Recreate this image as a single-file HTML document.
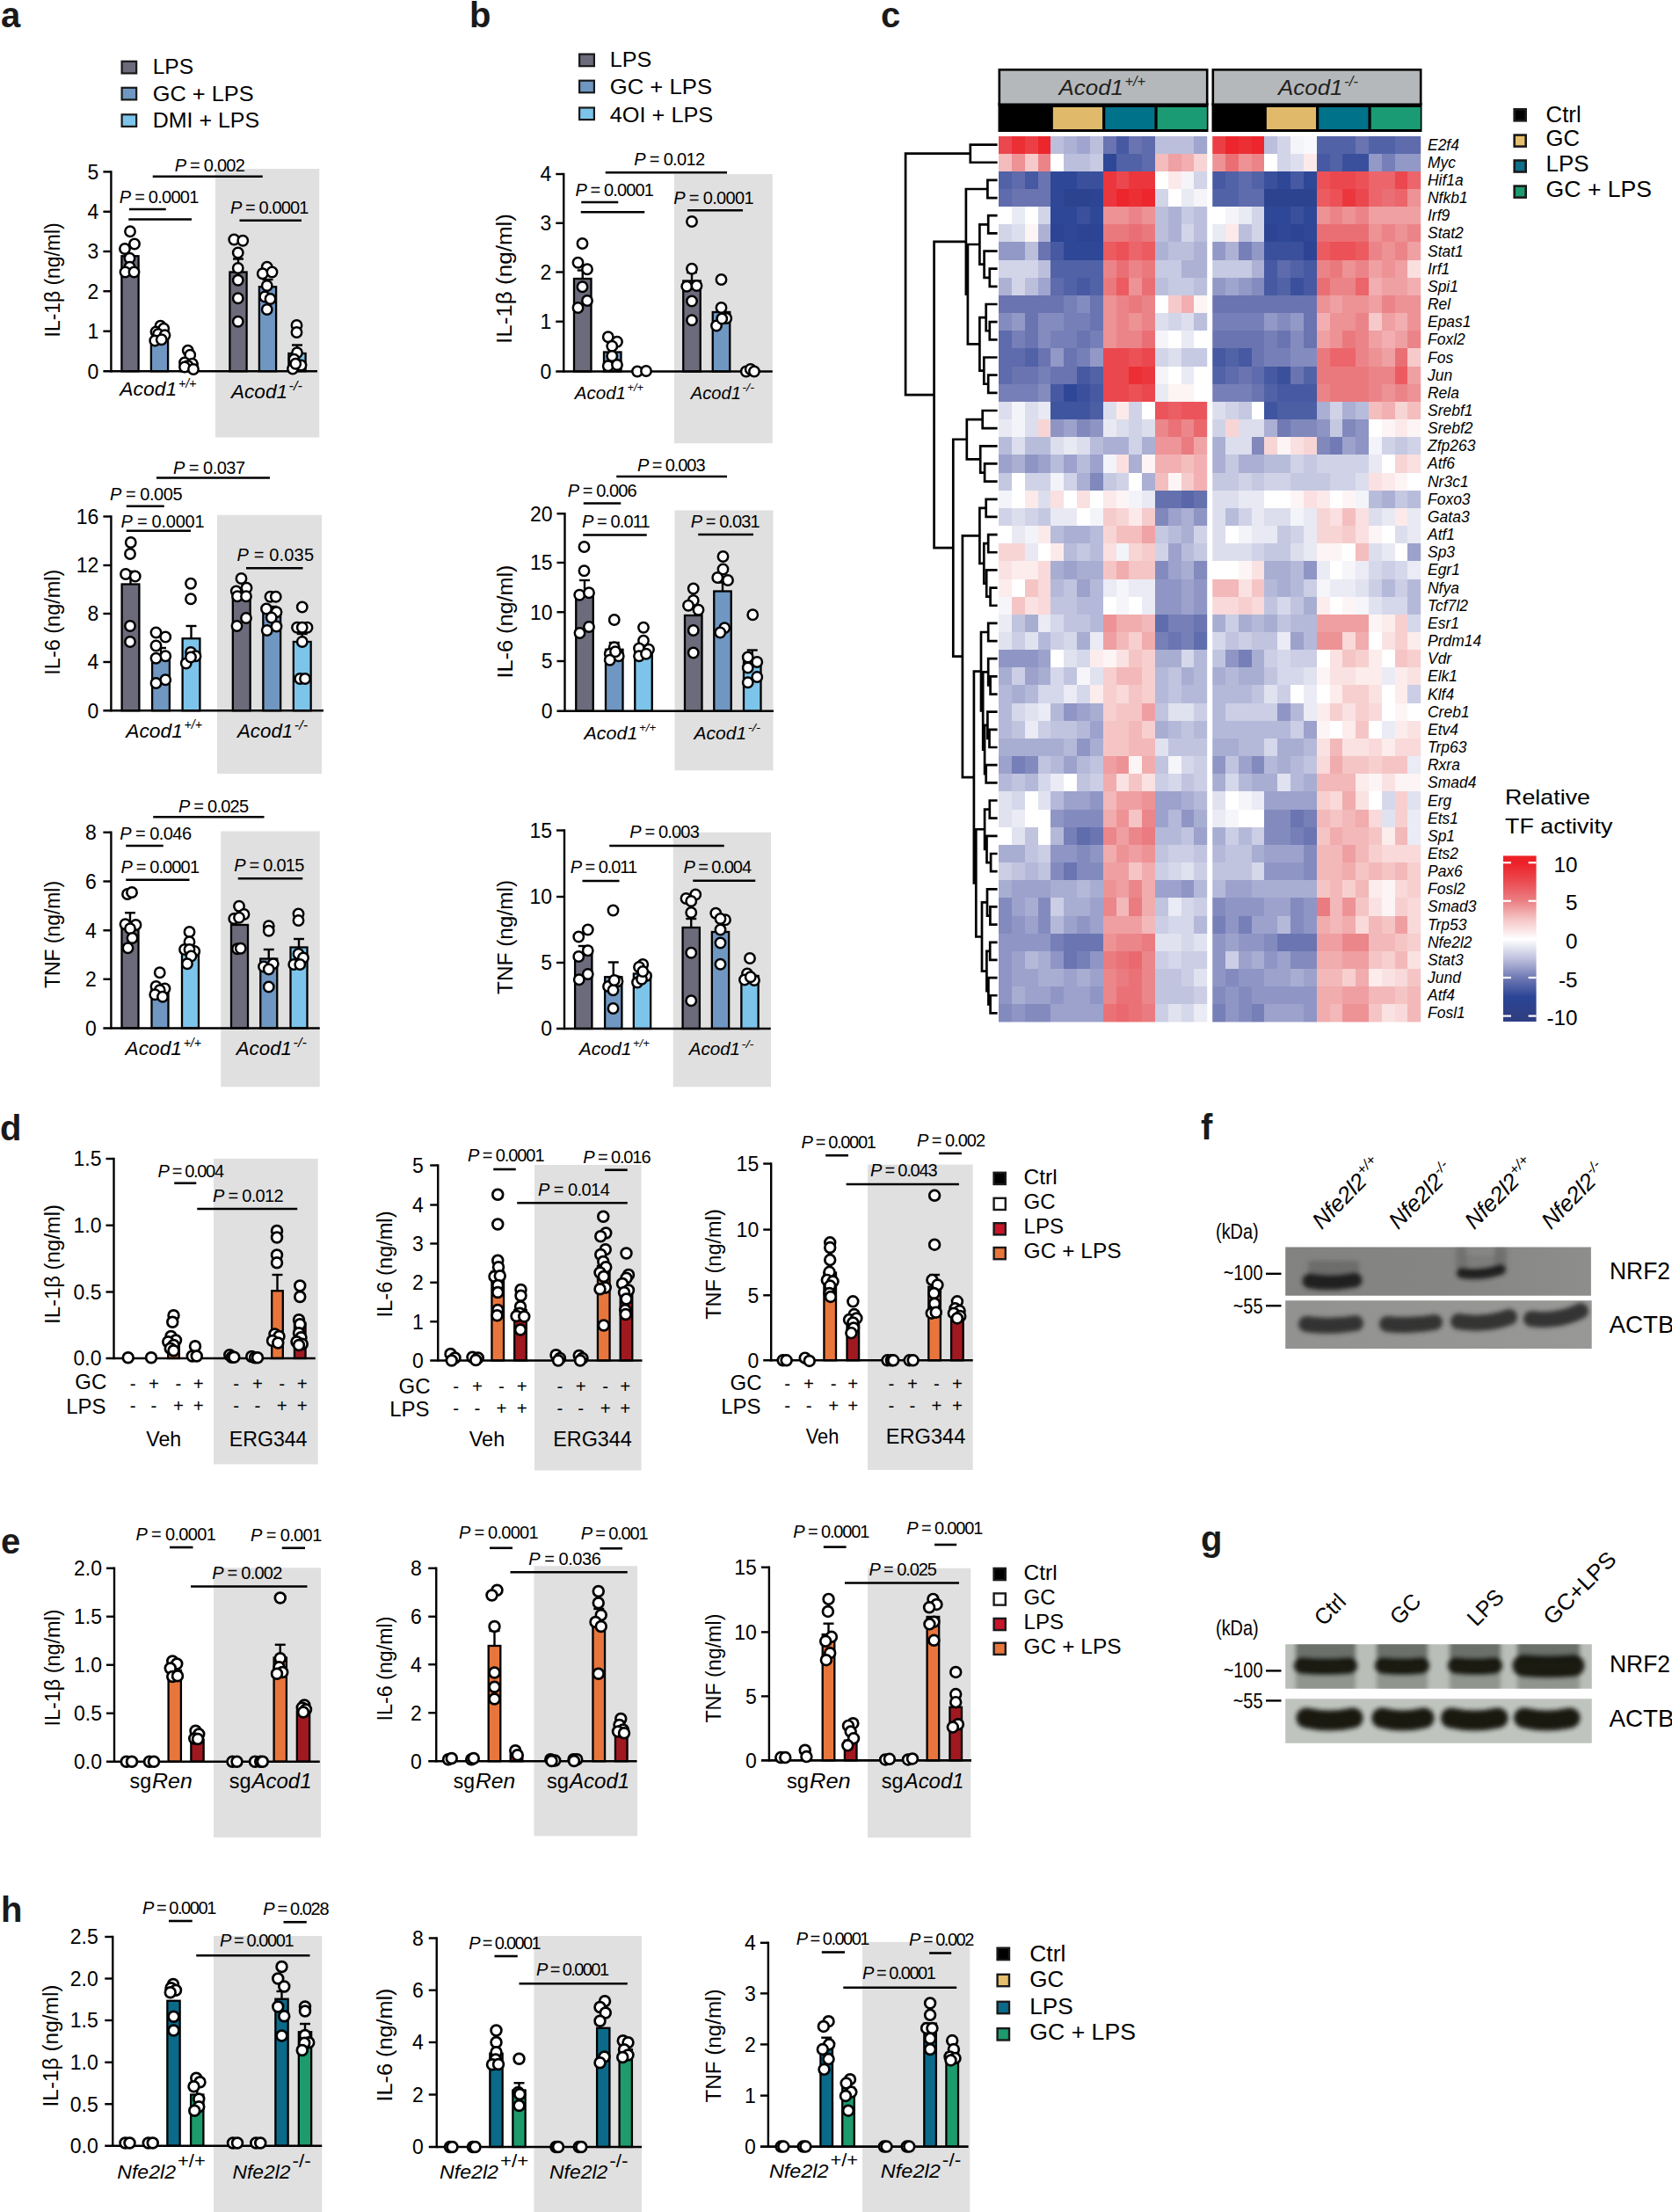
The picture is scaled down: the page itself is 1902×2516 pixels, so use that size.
<!DOCTYPE html>
<html><head><meta charset="utf-8"><title>Figure</title>
<style>html,body{margin:0;padding:0;background:#fff}svg{display:block}svg text{font-family:"Liberation Sans",sans-serif}</style></head>
<body>
<svg width="1902" height="2516" viewBox="0 0 1902 2516" font-family="'Liberation Sans', sans-serif" fill="#000">
<text x="1" y="30.5" font-size="40" font-weight="bold" fill="#1a1a1a">a</text>
<rect x="138.6" y="69.8" width="16.55" height="13.6" fill="#6b6b7b" stroke="#1a1a1a" stroke-width="2.2"/>
<text x="173.7" y="84.2" font-size="24.6" textLength="46.5" lengthAdjust="spacingAndGlyphs">LPS</text>
<rect x="138.6" y="99.8" width="16.55" height="13.6" fill="#6f97c1" stroke="#1a1a1a" stroke-width="2.2"/>
<text x="173.7" y="114.6" font-size="24.6" textLength="115" lengthAdjust="spacingAndGlyphs">GC + LPS</text>
<rect x="138.6" y="130.3" width="16.55" height="13.6" fill="#7dc4ea" stroke="#1a1a1a" stroke-width="2.2"/>
<text x="173.7" y="145" font-size="24.6" textLength="121.5" lengthAdjust="spacingAndGlyphs">DMI + LPS</text>
<rect x="245" y="192" width="118.25" height="305.5" fill="#e0e0e0"/>
<rect x="138.4" y="291.25" width="19.2" height="131" fill="#6b6b7b" stroke="#000" stroke-width="2.3"/>
<rect x="171.9" y="385" width="19.2" height="37.25" fill="#6f97c1" stroke="#000" stroke-width="2.3"/>
<rect x="205.4" y="413.75" width="19.2" height="8.5" fill="#7dc4ea" stroke="#000" stroke-width="2.3"/>
<rect x="261.4" y="309.5" width="19.2" height="112.75" fill="#6b6b7b" stroke="#000" stroke-width="2.3"/>
<rect x="294.9" y="326.25" width="19.2" height="96" fill="#6f97c1" stroke="#000" stroke-width="2.3"/>
<rect x="328.4" y="402" width="19.2" height="20.25" fill="#7dc4ea" stroke="#000" stroke-width="2.3"/>
<line x1="271" y1="294.5" x2="271" y2="310" stroke="#000" stroke-width="2.4"/>
<line x1="265" y1="294.5" x2="277" y2="294.5" stroke="#000" stroke-width="2.4"/>
<line x1="338" y1="392.5" x2="338" y2="403" stroke="#000" stroke-width="2.4"/>
<line x1="332" y1="392.5" x2="344" y2="392.5" stroke="#000" stroke-width="2.4"/>
<line x1="304.5" y1="318" x2="304.5" y2="327" stroke="#000" stroke-width="2.4"/>
<line x1="298.5" y1="318" x2="310.5" y2="318" stroke="#000" stroke-width="2.4"/>
<line x1="126.4" y1="194.2" x2="126.4" y2="423.45" stroke="#000" stroke-width="2.4"/>
<line x1="117.4" y1="422.25" x2="361" y2="422.25" stroke="#000" stroke-width="2.6"/>
<line x1="117.4" y1="195.4" x2="126.4" y2="195.4" stroke="#000" stroke-width="2.4"/>
<text x="112.4" y="203.7" font-size="23" text-anchor="end">5</text>
<line x1="117.4" y1="240.75" x2="126.4" y2="240.75" stroke="#000" stroke-width="2.4"/>
<text x="112.4" y="249.05" font-size="23" text-anchor="end">4</text>
<line x1="117.4" y1="286" x2="126.4" y2="286" stroke="#000" stroke-width="2.4"/>
<text x="112.4" y="294.3" font-size="23" text-anchor="end">3</text>
<line x1="117.4" y1="331.25" x2="126.4" y2="331.25" stroke="#000" stroke-width="2.4"/>
<text x="112.4" y="339.55" font-size="23" text-anchor="end">2</text>
<line x1="117.4" y1="376.75" x2="126.4" y2="376.75" stroke="#000" stroke-width="2.4"/>
<text x="112.4" y="385.05" font-size="23" text-anchor="end">1</text>
<text x="112.4" y="430.55" font-size="23" text-anchor="end">0</text>
<g fill="#fff" stroke="#000" stroke-width="2.5">
<circle cx="148" cy="263.25" r="5.7"/>
<circle cx="153" cy="277.5" r="5.7"/>
<circle cx="142" cy="283" r="5.7"/>
<circle cx="147.5" cy="293.75" r="5.7"/>
<circle cx="147.5" cy="303.75" r="5.7"/>
<circle cx="142.5" cy="309.5" r="5.7"/>
<circle cx="152.5" cy="309.5" r="5.7"/>
<circle cx="182.5" cy="370.75" r="5.7"/>
<circle cx="177.5" cy="377.5" r="5.7"/>
<circle cx="186.25" cy="373.75" r="5.7"/>
<circle cx="180" cy="380" r="5.7"/>
<circle cx="187.5" cy="381.25" r="5.7"/>
<circle cx="176.25" cy="387.5" r="5.7"/>
<circle cx="183.75" cy="386.25" r="5.7"/>
<circle cx="213.75" cy="398.75" r="5.7"/>
<circle cx="216.25" cy="403.75" r="5.7"/>
<circle cx="210" cy="412.5" r="5.7"/>
<circle cx="218.75" cy="413.75" r="5.7"/>
<circle cx="213.75" cy="416.25" r="5.7"/>
<circle cx="210" cy="417.5" r="5.7"/>
<circle cx="220" cy="420" r="5.7"/>
<circle cx="266.25" cy="272.5" r="5.7"/>
<circle cx="276.25" cy="273.75" r="5.7"/>
<circle cx="270.75" cy="287.5" r="5.7"/>
<circle cx="270.75" cy="305" r="5.7"/>
<circle cx="270.75" cy="318.75" r="5.7"/>
<circle cx="270.75" cy="339.25" r="5.7"/>
<circle cx="270.75" cy="365.75" r="5.7"/>
<circle cx="303.75" cy="303.75" r="5.7"/>
<circle cx="298.75" cy="311.25" r="5.7"/>
<circle cx="309.5" cy="309.5" r="5.7"/>
<circle cx="303.75" cy="325" r="5.7"/>
<circle cx="301.25" cy="337.5" r="5.7"/>
<circle cx="307.5" cy="340" r="5.7"/>
<circle cx="303.75" cy="352" r="5.7"/>
<circle cx="337.5" cy="370" r="5.7"/>
<circle cx="337.5" cy="378" r="5.7"/>
<circle cx="338" cy="401.25" r="5.7"/>
<circle cx="334.5" cy="408.75" r="5.7"/>
<circle cx="342.5" cy="415.5" r="5.7"/>
<circle cx="333" cy="419.5" r="5.7"/>
<circle cx="336.25" cy="413.75" r="5.7"/>
</g>
<text x="198.75" y="195" font-size="20" textLength="80" lengthAdjust="spacing"><tspan font-style="italic">P</tspan> = 0.002</text>
<line x1="173.75" y1="200.75" x2="298.75" y2="200.75" stroke="#000" stroke-width="2.6"/>
<text x="135.75" y="230.75" font-size="20" textLength="90.5" lengthAdjust="spacing"><tspan font-style="italic">P</tspan> = 0.0001</text>
<line x1="147" y1="238" x2="188.75" y2="238" stroke="#000" stroke-width="2.6"/>
<line x1="146.25" y1="249.5" x2="218" y2="249.5" stroke="#000" stroke-width="2.6"/>
<text x="262" y="242.5" font-size="20" textLength="89.25" lengthAdjust="spacing"><tspan font-style="italic">P</tspan> = 0.0001</text>
<line x1="272.5" y1="250.75" x2="343" y2="250.75" stroke="#000" stroke-width="2.6"/>
<text x="136.3" y="450.3" font-size="22.38" font-style="italic" textLength="64.89" lengthAdjust="spacingAndGlyphs">Acod1</text>
<text x="202.93" y="440.9" font-size="14.32" font-style="italic" textLength="20.47" lengthAdjust="spacingAndGlyphs">+/+</text>
<text x="263" y="453.4" font-size="22.07" font-style="italic" textLength="63.99" lengthAdjust="spacingAndGlyphs">Acod1</text>
<text x="328.61" y="444.13" font-size="14.12" font-style="italic" textLength="15.39" lengthAdjust="spacingAndGlyphs">-/-</text>
<text font-size="23.5" text-anchor="middle" textLength="130" lengthAdjust="spacingAndGlyphs" transform="translate(68.2,318.4) rotate(-90)">IL-1β (ng/ml)</text>
<rect x="247" y="585.75" width="119" height="294.25" fill="#e0e0e0"/>
<rect x="138.6" y="664.5" width="19.8" height="143.75" fill="#6b6b7b" stroke="#000" stroke-width="2.3"/>
<rect x="173.1" y="746" width="19.8" height="62.25" fill="#6f97c1" stroke="#000" stroke-width="2.3"/>
<rect x="207.6" y="726.25" width="19.8" height="82" fill="#7dc4ea" stroke="#000" stroke-width="2.3"/>
<rect x="264.85" y="680" width="19.8" height="128.25" fill="#6b6b7b" stroke="#000" stroke-width="2.3"/>
<rect x="299.35" y="697.5" width="19.8" height="110.75" fill="#6f97c1" stroke="#000" stroke-width="2.3"/>
<rect x="333.85" y="730" width="19.8" height="78.25" fill="#7dc4ea" stroke="#000" stroke-width="2.3"/>
<line x1="148.5" y1="650" x2="148.5" y2="665" stroke="#000" stroke-width="2.4"/>
<line x1="142.5" y1="650" x2="154.5" y2="650" stroke="#000" stroke-width="2.4"/>
<line x1="183" y1="737" x2="183" y2="747" stroke="#000" stroke-width="2.4"/>
<line x1="177" y1="737" x2="189" y2="737" stroke="#000" stroke-width="2.4"/>
<line x1="217.5" y1="712" x2="217.5" y2="727" stroke="#000" stroke-width="2.4"/>
<line x1="211.5" y1="712" x2="223.5" y2="712" stroke="#000" stroke-width="2.4"/>
<line x1="309.25" y1="690" x2="309.25" y2="698" stroke="#000" stroke-width="2.4"/>
<line x1="303.25" y1="690" x2="315.25" y2="690" stroke="#000" stroke-width="2.4"/>
<line x1="343.75" y1="721" x2="343.75" y2="731" stroke="#000" stroke-width="2.4"/>
<line x1="337.75" y1="721" x2="349.75" y2="721" stroke="#000" stroke-width="2.4"/>
<line x1="126.4" y1="586.3" x2="126.4" y2="809.45" stroke="#000" stroke-width="2.4"/>
<line x1="117.4" y1="808.25" x2="368" y2="808.25" stroke="#000" stroke-width="2.6"/>
<line x1="117.4" y1="587.5" x2="126.4" y2="587.5" stroke="#000" stroke-width="2.4"/>
<text x="112.4" y="595.8" font-size="23" text-anchor="end">16</text>
<line x1="117.4" y1="643" x2="126.4" y2="643" stroke="#000" stroke-width="2.4"/>
<text x="112.4" y="651.3" font-size="23" text-anchor="end">12</text>
<line x1="117.4" y1="698" x2="126.4" y2="698" stroke="#000" stroke-width="2.4"/>
<text x="112.4" y="706.3" font-size="23" text-anchor="end">8</text>
<line x1="117.4" y1="753" x2="126.4" y2="753" stroke="#000" stroke-width="2.4"/>
<text x="112.4" y="761.3" font-size="23" text-anchor="end">4</text>
<text x="112.4" y="816.55" font-size="23" text-anchor="end">0</text>
<g fill="#fff" stroke="#000" stroke-width="2.5">
<circle cx="148.75" cy="617" r="5.7"/>
<circle cx="148" cy="630" r="5.7"/>
<circle cx="143" cy="653" r="5.7"/>
<circle cx="153.75" cy="655.5" r="5.7"/>
<circle cx="148" cy="712" r="5.7"/>
<circle cx="148" cy="730" r="5.7"/>
<circle cx="177.5" cy="719.5" r="5.7"/>
<circle cx="188.25" cy="724.5" r="5.7"/>
<circle cx="177.5" cy="734.5" r="5.7"/>
<circle cx="188.25" cy="746.25" r="5.7"/>
<circle cx="177.5" cy="748.75" r="5.7"/>
<circle cx="188.25" cy="773.25" r="5.7"/>
<circle cx="177.5" cy="777" r="5.7"/>
<circle cx="217" cy="663.75" r="5.7"/>
<circle cx="217" cy="681.25" r="5.7"/>
<circle cx="217" cy="742" r="5.7"/>
<circle cx="222.5" cy="746.25" r="5.7"/>
<circle cx="211.75" cy="754.5" r="5.7"/>
<circle cx="217" cy="747.5" r="5.7"/>
<circle cx="274.5" cy="658" r="5.7"/>
<circle cx="280.5" cy="668.75" r="5.7"/>
<circle cx="268.75" cy="672.5" r="5.7"/>
<circle cx="270" cy="678.25" r="5.7"/>
<circle cx="280" cy="678.25" r="5.7"/>
<circle cx="280" cy="703" r="5.7"/>
<circle cx="269.5" cy="712" r="5.7"/>
<circle cx="307.5" cy="678.75" r="5.7"/>
<circle cx="313.75" cy="678.75" r="5.7"/>
<circle cx="303" cy="692.5" r="5.7"/>
<circle cx="314.5" cy="696.25" r="5.7"/>
<circle cx="308.75" cy="702.5" r="5.7"/>
<circle cx="314.5" cy="712.5" r="5.7"/>
<circle cx="303.75" cy="717" r="5.7"/>
<circle cx="343.75" cy="690.5" r="5.7"/>
<circle cx="338" cy="713.75" r="5.7"/>
<circle cx="349.5" cy="713.75" r="5.7"/>
<circle cx="343.75" cy="713.75" r="5.7"/>
<circle cx="343.75" cy="730" r="5.7"/>
<circle cx="341.25" cy="772" r="5.7"/>
<circle cx="347" cy="772" r="5.7"/>
</g>
<text x="197" y="538.75" font-size="20" textLength="82" lengthAdjust="spacing"><tspan font-style="italic">P</tspan> = 0.037</text>
<line x1="178" y1="543.5" x2="307" y2="543.5" stroke="#000" stroke-width="2.6"/>
<text x="125" y="568.75" font-size="20" textLength="82.5" lengthAdjust="spacing"><tspan font-style="italic">P</tspan> = 0.005</text>
<line x1="143.75" y1="575.75" x2="186.75" y2="575.75" stroke="#000" stroke-width="2.6"/>
<text x="137.5" y="599.5" font-size="20" textLength="95" lengthAdjust="spacing"><tspan font-style="italic">P</tspan> = 0.0001</text>
<line x1="143.75" y1="603.75" x2="217" y2="603.75" stroke="#000" stroke-width="2.6"/>
<text x="269.5" y="638" font-size="20" textLength="87.5" lengthAdjust="spacing"><tspan font-style="italic">P</tspan> = 0.035</text>
<line x1="280" y1="646.25" x2="344.5" y2="646.25" stroke="#000" stroke-width="2.6"/>
<text x="143.25" y="838.75" font-size="22.29" font-style="italic" textLength="64.63" lengthAdjust="spacingAndGlyphs">Acod1</text>
<text x="209.61" y="829.39" font-size="14.26" font-style="italic" textLength="20.39" lengthAdjust="spacingAndGlyphs">+/+</text>
<text x="270" y="838.75" font-size="21.79" font-style="italic" textLength="63.2" lengthAdjust="spacingAndGlyphs">Acod1</text>
<text x="334.8" y="829.6" font-size="13.95" font-style="italic" textLength="15.2" lengthAdjust="spacingAndGlyphs">-/-</text>
<text font-size="23.5" text-anchor="middle" textLength="120" lengthAdjust="spacingAndGlyphs" transform="translate(68.4,707.7) rotate(-90)">IL-6 (ng/ml)</text>
<rect x="251.25" y="945.5" width="112.5" height="290.75" fill="#e0e0e0"/>
<rect x="138.5" y="1052.5" width="19" height="117" fill="#6b6b7b" stroke="#000" stroke-width="2.3"/>
<rect x="172.5" y="1126" width="19" height="43.5" fill="#6f97c1" stroke="#000" stroke-width="2.3"/>
<rect x="207" y="1083.75" width="19" height="85.75" fill="#7dc4ea" stroke="#000" stroke-width="2.3"/>
<rect x="263" y="1052" width="19" height="117.5" fill="#6b6b7b" stroke="#000" stroke-width="2.3"/>
<rect x="296.25" y="1090.5" width="19" height="79" fill="#6f97c1" stroke="#000" stroke-width="2.3"/>
<rect x="330.5" y="1077.5" width="19" height="92" fill="#7dc4ea" stroke="#000" stroke-width="2.3"/>
<line x1="148" y1="1038.25" x2="148" y2="1053" stroke="#000" stroke-width="2.4"/>
<line x1="142" y1="1038.25" x2="154" y2="1038.25" stroke="#000" stroke-width="2.4"/>
<line x1="305.75" y1="1080" x2="305.75" y2="1091" stroke="#000" stroke-width="2.4"/>
<line x1="299.75" y1="1080" x2="311.75" y2="1080" stroke="#000" stroke-width="2.4"/>
<line x1="340" y1="1068" x2="340" y2="1078" stroke="#000" stroke-width="2.4"/>
<line x1="334" y1="1068" x2="346" y2="1068" stroke="#000" stroke-width="2.4"/>
<line x1="126.4" y1="945.55" x2="126.4" y2="1170.7" stroke="#000" stroke-width="2.4"/>
<line x1="117.4" y1="1169.5" x2="363.75" y2="1169.5" stroke="#000" stroke-width="2.6"/>
<line x1="117.4" y1="946.75" x2="126.4" y2="946.75" stroke="#000" stroke-width="2.4"/>
<text x="109.9" y="955.05" font-size="23" text-anchor="end">8</text>
<line x1="117.4" y1="1002.5" x2="126.4" y2="1002.5" stroke="#000" stroke-width="2.4"/>
<text x="109.9" y="1010.8" font-size="23" text-anchor="end">6</text>
<line x1="117.4" y1="1058.25" x2="126.4" y2="1058.25" stroke="#000" stroke-width="2.4"/>
<text x="109.9" y="1066.55" font-size="23" text-anchor="end">4</text>
<line x1="117.4" y1="1113.75" x2="126.4" y2="1113.75" stroke="#000" stroke-width="2.4"/>
<text x="109.9" y="1122.05" font-size="23" text-anchor="end">2</text>
<text x="109.9" y="1177.8" font-size="23" text-anchor="end">0</text>
<g fill="#fff" stroke="#000" stroke-width="2.5">
<circle cx="145" cy="1017" r="5.7"/>
<circle cx="150" cy="1015" r="5.7"/>
<circle cx="142.5" cy="1051.25" r="5.7"/>
<circle cx="154.5" cy="1052" r="5.7"/>
<circle cx="148" cy="1056.25" r="5.7"/>
<circle cx="150.5" cy="1067" r="5.7"/>
<circle cx="145.5" cy="1078.25" r="5.7"/>
<circle cx="181.75" cy="1106.25" r="5.7"/>
<circle cx="177.5" cy="1122" r="5.7"/>
<circle cx="187.5" cy="1124.5" r="5.7"/>
<circle cx="181.75" cy="1126.25" r="5.7"/>
<circle cx="176.25" cy="1131.25" r="5.7"/>
<circle cx="185" cy="1133.75" r="5.7"/>
<circle cx="215.5" cy="1060" r="5.7"/>
<circle cx="215.5" cy="1071.25" r="5.7"/>
<circle cx="210" cy="1080" r="5.7"/>
<circle cx="221.25" cy="1082" r="5.7"/>
<circle cx="215.5" cy="1080" r="5.7"/>
<circle cx="217.5" cy="1087.5" r="5.7"/>
<circle cx="213" cy="1096.25" r="5.7"/>
<circle cx="272" cy="1030.75" r="5.7"/>
<circle cx="277.5" cy="1040" r="5.7"/>
<circle cx="266.25" cy="1045" r="5.7"/>
<circle cx="272" cy="1043.75" r="5.7"/>
<circle cx="270" cy="1079.25" r="5.7"/>
<circle cx="273.75" cy="1078.75" r="5.7"/>
<circle cx="305.75" cy="1053.25" r="5.7"/>
<circle cx="305.75" cy="1058.75" r="5.7"/>
<circle cx="300" cy="1099.5" r="5.7"/>
<circle cx="310.75" cy="1096.25" r="5.7"/>
<circle cx="305.75" cy="1102.5" r="5.7"/>
<circle cx="305.75" cy="1122.5" r="5.7"/>
<circle cx="339.5" cy="1039.5" r="5.7"/>
<circle cx="339.5" cy="1047" r="5.7"/>
<circle cx="339.5" cy="1085" r="5.7"/>
<circle cx="345" cy="1089.5" r="5.7"/>
<circle cx="334.25" cy="1097" r="5.7"/>
<circle cx="341.25" cy="1097" r="5.7"/>
</g>
<text x="203" y="923.75" font-size="20" textLength="80" lengthAdjust="spacing"><tspan font-style="italic">P</tspan> = 0.025</text>
<line x1="174.25" y1="929.25" x2="300.5" y2="929.25" stroke="#000" stroke-width="2.6"/>
<text x="136.25" y="954.5" font-size="20" textLength="81.75" lengthAdjust="spacing"><tspan font-style="italic">P</tspan> = 0.046</text>
<line x1="143.25" y1="962" x2="185.75" y2="962" stroke="#000" stroke-width="2.6"/>
<text x="137.5" y="992.5" font-size="20" textLength="89.5" lengthAdjust="spacing"><tspan font-style="italic">P</tspan> = 0.0001</text>
<line x1="143.25" y1="1000.75" x2="215.5" y2="1000.75" stroke="#000" stroke-width="2.6"/>
<text x="266.25" y="991.25" font-size="20" textLength="80" lengthAdjust="spacing"><tspan font-style="italic">P</tspan> = 0.015</text>
<line x1="270.75" y1="999.25" x2="344.25" y2="999.25" stroke="#000" stroke-width="2.6"/>
<text x="142.5" y="1200" font-size="22.22" font-style="italic" textLength="64.44" lengthAdjust="spacingAndGlyphs">Acod1</text>
<text x="208.67" y="1190.67" font-size="14.22" font-style="italic" textLength="20.33" lengthAdjust="spacingAndGlyphs">+/+</text>
<text x="268.75" y="1200" font-size="21.79" font-style="italic" textLength="63.2" lengthAdjust="spacingAndGlyphs">Acod1</text>
<text x="333.55" y="1190.85" font-size="13.95" font-style="italic" textLength="15.2" lengthAdjust="spacingAndGlyphs">-/-</text>
<text font-size="23.5" text-anchor="middle" textLength="122" lengthAdjust="spacingAndGlyphs" transform="translate(68.4,1063) rotate(-90)">TNF (ng/ml)</text>
<text x="534" y="30.5" font-size="40" font-weight="bold" fill="#1a1a1a">b</text>
<rect x="659.1" y="61.6" width="16.8" height="13.6" fill="#6b6b7b" stroke="#1a1a1a" stroke-width="2.2"/>
<text x="693.75" y="76.4" font-size="24.6" textLength="47.5" lengthAdjust="spacingAndGlyphs">LPS</text>
<rect x="659.1" y="91.7" width="16.8" height="13.6" fill="#6f97c1" stroke="#1a1a1a" stroke-width="2.2"/>
<text x="693.75" y="107" font-size="24.6" textLength="116.25" lengthAdjust="spacingAndGlyphs">GC + LPS</text>
<rect x="659.1" y="122.5" width="16.8" height="13.6" fill="#7dc4ea" stroke="#1a1a1a" stroke-width="2.2"/>
<text x="693.75" y="138.6" font-size="24.6" textLength="117.5" lengthAdjust="spacingAndGlyphs">4OI + LPS</text>
<rect x="767" y="198" width="111.75" height="306.25" fill="#e0e0e0"/>
<rect x="653" y="317" width="19.5" height="105.5" fill="#6b6b7b" stroke="#000" stroke-width="2.3"/>
<rect x="687" y="400.5" width="19.5" height="22" fill="#6f97c1" stroke="#000" stroke-width="2.3"/>
<rect x="777.25" y="319.5" width="19.5" height="103" fill="#6b6b7b" stroke="#000" stroke-width="2.3"/>
<rect x="810.75" y="355" width="19.5" height="67.5" fill="#6f97c1" stroke="#000" stroke-width="2.3"/>
<line x1="662.75" y1="307.5" x2="662.75" y2="318" stroke="#000" stroke-width="2.4"/>
<line x1="656.75" y1="307.5" x2="668.75" y2="307.5" stroke="#000" stroke-width="2.4"/>
<line x1="787" y1="310" x2="787" y2="320" stroke="#000" stroke-width="2.4"/>
<line x1="781" y1="310" x2="793" y2="310" stroke="#000" stroke-width="2.4"/>
<line x1="696.75" y1="396" x2="696.75" y2="401" stroke="#000" stroke-width="2.4"/>
<line x1="690.75" y1="396" x2="702.75" y2="396" stroke="#000" stroke-width="2.4"/>
<line x1="641.25" y1="196.8" x2="641.25" y2="423.7" stroke="#000" stroke-width="2.4"/>
<line x1="632.25" y1="422.5" x2="878.75" y2="422.5" stroke="#000" stroke-width="2.6"/>
<line x1="632.25" y1="198" x2="641.25" y2="198" stroke="#000" stroke-width="2.4"/>
<text x="627.25" y="206.3" font-size="23" text-anchor="end">4</text>
<line x1="632.25" y1="253.75" x2="641.25" y2="253.75" stroke="#000" stroke-width="2.4"/>
<text x="627.25" y="262.05" font-size="23" text-anchor="end">3</text>
<line x1="632.25" y1="309.5" x2="641.25" y2="309.5" stroke="#000" stroke-width="2.4"/>
<text x="627.25" y="317.8" font-size="23" text-anchor="end">2</text>
<line x1="632.25" y1="365.75" x2="641.25" y2="365.75" stroke="#000" stroke-width="2.4"/>
<text x="627.25" y="374.05" font-size="23" text-anchor="end">1</text>
<text x="627.25" y="430.8" font-size="23" text-anchor="end">0</text>
<g fill="#fff" stroke="#000" stroke-width="2.5">
<circle cx="662.5" cy="277" r="5.7"/>
<circle cx="657.5" cy="298.75" r="5.7"/>
<circle cx="668" cy="306.25" r="5.7"/>
<circle cx="662.5" cy="326.25" r="5.7"/>
<circle cx="668" cy="342" r="5.7"/>
<circle cx="657.5" cy="350" r="5.7"/>
<circle cx="691.75" cy="383.25" r="5.7"/>
<circle cx="702" cy="388.75" r="5.7"/>
<circle cx="696.25" cy="393.75" r="5.7"/>
<circle cx="696.25" cy="405" r="5.7"/>
<circle cx="691.75" cy="416.25" r="5.7"/>
<circle cx="702" cy="415" r="5.7"/>
<circle cx="725" cy="422.5" r="5.7"/>
<circle cx="735" cy="422" r="5.7"/>
<circle cx="787" cy="252" r="5.7"/>
<circle cx="787" cy="305.75" r="5.7"/>
<circle cx="781.25" cy="325.75" r="5.7"/>
<circle cx="792.5" cy="325" r="5.7"/>
<circle cx="787" cy="342.5" r="5.7"/>
<circle cx="787" cy="364.25" r="5.7"/>
<circle cx="820.5" cy="318" r="5.7"/>
<circle cx="820.5" cy="350" r="5.7"/>
<circle cx="826.25" cy="362" r="5.7"/>
<circle cx="815" cy="370.5" r="5.7"/>
<circle cx="821.25" cy="362.5" r="5.7"/>
<circle cx="848.75" cy="422.5" r="5.7"/>
<circle cx="853.75" cy="420" r="5.7"/>
<circle cx="858" cy="422.5" r="5.7"/>
</g>
<text x="721.25" y="187.5" font-size="20" textLength="80.75" lengthAdjust="spacing"><tspan font-style="italic">P</tspan> = 0.012</text>
<line x1="688.75" y1="196.25" x2="827" y2="196.25" stroke="#000" stroke-width="2.6"/>
<text x="654.5" y="222.5" font-size="20" textLength="89.25" lengthAdjust="spacing"><tspan font-style="italic">P</tspan> = 0.0001</text>
<line x1="661.25" y1="230" x2="703.25" y2="230" stroke="#000" stroke-width="2.6"/>
<line x1="660.75" y1="241.25" x2="733.25" y2="241.25" stroke="#000" stroke-width="2.6"/>
<text x="766.25" y="231.75" font-size="20" textLength="91.25" lengthAdjust="spacing"><tspan font-style="italic">P</tspan> = 0.0001</text>
<line x1="782" y1="239.25" x2="845" y2="239.25" stroke="#000" stroke-width="2.6"/>
<text x="653.75" y="453.75" font-size="20.1" font-style="italic" textLength="58.3" lengthAdjust="spacingAndGlyphs">Acod1</text>
<text x="713.61" y="445.31" font-size="12.87" font-style="italic" textLength="18.39" lengthAdjust="spacingAndGlyphs">+/+</text>
<text x="785.75" y="453.75" font-size="19.68" font-style="italic" textLength="57.08" lengthAdjust="spacingAndGlyphs">Acod1</text>
<text x="844.27" y="445.48" font-size="12.6" font-style="italic" textLength="13.73" lengthAdjust="spacingAndGlyphs">-/-</text>
<text font-size="23.5" text-anchor="middle" textLength="148" lengthAdjust="spacingAndGlyphs" transform="translate(582,317) rotate(-90)">IL-1β (ng/ml)</text>
<rect x="767.5" y="580.5" width="112" height="295.75" fill="#e0e0e0"/>
<rect x="655.25" y="676.25" width="19.5" height="132.5" fill="#6b6b7b" stroke="#000" stroke-width="2.3"/>
<rect x="689" y="738.75" width="19.5" height="70" fill="#6f97c1" stroke="#000" stroke-width="2.3"/>
<rect x="722.25" y="740" width="19.5" height="68.75" fill="#7dc4ea" stroke="#000" stroke-width="2.3"/>
<rect x="779" y="700" width="19.5" height="108.75" fill="#6b6b7b" stroke="#000" stroke-width="2.3"/>
<rect x="812.25" y="672.5" width="19.5" height="136.25" fill="#6f97c1" stroke="#000" stroke-width="2.3"/>
<rect x="846" y="750" width="19.5" height="58.75" fill="#7dc4ea" stroke="#000" stroke-width="2.3"/>
<line x1="665" y1="660" x2="665" y2="677" stroke="#000" stroke-width="2.4"/>
<line x1="659" y1="660" x2="671" y2="660" stroke="#000" stroke-width="2.4"/>
<line x1="698.75" y1="731" x2="698.75" y2="739.5" stroke="#000" stroke-width="2.4"/>
<line x1="692.75" y1="731" x2="704.75" y2="731" stroke="#000" stroke-width="2.4"/>
<line x1="822" y1="662.5" x2="822" y2="673" stroke="#000" stroke-width="2.4"/>
<line x1="816" y1="662.5" x2="828" y2="662.5" stroke="#000" stroke-width="2.4"/>
<line x1="855.75" y1="739.5" x2="855.75" y2="751" stroke="#000" stroke-width="2.4"/>
<line x1="849.75" y1="739.5" x2="861.75" y2="739.5" stroke="#000" stroke-width="2.4"/>
<line x1="642.5" y1="583.05" x2="642.5" y2="809.95" stroke="#000" stroke-width="2.4"/>
<line x1="633.5" y1="808.75" x2="880" y2="808.75" stroke="#000" stroke-width="2.6"/>
<line x1="633.5" y1="584.25" x2="642.5" y2="584.25" stroke="#000" stroke-width="2.4"/>
<text x="628.5" y="592.55" font-size="23" text-anchor="end">20</text>
<line x1="633.5" y1="640" x2="642.5" y2="640" stroke="#000" stroke-width="2.4"/>
<text x="628.5" y="648.3" font-size="23" text-anchor="end">15</text>
<line x1="633.5" y1="696.25" x2="642.5" y2="696.25" stroke="#000" stroke-width="2.4"/>
<text x="628.5" y="704.55" font-size="23" text-anchor="end">10</text>
<line x1="633.5" y1="752" x2="642.5" y2="752" stroke="#000" stroke-width="2.4"/>
<text x="628.5" y="760.3" font-size="23" text-anchor="end">5</text>
<text x="628.5" y="817.05" font-size="23" text-anchor="end">0</text>
<g fill="#fff" stroke="#000" stroke-width="2.5">
<circle cx="664.5" cy="622" r="5.7"/>
<circle cx="664.5" cy="649.25" r="5.7"/>
<circle cx="659.25" cy="676.75" r="5.7"/>
<circle cx="670" cy="674.25" r="5.7"/>
<circle cx="670" cy="713" r="5.7"/>
<circle cx="659.5" cy="720" r="5.7"/>
<circle cx="698.75" cy="705" r="5.7"/>
<circle cx="698.75" cy="736.25" r="5.7"/>
<circle cx="693.75" cy="743.75" r="5.7"/>
<circle cx="703.75" cy="746.25" r="5.7"/>
<circle cx="693.75" cy="750.75" r="5.7"/>
<circle cx="700" cy="741.25" r="5.7"/>
<circle cx="732" cy="713.75" r="5.7"/>
<circle cx="732" cy="728.75" r="5.7"/>
<circle cx="727" cy="737.5" r="5.7"/>
<circle cx="738" cy="738.75" r="5.7"/>
<circle cx="727" cy="746.25" r="5.7"/>
<circle cx="735" cy="743.75" r="5.7"/>
<circle cx="788.75" cy="669.5" r="5.7"/>
<circle cx="788.75" cy="683" r="5.7"/>
<circle cx="783" cy="688.75" r="5.7"/>
<circle cx="794.5" cy="693.75" r="5.7"/>
<circle cx="788.75" cy="717" r="5.7"/>
<circle cx="788.75" cy="742.5" r="5.7"/>
<circle cx="822.5" cy="633" r="5.7"/>
<circle cx="822.5" cy="647.5" r="5.7"/>
<circle cx="816.25" cy="657" r="5.7"/>
<circle cx="828" cy="660" r="5.7"/>
<circle cx="824.25" cy="714.25" r="5.7"/>
<circle cx="819.25" cy="719.5" r="5.7"/>
<circle cx="856.25" cy="699.25" r="5.7"/>
<circle cx="850.75" cy="747.5" r="5.7"/>
<circle cx="861.25" cy="753" r="5.7"/>
<circle cx="850.75" cy="759.5" r="5.7"/>
<circle cx="861.25" cy="770" r="5.7"/>
<circle cx="850.75" cy="776.25" r="5.7"/>
</g>
<text x="725" y="535.75" font-size="20" textLength="77.5" lengthAdjust="spacing"><tspan font-style="italic">P</tspan> = 0.003</text>
<line x1="701.25" y1="542" x2="827" y2="542" stroke="#000" stroke-width="2.6"/>
<text x="645.75" y="564.5" font-size="20" textLength="78.75" lengthAdjust="spacing"><tspan font-style="italic">P</tspan> = 0.006</text>
<line x1="663.75" y1="572.5" x2="706.25" y2="572.5" stroke="#000" stroke-width="2.6"/>
<text x="662" y="599.5" font-size="20" textLength="77.5" lengthAdjust="spacing"><tspan font-style="italic">P</tspan> = 0.011</text>
<line x1="663.25" y1="608.5" x2="735.75" y2="608.5" stroke="#000" stroke-width="2.6"/>
<text x="785.75" y="599.5" font-size="20" textLength="78.75" lengthAdjust="spacing"><tspan font-style="italic">P</tspan> = 0.031</text>
<line x1="794.25" y1="608" x2="857" y2="608" stroke="#000" stroke-width="2.6"/>
<text x="664.5" y="840.5" font-size="21" font-style="italic" textLength="60.9" lengthAdjust="spacingAndGlyphs">Acod1</text>
<text x="727.04" y="831.68" font-size="13.44" font-style="italic" textLength="19.21" lengthAdjust="spacingAndGlyphs">+/+</text>
<text x="789.5" y="840.5" font-size="20.57" font-style="italic" textLength="59.65" lengthAdjust="spacingAndGlyphs">Acod1</text>
<text x="850.65" y="831.86" font-size="13.16" font-style="italic" textLength="14.35" lengthAdjust="spacingAndGlyphs">-/-</text>
<text font-size="23.5" text-anchor="middle" textLength="129" lengthAdjust="spacingAndGlyphs" transform="translate(582.5,707) rotate(-90)">IL-6 (ng/ml)</text>
<rect x="765.75" y="946.75" width="111.25" height="289.5" fill="#e0e0e0"/>
<rect x="654.1" y="1085.75" width="19.3" height="84.25" fill="#6b6b7b" stroke="#000" stroke-width="2.3"/>
<rect x="688.1" y="1111.25" width="19.3" height="58.75" fill="#6f97c1" stroke="#000" stroke-width="2.3"/>
<rect x="720.85" y="1107.5" width="19.3" height="62.5" fill="#7dc4ea" stroke="#000" stroke-width="2.3"/>
<rect x="776.6" y="1055" width="19.3" height="115" fill="#6b6b7b" stroke="#000" stroke-width="2.3"/>
<rect x="809.85" y="1060" width="19.3" height="110" fill="#6f97c1" stroke="#000" stroke-width="2.3"/>
<rect x="843.35" y="1110" width="19.3" height="60" fill="#7dc4ea" stroke="#000" stroke-width="2.3"/>
<line x1="663.75" y1="1076" x2="663.75" y2="1086" stroke="#000" stroke-width="2.4"/>
<line x1="657.75" y1="1076" x2="669.75" y2="1076" stroke="#000" stroke-width="2.4"/>
<line x1="697.75" y1="1094.5" x2="697.75" y2="1112" stroke="#000" stroke-width="2.4"/>
<line x1="691.75" y1="1094.5" x2="703.75" y2="1094.5" stroke="#000" stroke-width="2.4"/>
<line x1="786.25" y1="1045" x2="786.25" y2="1056" stroke="#000" stroke-width="2.4"/>
<line x1="780.25" y1="1045" x2="792.25" y2="1045" stroke="#000" stroke-width="2.4"/>
<line x1="642" y1="943.3" x2="642" y2="1171.2" stroke="#000" stroke-width="2.4"/>
<line x1="633" y1="1170" x2="876.75" y2="1170" stroke="#000" stroke-width="2.6"/>
<line x1="633" y1="944.5" x2="642" y2="944.5" stroke="#000" stroke-width="2.4"/>
<text x="628" y="952.8" font-size="23" text-anchor="end">15</text>
<line x1="633" y1="1020" x2="642" y2="1020" stroke="#000" stroke-width="2.4"/>
<text x="628" y="1028.3" font-size="23" text-anchor="end">10</text>
<line x1="633" y1="1095" x2="642" y2="1095" stroke="#000" stroke-width="2.4"/>
<text x="628" y="1103.3" font-size="23" text-anchor="end">5</text>
<text x="628" y="1178.3" font-size="23" text-anchor="end">0</text>
<g fill="#fff" stroke="#000" stroke-width="2.5">
<circle cx="668.75" cy="1057.5" r="5.7"/>
<circle cx="658.25" cy="1065.5" r="5.7"/>
<circle cx="668.75" cy="1081.25" r="5.7"/>
<circle cx="658.25" cy="1088" r="5.7"/>
<circle cx="668.75" cy="1108" r="5.7"/>
<circle cx="658.75" cy="1114.25" r="5.7"/>
<circle cx="697.5" cy="1035.5" r="5.7"/>
<circle cx="702.5" cy="1116.25" r="5.7"/>
<circle cx="692" cy="1122" r="5.7"/>
<circle cx="697.5" cy="1126.25" r="5.7"/>
<circle cx="697.5" cy="1147" r="5.7"/>
<circle cx="698.75" cy="1115" r="5.7"/>
<circle cx="731.25" cy="1097" r="5.7"/>
<circle cx="727" cy="1100" r="5.7"/>
<circle cx="735" cy="1110" r="5.7"/>
<circle cx="725" cy="1117.5" r="5.7"/>
<circle cx="730" cy="1113.75" r="5.7"/>
<circle cx="731.25" cy="1105" r="5.7"/>
<circle cx="791.25" cy="1017.5" r="5.7"/>
<circle cx="780.5" cy="1022" r="5.7"/>
<circle cx="786.25" cy="1025" r="5.7"/>
<circle cx="786.25" cy="1038" r="5.7"/>
<circle cx="786.25" cy="1083.75" r="5.7"/>
<circle cx="786.25" cy="1138.25" r="5.7"/>
<circle cx="814.25" cy="1038.75" r="5.7"/>
<circle cx="825" cy="1046.25" r="5.7"/>
<circle cx="819.5" cy="1045" r="5.7"/>
<circle cx="819.5" cy="1057.5" r="5.7"/>
<circle cx="819.5" cy="1072.5" r="5.7"/>
<circle cx="819.5" cy="1096.75" r="5.7"/>
<circle cx="853" cy="1090" r="5.7"/>
<circle cx="850" cy="1107.5" r="5.7"/>
<circle cx="847" cy="1114.5" r="5.7"/>
<circle cx="858" cy="1115" r="5.7"/>
<circle cx="853.75" cy="1111.25" r="5.7"/>
</g>
<text x="716.25" y="953.25" font-size="20" textLength="79.5" lengthAdjust="spacing"><tspan font-style="italic">P</tspan> = 0.003</text>
<line x1="693.25" y1="962" x2="823.75" y2="962" stroke="#000" stroke-width="2.6"/>
<text x="648.75" y="992.5" font-size="20" textLength="76.25" lengthAdjust="spacing"><tspan font-style="italic">P</tspan> = 0.011</text>
<line x1="662.5" y1="1002" x2="704.5" y2="1002" stroke="#000" stroke-width="2.6"/>
<text x="777.5" y="993.25" font-size="20" textLength="77.5" lengthAdjust="spacing"><tspan font-style="italic">P</tspan> = 0.004</text>
<line x1="788.25" y1="1001.75" x2="859.25" y2="1001.75" stroke="#000" stroke-width="2.6"/>
<text x="658.75" y="1200" font-size="20.55" font-style="italic" textLength="59.6" lengthAdjust="spacingAndGlyphs">Acod1</text>
<text x="719.95" y="1191.37" font-size="13.15" font-style="italic" textLength="18.8" lengthAdjust="spacingAndGlyphs">+/+</text>
<text x="783.75" y="1200" font-size="20.09" font-style="italic" textLength="58.26" lengthAdjust="spacingAndGlyphs">Acod1</text>
<text x="843.49" y="1191.56" font-size="12.86" font-style="italic" textLength="14.01" lengthAdjust="spacingAndGlyphs">-/-</text>
<text font-size="23.5" text-anchor="middle" textLength="130" lengthAdjust="spacingAndGlyphs" transform="translate(582.5,1066) rotate(-90)">TNF (ng/ml)</text>
<text x="1002" y="30.5" font-size="40" font-weight="bold" fill="#1a1a1a">c</text>
<rect x="1135.5" y="117" width="239" height="33" fill="#000"/>
<rect x="1136.8" y="79.3" width="236.4" height="39.5" fill="#b5b8ba" stroke="#000" stroke-width="2.6"/>
<rect x="1197.85" y="122" width="56.2" height="25" fill="#e0b96a"/>
<rect x="1257.25" y="122" width="56.2" height="25" fill="#00728a"/>
<rect x="1316.65" y="122" width="56.2" height="25" fill="#1a9b74"/>
<rect x="1378.5" y="117" width="239" height="33" fill="#000"/>
<rect x="1379.8" y="79.3" width="236.4" height="39.5" fill="#b5b8ba" stroke="#000" stroke-width="2.6"/>
<rect x="1440.85" y="122" width="56.2" height="25" fill="#e0b96a"/>
<rect x="1500.25" y="122" width="56.2" height="25" fill="#00728a"/>
<rect x="1559.65" y="122" width="56.2" height="25" fill="#1a9b74"/>
<text x="1204.5" y="108.3" font-size="24" font-style="italic" fill="#222" textLength="73.5" lengthAdjust="spacingAndGlyphs">Acod1</text>
<text x="1279.5" y="97.5" font-size="16" font-style="italic" fill="#222" textLength="23.5" lengthAdjust="spacingAndGlyphs">+/+</text>
<text x="1454" y="108.3" font-size="24" font-style="italic" fill="#222" textLength="73.5" lengthAdjust="spacingAndGlyphs">Acod1</text>
<text x="1529" y="97.5" font-size="16" font-style="italic" fill="#222" textLength="16" lengthAdjust="spacingAndGlyphs">-/-</text>
<g shape-rendering="crispEdges">
<rect x="1136.25" y="154.5" width="15.11" height="20.46" fill="#eb474e"/>
<rect x="1151.06" y="154.5" width="15.11" height="20.46" fill="#ec2e35"/>
<rect x="1165.87" y="154.5" width="15.11" height="20.46" fill="#ec3f45"/>
<rect x="1180.68" y="154.5" width="15.11" height="20.46" fill="#ed252c"/>
<rect x="1195.49" y="154.5" width="15.11" height="20.46" fill="#bbbfdc"/>
<rect x="1210.3" y="154.5" width="15.11" height="20.46" fill="#adb2d5"/>
<rect x="1225.11" y="154.5" width="15.11" height="20.46" fill="#9fa5ce"/>
<rect x="1239.92" y="154.5" width="15.11" height="20.46" fill="#bbbfdc"/>
<rect x="1254.73" y="154.5" width="15.11" height="20.46" fill="#6a74b1"/>
<rect x="1269.54" y="154.5" width="15.11" height="20.46" fill="#4659a2"/>
<rect x="1284.35" y="154.5" width="15.11" height="20.46" fill="#6a74b1"/>
<rect x="1299.16" y="154.5" width="15.11" height="20.46" fill="#5e6bac"/>
<rect x="1313.97" y="154.5" width="15.11" height="20.46" fill="#bbbfdc"/>
<rect x="1328.78" y="154.5" width="15.11" height="20.46" fill="#bbbfdc"/>
<rect x="1343.59" y="154.5" width="15.11" height="20.46" fill="#bbbfdc"/>
<rect x="1358.4" y="154.5" width="15.11" height="20.46" fill="#9fa5ce"/>
<rect x="1379.25" y="154.5" width="15.11" height="20.46" fill="#ec3f45"/>
<rect x="1394.06" y="154.5" width="15.11" height="20.46" fill="#ed252c"/>
<rect x="1408.87" y="154.5" width="15.11" height="20.46" fill="#ec2e35"/>
<rect x="1423.68" y="154.5" width="15.11" height="20.46" fill="#ed252c"/>
<rect x="1438.49" y="154.5" width="15.11" height="20.46" fill="#bbbfdc"/>
<rect x="1453.3" y="154.5" width="15.11" height="20.46" fill="#d2d5e8"/>
<rect x="1468.11" y="154.5" width="15.11" height="20.46" fill="#f4f4f9"/>
<rect x="1482.92" y="154.5" width="15.11" height="20.46" fill="#f8f9fc"/>
<rect x="1497.73" y="154.5" width="15.11" height="20.46" fill="#5262a7"/>
<rect x="1512.54" y="154.5" width="15.11" height="20.46" fill="#5262a7"/>
<rect x="1527.35" y="154.5" width="15.11" height="20.46" fill="#5262a7"/>
<rect x="1542.16" y="154.5" width="15.11" height="20.46" fill="#6a74b1"/>
<rect x="1556.97" y="154.5" width="15.11" height="20.46" fill="#5262a7"/>
<rect x="1571.78" y="154.5" width="15.11" height="20.46" fill="#5262a7"/>
<rect x="1586.59" y="154.5" width="15.11" height="20.46" fill="#5e6bac"/>
<rect x="1601.4" y="154.5" width="15.11" height="20.46" fill="#5e6bac"/>
<rect x="1136.25" y="174.66" width="15.11" height="20.46" fill="#f4bcbd"/>
<rect x="1151.06" y="174.66" width="15.11" height="20.46" fill="#ed9295"/>
<rect x="1165.87" y="174.66" width="15.11" height="20.46" fill="#f6caca"/>
<rect x="1180.68" y="174.66" width="15.11" height="20.46" fill="#eb8488"/>
<rect x="1195.49" y="174.66" width="15.11" height="20.46" fill="#ffffff"/>
<rect x="1210.3" y="174.66" width="15.11" height="20.46" fill="#bbbfdc"/>
<rect x="1225.11" y="174.66" width="15.11" height="20.46" fill="#bbbfdc"/>
<rect x="1239.92" y="174.66" width="15.11" height="20.46" fill="#c6cae2"/>
<rect x="1254.73" y="174.66" width="15.11" height="20.46" fill="#2e4797"/>
<rect x="1269.54" y="174.66" width="15.11" height="20.46" fill="#5262a7"/>
<rect x="1284.35" y="174.66" width="15.11" height="20.46" fill="#5262a7"/>
<rect x="1299.16" y="174.66" width="15.11" height="20.46" fill="#5e6bac"/>
<rect x="1313.97" y="174.66" width="15.11" height="20.46" fill="#f4bcbd"/>
<rect x="1328.78" y="174.66" width="15.11" height="20.46" fill="#efa0a2"/>
<rect x="1343.59" y="174.66" width="15.11" height="20.46" fill="#f2aeb0"/>
<rect x="1358.4" y="174.66" width="15.11" height="20.46" fill="#f8d4d4"/>
<rect x="1379.25" y="174.66" width="15.11" height="20.46" fill="#ed9295"/>
<rect x="1394.06" y="174.66" width="15.11" height="20.46" fill="#ea6f74"/>
<rect x="1408.87" y="174.66" width="15.11" height="20.46" fill="#ed9295"/>
<rect x="1423.68" y="174.66" width="15.11" height="20.46" fill="#eb8488"/>
<rect x="1438.49" y="174.66" width="15.11" height="20.46" fill="#ffffff"/>
<rect x="1453.3" y="174.66" width="15.11" height="20.46" fill="#d2d5e8"/>
<rect x="1468.11" y="174.66" width="15.11" height="20.46" fill="#dddfee"/>
<rect x="1482.92" y="174.66" width="15.11" height="20.46" fill="#fceaea"/>
<rect x="1497.73" y="174.66" width="15.11" height="20.46" fill="#4659a2"/>
<rect x="1512.54" y="174.66" width="15.11" height="20.46" fill="#5262a7"/>
<rect x="1527.35" y="174.66" width="15.11" height="20.46" fill="#3a509c"/>
<rect x="1542.16" y="174.66" width="15.11" height="20.46" fill="#3a509c"/>
<rect x="1556.97" y="174.66" width="15.11" height="20.46" fill="#9299c6"/>
<rect x="1571.78" y="174.66" width="15.11" height="20.46" fill="#777fb8"/>
<rect x="1586.59" y="174.66" width="15.11" height="20.46" fill="#9299c6"/>
<rect x="1601.4" y="174.66" width="15.11" height="20.46" fill="#9299c6"/>
<rect x="1136.25" y="194.82" width="15.11" height="20.46" fill="#5262a7"/>
<rect x="1151.06" y="194.82" width="15.11" height="20.46" fill="#5e6bac"/>
<rect x="1165.87" y="194.82" width="15.11" height="20.46" fill="#4659a2"/>
<rect x="1180.68" y="194.82" width="15.11" height="20.46" fill="#6a74b1"/>
<rect x="1195.49" y="194.82" width="15.11" height="20.46" fill="#2e4797"/>
<rect x="1210.3" y="194.82" width="15.11" height="20.46" fill="#2e4797"/>
<rect x="1225.11" y="194.82" width="15.11" height="20.46" fill="#3a509c"/>
<rect x="1239.92" y="194.82" width="15.11" height="20.46" fill="#3a509c"/>
<rect x="1254.73" y="194.82" width="15.11" height="20.46" fill="#ec363d"/>
<rect x="1269.54" y="194.82" width="15.11" height="20.46" fill="#eb474e"/>
<rect x="1284.35" y="194.82" width="15.11" height="20.46" fill="#ec363d"/>
<rect x="1299.16" y="194.82" width="15.11" height="20.46" fill="#ec363d"/>
<rect x="1313.97" y="194.82" width="15.11" height="20.46" fill="#ffffff"/>
<rect x="1328.78" y="194.82" width="15.11" height="20.46" fill="#fceaea"/>
<rect x="1343.59" y="194.82" width="15.11" height="20.46" fill="#f4f4f9"/>
<rect x="1358.4" y="194.82" width="15.11" height="20.46" fill="#d2d5e8"/>
<rect x="1379.25" y="194.82" width="15.11" height="20.46" fill="#4659a2"/>
<rect x="1394.06" y="194.82" width="15.11" height="20.46" fill="#5262a7"/>
<rect x="1408.87" y="194.82" width="15.11" height="20.46" fill="#5e6bac"/>
<rect x="1423.68" y="194.82" width="15.11" height="20.46" fill="#5262a7"/>
<rect x="1438.49" y="194.82" width="15.11" height="20.46" fill="#3a509c"/>
<rect x="1453.3" y="194.82" width="15.11" height="20.46" fill="#2e4797"/>
<rect x="1468.11" y="194.82" width="15.11" height="20.46" fill="#4659a2"/>
<rect x="1482.92" y="194.82" width="15.11" height="20.46" fill="#2e4797"/>
<rect x="1497.73" y="194.82" width="15.11" height="20.46" fill="#eb5156"/>
<rect x="1512.54" y="194.82" width="15.11" height="20.46" fill="#eb474e"/>
<rect x="1527.35" y="194.82" width="15.11" height="20.46" fill="#eb474e"/>
<rect x="1542.16" y="194.82" width="15.11" height="20.46" fill="#eb5156"/>
<rect x="1556.97" y="194.82" width="15.11" height="20.46" fill="#eb656a"/>
<rect x="1571.78" y="194.82" width="15.11" height="20.46" fill="#eb656a"/>
<rect x="1586.59" y="194.82" width="15.11" height="20.46" fill="#eb474e"/>
<rect x="1601.4" y="194.82" width="15.11" height="20.46" fill="#eb656a"/>
<rect x="1136.25" y="214.98" width="15.11" height="20.46" fill="#5e6bac"/>
<rect x="1151.06" y="214.98" width="15.11" height="20.46" fill="#6a74b1"/>
<rect x="1165.87" y="214.98" width="15.11" height="20.46" fill="#6a74b1"/>
<rect x="1180.68" y="214.98" width="15.11" height="20.46" fill="#6a74b1"/>
<rect x="1195.49" y="214.98" width="15.11" height="20.46" fill="#2e4797"/>
<rect x="1210.3" y="214.98" width="15.11" height="20.46" fill="#2c4390"/>
<rect x="1225.11" y="214.98" width="15.11" height="20.46" fill="#2c4390"/>
<rect x="1239.92" y="214.98" width="15.11" height="20.46" fill="#2c4493"/>
<rect x="1254.73" y="214.98" width="15.11" height="20.46" fill="#ec363d"/>
<rect x="1269.54" y="214.98" width="15.11" height="20.46" fill="#ed252c"/>
<rect x="1284.35" y="214.98" width="15.11" height="20.46" fill="#ec2e35"/>
<rect x="1299.16" y="214.98" width="15.11" height="20.46" fill="#ed252c"/>
<rect x="1313.97" y="214.98" width="15.11" height="20.46" fill="#d2d5e8"/>
<rect x="1328.78" y="214.98" width="15.11" height="20.46" fill="#ffffff"/>
<rect x="1343.59" y="214.98" width="15.11" height="20.46" fill="#e8eaf4"/>
<rect x="1358.4" y="214.98" width="15.11" height="20.46" fill="#f4f4f9"/>
<rect x="1379.25" y="214.98" width="15.11" height="20.46" fill="#5262a7"/>
<rect x="1394.06" y="214.98" width="15.11" height="20.46" fill="#5262a7"/>
<rect x="1408.87" y="214.98" width="15.11" height="20.46" fill="#5e6bac"/>
<rect x="1423.68" y="214.98" width="15.11" height="20.46" fill="#5e6bac"/>
<rect x="1438.49" y="214.98" width="15.11" height="20.46" fill="#2c4390"/>
<rect x="1453.3" y="214.98" width="15.11" height="20.46" fill="#2c4390"/>
<rect x="1468.11" y="214.98" width="15.11" height="20.46" fill="#2c4390"/>
<rect x="1482.92" y="214.98" width="15.11" height="20.46" fill="#2c4390"/>
<rect x="1497.73" y="214.98" width="15.11" height="20.46" fill="#eb5b60"/>
<rect x="1512.54" y="214.98" width="15.11" height="20.46" fill="#eb5156"/>
<rect x="1527.35" y="214.98" width="15.11" height="20.46" fill="#ec363d"/>
<rect x="1542.16" y="214.98" width="15.11" height="20.46" fill="#eb474e"/>
<rect x="1556.97" y="214.98" width="15.11" height="20.46" fill="#eb656a"/>
<rect x="1571.78" y="214.98" width="15.11" height="20.46" fill="#ea6f74"/>
<rect x="1586.59" y="214.98" width="15.11" height="20.46" fill="#eb656a"/>
<rect x="1601.4" y="214.98" width="15.11" height="20.46" fill="#ed9295"/>
<rect x="1136.25" y="235.14" width="15.11" height="20.46" fill="#ffffff"/>
<rect x="1151.06" y="235.14" width="15.11" height="20.46" fill="#e8eaf4"/>
<rect x="1165.87" y="235.14" width="15.11" height="20.46" fill="#ffffff"/>
<rect x="1180.68" y="235.14" width="15.11" height="20.46" fill="#d2d5e8"/>
<rect x="1195.49" y="235.14" width="15.11" height="20.46" fill="#2e4797"/>
<rect x="1210.3" y="235.14" width="15.11" height="20.46" fill="#2e4797"/>
<rect x="1225.11" y="235.14" width="15.11" height="20.46" fill="#3a509c"/>
<rect x="1239.92" y="235.14" width="15.11" height="20.46" fill="#2e4797"/>
<rect x="1254.73" y="235.14" width="15.11" height="20.46" fill="#ed9295"/>
<rect x="1269.54" y="235.14" width="15.11" height="20.46" fill="#ed9295"/>
<rect x="1284.35" y="235.14" width="15.11" height="20.46" fill="#eb8488"/>
<rect x="1299.16" y="235.14" width="15.11" height="20.46" fill="#ed9295"/>
<rect x="1313.97" y="235.14" width="15.11" height="20.46" fill="#bbbfdc"/>
<rect x="1328.78" y="235.14" width="15.11" height="20.46" fill="#adb2d5"/>
<rect x="1343.59" y="235.14" width="15.11" height="20.46" fill="#c6cae2"/>
<rect x="1358.4" y="235.14" width="15.11" height="20.46" fill="#bbbfdc"/>
<rect x="1379.25" y="235.14" width="15.11" height="20.46" fill="#ffffff"/>
<rect x="1394.06" y="235.14" width="15.11" height="20.46" fill="#f4f4f9"/>
<rect x="1408.87" y="235.14" width="15.11" height="20.46" fill="#e8eaf4"/>
<rect x="1423.68" y="235.14" width="15.11" height="20.46" fill="#d2d5e8"/>
<rect x="1438.49" y="235.14" width="15.11" height="20.46" fill="#2e4797"/>
<rect x="1453.3" y="235.14" width="15.11" height="20.46" fill="#2e4797"/>
<rect x="1468.11" y="235.14" width="15.11" height="20.46" fill="#3a509c"/>
<rect x="1482.92" y="235.14" width="15.11" height="20.46" fill="#2e4797"/>
<rect x="1497.73" y="235.14" width="15.11" height="20.46" fill="#ed9295"/>
<rect x="1512.54" y="235.14" width="15.11" height="20.46" fill="#eb8488"/>
<rect x="1527.35" y="235.14" width="15.11" height="20.46" fill="#ed9295"/>
<rect x="1542.16" y="235.14" width="15.11" height="20.46" fill="#eb8488"/>
<rect x="1556.97" y="235.14" width="15.11" height="20.46" fill="#efa0a2"/>
<rect x="1571.78" y="235.14" width="15.11" height="20.46" fill="#efa0a2"/>
<rect x="1586.59" y="235.14" width="15.11" height="20.46" fill="#efa0a2"/>
<rect x="1601.4" y="235.14" width="15.11" height="20.46" fill="#efa0a2"/>
<rect x="1136.25" y="255.3" width="15.11" height="20.46" fill="#d2d5e8"/>
<rect x="1151.06" y="255.3" width="15.11" height="20.46" fill="#dddfee"/>
<rect x="1165.87" y="255.3" width="15.11" height="20.46" fill="#fdf4f4"/>
<rect x="1180.68" y="255.3" width="15.11" height="20.46" fill="#adb2d5"/>
<rect x="1195.49" y="255.3" width="15.11" height="20.46" fill="#2c4493"/>
<rect x="1210.3" y="255.3" width="15.11" height="20.46" fill="#2e4797"/>
<rect x="1225.11" y="255.3" width="15.11" height="20.46" fill="#2c4493"/>
<rect x="1239.92" y="255.3" width="15.11" height="20.46" fill="#2c4493"/>
<rect x="1254.73" y="255.3" width="15.11" height="20.46" fill="#ea797d"/>
<rect x="1269.54" y="255.3" width="15.11" height="20.46" fill="#ea797d"/>
<rect x="1284.35" y="255.3" width="15.11" height="20.46" fill="#ea6f74"/>
<rect x="1299.16" y="255.3" width="15.11" height="20.46" fill="#ea797d"/>
<rect x="1313.97" y="255.3" width="15.11" height="20.46" fill="#bbbfdc"/>
<rect x="1328.78" y="255.3" width="15.11" height="20.46" fill="#adb2d5"/>
<rect x="1343.59" y="255.3" width="15.11" height="20.46" fill="#d2d5e8"/>
<rect x="1358.4" y="255.3" width="15.11" height="20.46" fill="#bbbfdc"/>
<rect x="1379.25" y="255.3" width="15.11" height="20.46" fill="#e8eaf4"/>
<rect x="1394.06" y="255.3" width="15.11" height="20.46" fill="#fceaea"/>
<rect x="1408.87" y="255.3" width="15.11" height="20.46" fill="#bbbfdc"/>
<rect x="1423.68" y="255.3" width="15.11" height="20.46" fill="#d2d5e8"/>
<rect x="1438.49" y="255.3" width="15.11" height="20.46" fill="#2c4493"/>
<rect x="1453.3" y="255.3" width="15.11" height="20.46" fill="#2e4797"/>
<rect x="1468.11" y="255.3" width="15.11" height="20.46" fill="#2c4493"/>
<rect x="1482.92" y="255.3" width="15.11" height="20.46" fill="#2e4797"/>
<rect x="1497.73" y="255.3" width="15.11" height="20.46" fill="#ea6f74"/>
<rect x="1512.54" y="255.3" width="15.11" height="20.46" fill="#ea6f74"/>
<rect x="1527.35" y="255.3" width="15.11" height="20.46" fill="#ea6f74"/>
<rect x="1542.16" y="255.3" width="15.11" height="20.46" fill="#ea6f74"/>
<rect x="1556.97" y="255.3" width="15.11" height="20.46" fill="#ed9295"/>
<rect x="1571.78" y="255.3" width="15.11" height="20.46" fill="#eb8488"/>
<rect x="1586.59" y="255.3" width="15.11" height="20.46" fill="#ed9295"/>
<rect x="1601.4" y="255.3" width="15.11" height="20.46" fill="#eb8488"/>
<rect x="1136.25" y="275.46" width="15.11" height="20.46" fill="#9299c6"/>
<rect x="1151.06" y="275.46" width="15.11" height="20.46" fill="#9299c6"/>
<rect x="1165.87" y="275.46" width="15.11" height="20.46" fill="#bbbfdc"/>
<rect x="1180.68" y="275.46" width="15.11" height="20.46" fill="#6a74b1"/>
<rect x="1195.49" y="275.46" width="15.11" height="20.46" fill="#4659a2"/>
<rect x="1210.3" y="275.46" width="15.11" height="20.46" fill="#2e4797"/>
<rect x="1225.11" y="275.46" width="15.11" height="20.46" fill="#2e4797"/>
<rect x="1239.92" y="275.46" width="15.11" height="20.46" fill="#2e4797"/>
<rect x="1254.73" y="275.46" width="15.11" height="20.46" fill="#eb5b60"/>
<rect x="1269.54" y="275.46" width="15.11" height="20.46" fill="#eb5156"/>
<rect x="1284.35" y="275.46" width="15.11" height="20.46" fill="#eb656a"/>
<rect x="1299.16" y="275.46" width="15.11" height="20.46" fill="#eb5b60"/>
<rect x="1313.97" y="275.46" width="15.11" height="20.46" fill="#adb2d5"/>
<rect x="1328.78" y="275.46" width="15.11" height="20.46" fill="#bbbfdc"/>
<rect x="1343.59" y="275.46" width="15.11" height="20.46" fill="#bbbfdc"/>
<rect x="1358.4" y="275.46" width="15.11" height="20.46" fill="#adb2d5"/>
<rect x="1379.25" y="275.46" width="15.11" height="20.46" fill="#9299c6"/>
<rect x="1394.06" y="275.46" width="15.11" height="20.46" fill="#adb2d5"/>
<rect x="1408.87" y="275.46" width="15.11" height="20.46" fill="#777fb8"/>
<rect x="1423.68" y="275.46" width="15.11" height="20.46" fill="#9299c6"/>
<rect x="1438.49" y="275.46" width="15.11" height="20.46" fill="#3a509c"/>
<rect x="1453.3" y="275.46" width="15.11" height="20.46" fill="#3a509c"/>
<rect x="1468.11" y="275.46" width="15.11" height="20.46" fill="#3a509c"/>
<rect x="1482.92" y="275.46" width="15.11" height="20.46" fill="#2c4493"/>
<rect x="1497.73" y="275.46" width="15.11" height="20.46" fill="#eb5b60"/>
<rect x="1512.54" y="275.46" width="15.11" height="20.46" fill="#eb5156"/>
<rect x="1527.35" y="275.46" width="15.11" height="20.46" fill="#eb5156"/>
<rect x="1542.16" y="275.46" width="15.11" height="20.46" fill="#eb5b60"/>
<rect x="1556.97" y="275.46" width="15.11" height="20.46" fill="#eb8488"/>
<rect x="1571.78" y="275.46" width="15.11" height="20.46" fill="#ed9295"/>
<rect x="1586.59" y="275.46" width="15.11" height="20.46" fill="#eb8488"/>
<rect x="1601.4" y="275.46" width="15.11" height="20.46" fill="#efa0a2"/>
<rect x="1136.25" y="295.62" width="15.11" height="20.46" fill="#d2d5e8"/>
<rect x="1151.06" y="295.62" width="15.11" height="20.46" fill="#d2d5e8"/>
<rect x="1165.87" y="295.62" width="15.11" height="20.46" fill="#d2d5e8"/>
<rect x="1180.68" y="295.62" width="15.11" height="20.46" fill="#bbbfdc"/>
<rect x="1195.49" y="295.62" width="15.11" height="20.46" fill="#5262a7"/>
<rect x="1210.3" y="295.62" width="15.11" height="20.46" fill="#5262a7"/>
<rect x="1225.11" y="295.62" width="15.11" height="20.46" fill="#5262a7"/>
<rect x="1239.92" y="295.62" width="15.11" height="20.46" fill="#5262a7"/>
<rect x="1254.73" y="295.62" width="15.11" height="20.46" fill="#eb8488"/>
<rect x="1269.54" y="295.62" width="15.11" height="20.46" fill="#ea6f74"/>
<rect x="1284.35" y="295.62" width="15.11" height="20.46" fill="#eb8488"/>
<rect x="1299.16" y="295.62" width="15.11" height="20.46" fill="#ea797d"/>
<rect x="1313.97" y="295.62" width="15.11" height="20.46" fill="#c6cae2"/>
<rect x="1328.78" y="295.62" width="15.11" height="20.46" fill="#c6cae2"/>
<rect x="1343.59" y="295.62" width="15.11" height="20.46" fill="#adb2d5"/>
<rect x="1358.4" y="295.62" width="15.11" height="20.46" fill="#adb2d5"/>
<rect x="1379.25" y="295.62" width="15.11" height="20.46" fill="#c6cae2"/>
<rect x="1394.06" y="295.62" width="15.11" height="20.46" fill="#c6cae2"/>
<rect x="1408.87" y="295.62" width="15.11" height="20.46" fill="#c6cae2"/>
<rect x="1423.68" y="295.62" width="15.11" height="20.46" fill="#adb2d5"/>
<rect x="1438.49" y="295.62" width="15.11" height="20.46" fill="#4659a2"/>
<rect x="1453.3" y="295.62" width="15.11" height="20.46" fill="#5e6bac"/>
<rect x="1468.11" y="295.62" width="15.11" height="20.46" fill="#5262a7"/>
<rect x="1482.92" y="295.62" width="15.11" height="20.46" fill="#4659a2"/>
<rect x="1497.73" y="295.62" width="15.11" height="20.46" fill="#eb8488"/>
<rect x="1512.54" y="295.62" width="15.11" height="20.46" fill="#ea797d"/>
<rect x="1527.35" y="295.62" width="15.11" height="20.46" fill="#ed9295"/>
<rect x="1542.16" y="295.62" width="15.11" height="20.46" fill="#eb8488"/>
<rect x="1556.97" y="295.62" width="15.11" height="20.46" fill="#efa0a2"/>
<rect x="1571.78" y="295.62" width="15.11" height="20.46" fill="#ed9295"/>
<rect x="1586.59" y="295.62" width="15.11" height="20.46" fill="#efa0a2"/>
<rect x="1601.4" y="295.62" width="15.11" height="20.46" fill="#fadfdf"/>
<rect x="1136.25" y="315.78" width="15.11" height="20.46" fill="#adb2d5"/>
<rect x="1151.06" y="315.78" width="15.11" height="20.46" fill="#d2d5e8"/>
<rect x="1165.87" y="315.78" width="15.11" height="20.46" fill="#bbbfdc"/>
<rect x="1180.68" y="315.78" width="15.11" height="20.46" fill="#9fa5ce"/>
<rect x="1195.49" y="315.78" width="15.11" height="20.46" fill="#5e6bac"/>
<rect x="1210.3" y="315.78" width="15.11" height="20.46" fill="#5262a7"/>
<rect x="1225.11" y="315.78" width="15.11" height="20.46" fill="#4659a2"/>
<rect x="1239.92" y="315.78" width="15.11" height="20.46" fill="#5262a7"/>
<rect x="1254.73" y="315.78" width="15.11" height="20.46" fill="#ea797d"/>
<rect x="1269.54" y="315.78" width="15.11" height="20.46" fill="#eb5b60"/>
<rect x="1284.35" y="315.78" width="15.11" height="20.46" fill="#ed9295"/>
<rect x="1299.16" y="315.78" width="15.11" height="20.46" fill="#ea6f74"/>
<rect x="1313.97" y="315.78" width="15.11" height="20.46" fill="#bbbfdc"/>
<rect x="1328.78" y="315.78" width="15.11" height="20.46" fill="#c6cae2"/>
<rect x="1343.59" y="315.78" width="15.11" height="20.46" fill="#c6cae2"/>
<rect x="1358.4" y="315.78" width="15.11" height="20.46" fill="#bbbfdc"/>
<rect x="1379.25" y="315.78" width="15.11" height="20.46" fill="#9299c6"/>
<rect x="1394.06" y="315.78" width="15.11" height="20.46" fill="#9fa5ce"/>
<rect x="1408.87" y="315.78" width="15.11" height="20.46" fill="#9299c6"/>
<rect x="1423.68" y="315.78" width="15.11" height="20.46" fill="#848cbf"/>
<rect x="1438.49" y="315.78" width="15.11" height="20.46" fill="#4659a2"/>
<rect x="1453.3" y="315.78" width="15.11" height="20.46" fill="#5262a7"/>
<rect x="1468.11" y="315.78" width="15.11" height="20.46" fill="#3a509c"/>
<rect x="1482.92" y="315.78" width="15.11" height="20.46" fill="#4659a2"/>
<rect x="1497.73" y="315.78" width="15.11" height="20.46" fill="#ea6f74"/>
<rect x="1512.54" y="315.78" width="15.11" height="20.46" fill="#eb8488"/>
<rect x="1527.35" y="315.78" width="15.11" height="20.46" fill="#eb8488"/>
<rect x="1542.16" y="315.78" width="15.11" height="20.46" fill="#eb656a"/>
<rect x="1556.97" y="315.78" width="15.11" height="20.46" fill="#f2aeb0"/>
<rect x="1571.78" y="315.78" width="15.11" height="20.46" fill="#efa0a2"/>
<rect x="1586.59" y="315.78" width="15.11" height="20.46" fill="#efa0a2"/>
<rect x="1601.4" y="315.78" width="15.11" height="20.46" fill="#f2aeb0"/>
<rect x="1136.25" y="335.94" width="15.11" height="20.46" fill="#6a74b1"/>
<rect x="1151.06" y="335.94" width="15.11" height="20.46" fill="#6a74b1"/>
<rect x="1165.87" y="335.94" width="15.11" height="20.46" fill="#6a74b1"/>
<rect x="1180.68" y="335.94" width="15.11" height="20.46" fill="#6a74b1"/>
<rect x="1195.49" y="335.94" width="15.11" height="20.46" fill="#6a74b1"/>
<rect x="1210.3" y="335.94" width="15.11" height="20.46" fill="#777fb8"/>
<rect x="1225.11" y="335.94" width="15.11" height="20.46" fill="#848cbf"/>
<rect x="1239.92" y="335.94" width="15.11" height="20.46" fill="#6a74b1"/>
<rect x="1254.73" y="335.94" width="15.11" height="20.46" fill="#ed9295"/>
<rect x="1269.54" y="335.94" width="15.11" height="20.46" fill="#eb8488"/>
<rect x="1284.35" y="335.94" width="15.11" height="20.46" fill="#ea797d"/>
<rect x="1299.16" y="335.94" width="15.11" height="20.46" fill="#eb8488"/>
<rect x="1313.97" y="335.94" width="15.11" height="20.46" fill="#ffffff"/>
<rect x="1328.78" y="335.94" width="15.11" height="20.46" fill="#f6caca"/>
<rect x="1343.59" y="335.94" width="15.11" height="20.46" fill="#f2aeb0"/>
<rect x="1358.4" y="335.94" width="15.11" height="20.46" fill="#fdf4f4"/>
<rect x="1379.25" y="335.94" width="15.11" height="20.46" fill="#6a74b1"/>
<rect x="1394.06" y="335.94" width="15.11" height="20.46" fill="#6a74b1"/>
<rect x="1408.87" y="335.94" width="15.11" height="20.46" fill="#6a74b1"/>
<rect x="1423.68" y="335.94" width="15.11" height="20.46" fill="#6a74b1"/>
<rect x="1438.49" y="335.94" width="15.11" height="20.46" fill="#6a74b1"/>
<rect x="1453.3" y="335.94" width="15.11" height="20.46" fill="#6a74b1"/>
<rect x="1468.11" y="335.94" width="15.11" height="20.46" fill="#6a74b1"/>
<rect x="1482.92" y="335.94" width="15.11" height="20.46" fill="#6a74b1"/>
<rect x="1497.73" y="335.94" width="15.11" height="20.46" fill="#ed9295"/>
<rect x="1512.54" y="335.94" width="15.11" height="20.46" fill="#efa0a2"/>
<rect x="1527.35" y="335.94" width="15.11" height="20.46" fill="#ed9295"/>
<rect x="1542.16" y="335.94" width="15.11" height="20.46" fill="#ed9295"/>
<rect x="1556.97" y="335.94" width="15.11" height="20.46" fill="#efa0a2"/>
<rect x="1571.78" y="335.94" width="15.11" height="20.46" fill="#eb8488"/>
<rect x="1586.59" y="335.94" width="15.11" height="20.46" fill="#ed9295"/>
<rect x="1601.4" y="335.94" width="15.11" height="20.46" fill="#ed9295"/>
<rect x="1136.25" y="356.1" width="15.11" height="20.46" fill="#848cbf"/>
<rect x="1151.06" y="356.1" width="15.11" height="20.46" fill="#9299c6"/>
<rect x="1165.87" y="356.1" width="15.11" height="20.46" fill="#6a74b1"/>
<rect x="1180.68" y="356.1" width="15.11" height="20.46" fill="#848cbf"/>
<rect x="1195.49" y="356.1" width="15.11" height="20.46" fill="#848cbf"/>
<rect x="1210.3" y="356.1" width="15.11" height="20.46" fill="#777fb8"/>
<rect x="1225.11" y="356.1" width="15.11" height="20.46" fill="#777fb8"/>
<rect x="1239.92" y="356.1" width="15.11" height="20.46" fill="#6a74b1"/>
<rect x="1254.73" y="356.1" width="15.11" height="20.46" fill="#ed9295"/>
<rect x="1269.54" y="356.1" width="15.11" height="20.46" fill="#eb8488"/>
<rect x="1284.35" y="356.1" width="15.11" height="20.46" fill="#ed9295"/>
<rect x="1299.16" y="356.1" width="15.11" height="20.46" fill="#eb8488"/>
<rect x="1313.97" y="356.1" width="15.11" height="20.46" fill="#dddfee"/>
<rect x="1328.78" y="356.1" width="15.11" height="20.46" fill="#d2d5e8"/>
<rect x="1343.59" y="356.1" width="15.11" height="20.46" fill="#dddfee"/>
<rect x="1358.4" y="356.1" width="15.11" height="20.46" fill="#bbbfdc"/>
<rect x="1379.25" y="356.1" width="15.11" height="20.46" fill="#777fb8"/>
<rect x="1394.06" y="356.1" width="15.11" height="20.46" fill="#777fb8"/>
<rect x="1408.87" y="356.1" width="15.11" height="20.46" fill="#777fb8"/>
<rect x="1423.68" y="356.1" width="15.11" height="20.46" fill="#777fb8"/>
<rect x="1438.49" y="356.1" width="15.11" height="20.46" fill="#9299c6"/>
<rect x="1453.3" y="356.1" width="15.11" height="20.46" fill="#848cbf"/>
<rect x="1468.11" y="356.1" width="15.11" height="20.46" fill="#9299c6"/>
<rect x="1482.92" y="356.1" width="15.11" height="20.46" fill="#6a74b1"/>
<rect x="1497.73" y="356.1" width="15.11" height="20.46" fill="#f2aeb0"/>
<rect x="1512.54" y="356.1" width="15.11" height="20.46" fill="#ed9295"/>
<rect x="1527.35" y="356.1" width="15.11" height="20.46" fill="#ed9295"/>
<rect x="1542.16" y="356.1" width="15.11" height="20.46" fill="#eb8488"/>
<rect x="1556.97" y="356.1" width="15.11" height="20.46" fill="#f6caca"/>
<rect x="1571.78" y="356.1" width="15.11" height="20.46" fill="#efa0a2"/>
<rect x="1586.59" y="356.1" width="15.11" height="20.46" fill="#f2aeb0"/>
<rect x="1601.4" y="356.1" width="15.11" height="20.46" fill="#ed9295"/>
<rect x="1136.25" y="376.26" width="15.11" height="20.46" fill="#5e6bac"/>
<rect x="1151.06" y="376.26" width="15.11" height="20.46" fill="#777fb8"/>
<rect x="1165.87" y="376.26" width="15.11" height="20.46" fill="#6a74b1"/>
<rect x="1180.68" y="376.26" width="15.11" height="20.46" fill="#848cbf"/>
<rect x="1195.49" y="376.26" width="15.11" height="20.46" fill="#777fb8"/>
<rect x="1210.3" y="376.26" width="15.11" height="20.46" fill="#777fb8"/>
<rect x="1225.11" y="376.26" width="15.11" height="20.46" fill="#6a74b1"/>
<rect x="1239.92" y="376.26" width="15.11" height="20.46" fill="#777fb8"/>
<rect x="1254.73" y="376.26" width="15.11" height="20.46" fill="#ed9295"/>
<rect x="1269.54" y="376.26" width="15.11" height="20.46" fill="#eb8488"/>
<rect x="1284.35" y="376.26" width="15.11" height="20.46" fill="#eb8488"/>
<rect x="1299.16" y="376.26" width="15.11" height="20.46" fill="#ea6f74"/>
<rect x="1313.97" y="376.26" width="15.11" height="20.46" fill="#f4f4f9"/>
<rect x="1328.78" y="376.26" width="15.11" height="20.46" fill="#ffffff"/>
<rect x="1343.59" y="376.26" width="15.11" height="20.46" fill="#e8eaf4"/>
<rect x="1358.4" y="376.26" width="15.11" height="20.46" fill="#ffffff"/>
<rect x="1379.25" y="376.26" width="15.11" height="20.46" fill="#6a74b1"/>
<rect x="1394.06" y="376.26" width="15.11" height="20.46" fill="#6a74b1"/>
<rect x="1408.87" y="376.26" width="15.11" height="20.46" fill="#6a74b1"/>
<rect x="1423.68" y="376.26" width="15.11" height="20.46" fill="#6a74b1"/>
<rect x="1438.49" y="376.26" width="15.11" height="20.46" fill="#777fb8"/>
<rect x="1453.3" y="376.26" width="15.11" height="20.46" fill="#6a74b1"/>
<rect x="1468.11" y="376.26" width="15.11" height="20.46" fill="#848cbf"/>
<rect x="1482.92" y="376.26" width="15.11" height="20.46" fill="#6a74b1"/>
<rect x="1497.73" y="376.26" width="15.11" height="20.46" fill="#efa0a2"/>
<rect x="1512.54" y="376.26" width="15.11" height="20.46" fill="#ed9295"/>
<rect x="1527.35" y="376.26" width="15.11" height="20.46" fill="#ea797d"/>
<rect x="1542.16" y="376.26" width="15.11" height="20.46" fill="#eb8488"/>
<rect x="1556.97" y="376.26" width="15.11" height="20.46" fill="#efa0a2"/>
<rect x="1571.78" y="376.26" width="15.11" height="20.46" fill="#f2aeb0"/>
<rect x="1586.59" y="376.26" width="15.11" height="20.46" fill="#efa0a2"/>
<rect x="1601.4" y="376.26" width="15.11" height="20.46" fill="#eb8488"/>
<rect x="1136.25" y="396.42" width="15.11" height="20.46" fill="#5e6bac"/>
<rect x="1151.06" y="396.42" width="15.11" height="20.46" fill="#5e6bac"/>
<rect x="1165.87" y="396.42" width="15.11" height="20.46" fill="#5262a7"/>
<rect x="1180.68" y="396.42" width="15.11" height="20.46" fill="#6a74b1"/>
<rect x="1195.49" y="396.42" width="15.11" height="20.46" fill="#9299c6"/>
<rect x="1210.3" y="396.42" width="15.11" height="20.46" fill="#6a74b1"/>
<rect x="1225.11" y="396.42" width="15.11" height="20.46" fill="#777fb8"/>
<rect x="1239.92" y="396.42" width="15.11" height="20.46" fill="#9299c6"/>
<rect x="1254.73" y="396.42" width="15.11" height="20.46" fill="#eb474e"/>
<rect x="1269.54" y="396.42" width="15.11" height="20.46" fill="#eb474e"/>
<rect x="1284.35" y="396.42" width="15.11" height="20.46" fill="#eb5156"/>
<rect x="1299.16" y="396.42" width="15.11" height="20.46" fill="#eb474e"/>
<rect x="1313.97" y="396.42" width="15.11" height="20.46" fill="#d2d5e8"/>
<rect x="1328.78" y="396.42" width="15.11" height="20.46" fill="#dddfee"/>
<rect x="1343.59" y="396.42" width="15.11" height="20.46" fill="#c6cae2"/>
<rect x="1358.4" y="396.42" width="15.11" height="20.46" fill="#c6cae2"/>
<rect x="1379.25" y="396.42" width="15.11" height="20.46" fill="#4659a2"/>
<rect x="1394.06" y="396.42" width="15.11" height="20.46" fill="#5262a7"/>
<rect x="1408.87" y="396.42" width="15.11" height="20.46" fill="#4659a2"/>
<rect x="1423.68" y="396.42" width="15.11" height="20.46" fill="#6a74b1"/>
<rect x="1438.49" y="396.42" width="15.11" height="20.46" fill="#777fb8"/>
<rect x="1453.3" y="396.42" width="15.11" height="20.46" fill="#777fb8"/>
<rect x="1468.11" y="396.42" width="15.11" height="20.46" fill="#848cbf"/>
<rect x="1482.92" y="396.42" width="15.11" height="20.46" fill="#848cbf"/>
<rect x="1497.73" y="396.42" width="15.11" height="20.46" fill="#ea797d"/>
<rect x="1512.54" y="396.42" width="15.11" height="20.46" fill="#eb656a"/>
<rect x="1527.35" y="396.42" width="15.11" height="20.46" fill="#eb656a"/>
<rect x="1542.16" y="396.42" width="15.11" height="20.46" fill="#eb8488"/>
<rect x="1556.97" y="396.42" width="15.11" height="20.46" fill="#ed9295"/>
<rect x="1571.78" y="396.42" width="15.11" height="20.46" fill="#efa0a2"/>
<rect x="1586.59" y="396.42" width="15.11" height="20.46" fill="#ea6f74"/>
<rect x="1601.4" y="396.42" width="15.11" height="20.46" fill="#f6caca"/>
<rect x="1136.25" y="416.58" width="15.11" height="20.46" fill="#5e6bac"/>
<rect x="1151.06" y="416.58" width="15.11" height="20.46" fill="#6a74b1"/>
<rect x="1165.87" y="416.58" width="15.11" height="20.46" fill="#6a74b1"/>
<rect x="1180.68" y="416.58" width="15.11" height="20.46" fill="#777fb8"/>
<rect x="1195.49" y="416.58" width="15.11" height="20.46" fill="#6a74b1"/>
<rect x="1210.3" y="416.58" width="15.11" height="20.46" fill="#6a74b1"/>
<rect x="1225.11" y="416.58" width="15.11" height="20.46" fill="#4659a2"/>
<rect x="1239.92" y="416.58" width="15.11" height="20.46" fill="#5262a7"/>
<rect x="1254.73" y="416.58" width="15.11" height="20.46" fill="#eb474e"/>
<rect x="1269.54" y="416.58" width="15.11" height="20.46" fill="#eb474e"/>
<rect x="1284.35" y="416.58" width="15.11" height="20.46" fill="#ec2e35"/>
<rect x="1299.16" y="416.58" width="15.11" height="20.46" fill="#ec363d"/>
<rect x="1313.97" y="416.58" width="15.11" height="20.46" fill="#f4f4f9"/>
<rect x="1328.78" y="416.58" width="15.11" height="20.46" fill="#ffffff"/>
<rect x="1343.59" y="416.58" width="15.11" height="20.46" fill="#e8eaf4"/>
<rect x="1358.4" y="416.58" width="15.11" height="20.46" fill="#ffffff"/>
<rect x="1379.25" y="416.58" width="15.11" height="20.46" fill="#5262a7"/>
<rect x="1394.06" y="416.58" width="15.11" height="20.46" fill="#5e6bac"/>
<rect x="1408.87" y="416.58" width="15.11" height="20.46" fill="#6a74b1"/>
<rect x="1423.68" y="416.58" width="15.11" height="20.46" fill="#5e6bac"/>
<rect x="1438.49" y="416.58" width="15.11" height="20.46" fill="#4659a2"/>
<rect x="1453.3" y="416.58" width="15.11" height="20.46" fill="#3a509c"/>
<rect x="1468.11" y="416.58" width="15.11" height="20.46" fill="#6a74b1"/>
<rect x="1482.92" y="416.58" width="15.11" height="20.46" fill="#5262a7"/>
<rect x="1497.73" y="416.58" width="15.11" height="20.46" fill="#ea797d"/>
<rect x="1512.54" y="416.58" width="15.11" height="20.46" fill="#ea797d"/>
<rect x="1527.35" y="416.58" width="15.11" height="20.46" fill="#ea797d"/>
<rect x="1542.16" y="416.58" width="15.11" height="20.46" fill="#ea797d"/>
<rect x="1556.97" y="416.58" width="15.11" height="20.46" fill="#eb8488"/>
<rect x="1571.78" y="416.58" width="15.11" height="20.46" fill="#eb8488"/>
<rect x="1586.59" y="416.58" width="15.11" height="20.46" fill="#eb5b60"/>
<rect x="1601.4" y="416.58" width="15.11" height="20.46" fill="#efa0a2"/>
<rect x="1136.25" y="436.74" width="15.11" height="20.46" fill="#777fb8"/>
<rect x="1151.06" y="436.74" width="15.11" height="20.46" fill="#777fb8"/>
<rect x="1165.87" y="436.74" width="15.11" height="20.46" fill="#777fb8"/>
<rect x="1180.68" y="436.74" width="15.11" height="20.46" fill="#848cbf"/>
<rect x="1195.49" y="436.74" width="15.11" height="20.46" fill="#4659a2"/>
<rect x="1210.3" y="436.74" width="15.11" height="20.46" fill="#2e4797"/>
<rect x="1225.11" y="436.74" width="15.11" height="20.46" fill="#3a509c"/>
<rect x="1239.92" y="436.74" width="15.11" height="20.46" fill="#4659a2"/>
<rect x="1254.73" y="436.74" width="15.11" height="20.46" fill="#eb474e"/>
<rect x="1269.54" y="436.74" width="15.11" height="20.46" fill="#eb474e"/>
<rect x="1284.35" y="436.74" width="15.11" height="20.46" fill="#eb5156"/>
<rect x="1299.16" y="436.74" width="15.11" height="20.46" fill="#eb474e"/>
<rect x="1313.97" y="436.74" width="15.11" height="20.46" fill="#e8eaf4"/>
<rect x="1328.78" y="436.74" width="15.11" height="20.46" fill="#fdf4f4"/>
<rect x="1343.59" y="436.74" width="15.11" height="20.46" fill="#fdf4f4"/>
<rect x="1358.4" y="436.74" width="15.11" height="20.46" fill="#ffffff"/>
<rect x="1379.25" y="436.74" width="15.11" height="20.46" fill="#777fb8"/>
<rect x="1394.06" y="436.74" width="15.11" height="20.46" fill="#777fb8"/>
<rect x="1408.87" y="436.74" width="15.11" height="20.46" fill="#777fb8"/>
<rect x="1423.68" y="436.74" width="15.11" height="20.46" fill="#6a74b1"/>
<rect x="1438.49" y="436.74" width="15.11" height="20.46" fill="#5262a7"/>
<rect x="1453.3" y="436.74" width="15.11" height="20.46" fill="#4659a2"/>
<rect x="1468.11" y="436.74" width="15.11" height="20.46" fill="#4659a2"/>
<rect x="1482.92" y="436.74" width="15.11" height="20.46" fill="#4659a2"/>
<rect x="1497.73" y="436.74" width="15.11" height="20.46" fill="#eb8488"/>
<rect x="1512.54" y="436.74" width="15.11" height="20.46" fill="#ea797d"/>
<rect x="1527.35" y="436.74" width="15.11" height="20.46" fill="#ea797d"/>
<rect x="1542.16" y="436.74" width="15.11" height="20.46" fill="#ea797d"/>
<rect x="1556.97" y="436.74" width="15.11" height="20.46" fill="#eb8488"/>
<rect x="1571.78" y="436.74" width="15.11" height="20.46" fill="#ed9295"/>
<rect x="1586.59" y="436.74" width="15.11" height="20.46" fill="#eb8488"/>
<rect x="1601.4" y="436.74" width="15.11" height="20.46" fill="#ed9295"/>
<rect x="1136.25" y="456.9" width="15.11" height="20.46" fill="#dcdeed"/>
<rect x="1151.06" y="456.9" width="15.11" height="20.46" fill="#f3f4f9"/>
<rect x="1165.87" y="456.9" width="15.11" height="20.46" fill="#dcdeed"/>
<rect x="1180.68" y="456.9" width="15.11" height="20.46" fill="#e8e9f3"/>
<rect x="1195.49" y="456.9" width="15.11" height="20.46" fill="#40559f"/>
<rect x="1210.3" y="456.9" width="15.11" height="20.46" fill="#40559f"/>
<rect x="1225.11" y="456.9" width="15.11" height="20.46" fill="#40559f"/>
<rect x="1239.92" y="456.9" width="15.11" height="20.46" fill="#4c5ea4"/>
<rect x="1254.73" y="456.9" width="15.11" height="20.46" fill="#dcdeed"/>
<rect x="1269.54" y="456.9" width="15.11" height="20.46" fill="#fceaea"/>
<rect x="1284.35" y="456.9" width="15.11" height="20.46" fill="#d0d3e7"/>
<rect x="1299.16" y="456.9" width="15.11" height="20.46" fill="#ffffff"/>
<rect x="1313.97" y="456.9" width="15.11" height="20.46" fill="#eb545a"/>
<rect x="1328.78" y="456.9" width="15.11" height="20.46" fill="#eb5e63"/>
<rect x="1343.59" y="456.9" width="15.11" height="20.46" fill="#eb545a"/>
<rect x="1358.4" y="456.9" width="15.11" height="20.46" fill="#eb545a"/>
<rect x="1379.25" y="456.9" width="15.11" height="20.46" fill="#dcdeed"/>
<rect x="1394.06" y="456.9" width="15.11" height="20.46" fill="#d0d3e7"/>
<rect x="1408.87" y="456.9" width="15.11" height="20.46" fill="#c4c8e1"/>
<rect x="1423.68" y="456.9" width="15.11" height="20.46" fill="#ffffff"/>
<rect x="1438.49" y="456.9" width="15.11" height="20.46" fill="#40559f"/>
<rect x="1453.3" y="456.9" width="15.11" height="20.46" fill="#4c5ea4"/>
<rect x="1468.11" y="456.9" width="15.11" height="20.46" fill="#4c5ea4"/>
<rect x="1482.92" y="456.9" width="15.11" height="20.46" fill="#4c5ea4"/>
<rect x="1497.73" y="456.9" width="15.11" height="20.46" fill="#aaafd3"/>
<rect x="1512.54" y="456.9" width="15.11" height="20.46" fill="#d0d3e7"/>
<rect x="1527.35" y="456.9" width="15.11" height="20.46" fill="#aaafd3"/>
<rect x="1542.16" y="456.9" width="15.11" height="20.46" fill="#b8bcdb"/>
<rect x="1556.97" y="456.9" width="15.11" height="20.46" fill="#f4bebe"/>
<rect x="1571.78" y="456.9" width="15.11" height="20.46" fill="#f2b0b2"/>
<rect x="1586.59" y="456.9" width="15.11" height="20.46" fill="#f8d5d5"/>
<rect x="1601.4" y="456.9" width="15.11" height="20.46" fill="#f4bebe"/>
<rect x="1136.25" y="477.06" width="15.11" height="20.46" fill="#e8e9f3"/>
<rect x="1151.06" y="477.06" width="15.11" height="20.46" fill="#f3f4f9"/>
<rect x="1165.87" y="477.06" width="15.11" height="20.46" fill="#dcdeed"/>
<rect x="1180.68" y="477.06" width="15.11" height="20.46" fill="#f8d5d5"/>
<rect x="1195.49" y="477.06" width="15.11" height="20.46" fill="#8e95c4"/>
<rect x="1210.3" y="477.06" width="15.11" height="20.46" fill="#9ca2cc"/>
<rect x="1225.11" y="477.06" width="15.11" height="20.46" fill="#8088bc"/>
<rect x="1239.92" y="477.06" width="15.11" height="20.46" fill="#8e95c4"/>
<rect x="1254.73" y="477.06" width="15.11" height="20.46" fill="#e8e9f3"/>
<rect x="1269.54" y="477.06" width="15.11" height="20.46" fill="#dcdeed"/>
<rect x="1284.35" y="477.06" width="15.11" height="20.46" fill="#d0d3e7"/>
<rect x="1299.16" y="477.06" width="15.11" height="20.46" fill="#dcdeed"/>
<rect x="1313.97" y="477.06" width="15.11" height="20.46" fill="#eb878b"/>
<rect x="1328.78" y="477.06" width="15.11" height="20.46" fill="#ea7176"/>
<rect x="1343.59" y="477.06" width="15.11" height="20.46" fill="#eb878b"/>
<rect x="1358.4" y="477.06" width="15.11" height="20.46" fill="#ea686c"/>
<rect x="1379.25" y="477.06" width="15.11" height="20.46" fill="#d0d3e7"/>
<rect x="1394.06" y="477.06" width="15.11" height="20.46" fill="#f8d5d5"/>
<rect x="1408.87" y="477.06" width="15.11" height="20.46" fill="#dcdeed"/>
<rect x="1423.68" y="477.06" width="15.11" height="20.46" fill="#dcdeed"/>
<rect x="1438.49" y="477.06" width="15.11" height="20.46" fill="#aaafd3"/>
<rect x="1453.3" y="477.06" width="15.11" height="20.46" fill="#727ab5"/>
<rect x="1468.11" y="477.06" width="15.11" height="20.46" fill="#8088bc"/>
<rect x="1482.92" y="477.06" width="15.11" height="20.46" fill="#8088bc"/>
<rect x="1497.73" y="477.06" width="15.11" height="20.46" fill="#8e95c4"/>
<rect x="1512.54" y="477.06" width="15.11" height="20.46" fill="#c4c8e1"/>
<rect x="1527.35" y="477.06" width="15.11" height="20.46" fill="#8088bc"/>
<rect x="1542.16" y="477.06" width="15.11" height="20.46" fill="#8e95c4"/>
<rect x="1556.97" y="477.06" width="15.11" height="20.46" fill="#ffffff"/>
<rect x="1571.78" y="477.06" width="15.11" height="20.46" fill="#fdf5f5"/>
<rect x="1586.59" y="477.06" width="15.11" height="20.46" fill="#fceaea"/>
<rect x="1601.4" y="477.06" width="15.11" height="20.46" fill="#fdf5f5"/>
<rect x="1136.25" y="497.22" width="15.11" height="20.46" fill="#b8bcdb"/>
<rect x="1151.06" y="497.22" width="15.11" height="20.46" fill="#dcdeed"/>
<rect x="1165.87" y="497.22" width="15.11" height="20.46" fill="#b8bcdb"/>
<rect x="1180.68" y="497.22" width="15.11" height="20.46" fill="#b8bcdb"/>
<rect x="1195.49" y="497.22" width="15.11" height="20.46" fill="#dcdeed"/>
<rect x="1210.3" y="497.22" width="15.11" height="20.46" fill="#e8e9f3"/>
<rect x="1225.11" y="497.22" width="15.11" height="20.46" fill="#dcdeed"/>
<rect x="1239.92" y="497.22" width="15.11" height="20.46" fill="#b8bcdb"/>
<rect x="1254.73" y="497.22" width="15.11" height="20.46" fill="#aaafd3"/>
<rect x="1269.54" y="497.22" width="15.11" height="20.46" fill="#aaafd3"/>
<rect x="1284.35" y="497.22" width="15.11" height="20.46" fill="#d0d3e7"/>
<rect x="1299.16" y="497.22" width="15.11" height="20.46" fill="#aaafd3"/>
<rect x="1313.97" y="497.22" width="15.11" height="20.46" fill="#ed9598"/>
<rect x="1328.78" y="497.22" width="15.11" height="20.46" fill="#ed9598"/>
<rect x="1343.59" y="497.22" width="15.11" height="20.46" fill="#ea7b80"/>
<rect x="1358.4" y="497.22" width="15.11" height="20.46" fill="#f0a3a5"/>
<rect x="1379.25" y="497.22" width="15.11" height="20.46" fill="#aaafd3"/>
<rect x="1394.06" y="497.22" width="15.11" height="20.46" fill="#dcdeed"/>
<rect x="1408.87" y="497.22" width="15.11" height="20.46" fill="#dcdeed"/>
<rect x="1423.68" y="497.22" width="15.11" height="20.46" fill="#8088bc"/>
<rect x="1438.49" y="497.22" width="15.11" height="20.46" fill="#f8d5d5"/>
<rect x="1453.3" y="497.22" width="15.11" height="20.46" fill="#fdf5f5"/>
<rect x="1468.11" y="497.22" width="15.11" height="20.46" fill="#fae0e0"/>
<rect x="1482.92" y="497.22" width="15.11" height="20.46" fill="#f8d5d5"/>
<rect x="1497.73" y="497.22" width="15.11" height="20.46" fill="#8088bc"/>
<rect x="1512.54" y="497.22" width="15.11" height="20.46" fill="#727ab5"/>
<rect x="1527.35" y="497.22" width="15.11" height="20.46" fill="#9ca2cc"/>
<rect x="1542.16" y="497.22" width="15.11" height="20.46" fill="#8e95c4"/>
<rect x="1556.97" y="497.22" width="15.11" height="20.46" fill="#f3f4f9"/>
<rect x="1571.78" y="497.22" width="15.11" height="20.46" fill="#d0d3e7"/>
<rect x="1586.59" y="497.22" width="15.11" height="20.46" fill="#c4c8e1"/>
<rect x="1601.4" y="497.22" width="15.11" height="20.46" fill="#d0d3e7"/>
<rect x="1136.25" y="517.38" width="15.11" height="20.46" fill="#9ca2cc"/>
<rect x="1151.06" y="517.38" width="15.11" height="20.46" fill="#aaafd3"/>
<rect x="1165.87" y="517.38" width="15.11" height="20.46" fill="#8e95c4"/>
<rect x="1180.68" y="517.38" width="15.11" height="20.46" fill="#9ca2cc"/>
<rect x="1195.49" y="517.38" width="15.11" height="20.46" fill="#b8bcdb"/>
<rect x="1210.3" y="517.38" width="15.11" height="20.46" fill="#9ca2cc"/>
<rect x="1225.11" y="517.38" width="15.11" height="20.46" fill="#b8bcdb"/>
<rect x="1239.92" y="517.38" width="15.11" height="20.46" fill="#9ca2cc"/>
<rect x="1254.73" y="517.38" width="15.11" height="20.46" fill="#f3f4f9"/>
<rect x="1269.54" y="517.38" width="15.11" height="20.46" fill="#fae0e0"/>
<rect x="1284.35" y="517.38" width="15.11" height="20.46" fill="#aaafd3"/>
<rect x="1299.16" y="517.38" width="15.11" height="20.46" fill="#fdf5f5"/>
<rect x="1313.97" y="517.38" width="15.11" height="20.46" fill="#f2b0b2"/>
<rect x="1328.78" y="517.38" width="15.11" height="20.46" fill="#f2b0b2"/>
<rect x="1343.59" y="517.38" width="15.11" height="20.46" fill="#f4bebe"/>
<rect x="1358.4" y="517.38" width="15.11" height="20.46" fill="#f2b0b2"/>
<rect x="1379.25" y="517.38" width="15.11" height="20.46" fill="#aaafd3"/>
<rect x="1394.06" y="517.38" width="15.11" height="20.46" fill="#c4c8e1"/>
<rect x="1408.87" y="517.38" width="15.11" height="20.46" fill="#aaafd3"/>
<rect x="1423.68" y="517.38" width="15.11" height="20.46" fill="#aaafd3"/>
<rect x="1438.49" y="517.38" width="15.11" height="20.46" fill="#b8bcdb"/>
<rect x="1453.3" y="517.38" width="15.11" height="20.46" fill="#b8bcdb"/>
<rect x="1468.11" y="517.38" width="15.11" height="20.46" fill="#d0d3e7"/>
<rect x="1482.92" y="517.38" width="15.11" height="20.46" fill="#c4c8e1"/>
<rect x="1497.73" y="517.38" width="15.11" height="20.46" fill="#d0d3e7"/>
<rect x="1512.54" y="517.38" width="15.11" height="20.46" fill="#d0d3e7"/>
<rect x="1527.35" y="517.38" width="15.11" height="20.46" fill="#d0d3e7"/>
<rect x="1542.16" y="517.38" width="15.11" height="20.46" fill="#d0d3e7"/>
<rect x="1556.97" y="517.38" width="15.11" height="20.46" fill="#e8e9f3"/>
<rect x="1571.78" y="517.38" width="15.11" height="20.46" fill="#ffffff"/>
<rect x="1586.59" y="517.38" width="15.11" height="20.46" fill="#f8d5d5"/>
<rect x="1601.4" y="517.38" width="15.11" height="20.46" fill="#fae0e0"/>
<rect x="1136.25" y="537.54" width="15.11" height="20.46" fill="#c4c8e1"/>
<rect x="1151.06" y="537.54" width="15.11" height="20.46" fill="#ffffff"/>
<rect x="1165.87" y="537.54" width="15.11" height="20.46" fill="#d0d3e7"/>
<rect x="1180.68" y="537.54" width="15.11" height="20.46" fill="#d0d3e7"/>
<rect x="1195.49" y="537.54" width="15.11" height="20.46" fill="#f3f4f9"/>
<rect x="1210.3" y="537.54" width="15.11" height="20.46" fill="#d0d3e7"/>
<rect x="1225.11" y="537.54" width="15.11" height="20.46" fill="#aaafd3"/>
<rect x="1239.92" y="537.54" width="15.11" height="20.46" fill="#8088bc"/>
<rect x="1254.73" y="537.54" width="15.11" height="20.46" fill="#c4c8e1"/>
<rect x="1269.54" y="537.54" width="15.11" height="20.46" fill="#d0d3e7"/>
<rect x="1284.35" y="537.54" width="15.11" height="20.46" fill="#ffffff"/>
<rect x="1299.16" y="537.54" width="15.11" height="20.46" fill="#aaafd3"/>
<rect x="1313.97" y="537.54" width="15.11" height="20.46" fill="#f4bebe"/>
<rect x="1328.78" y="537.54" width="15.11" height="20.46" fill="#fdf5f5"/>
<rect x="1343.59" y="537.54" width="15.11" height="20.46" fill="#f6cbcb"/>
<rect x="1358.4" y="537.54" width="15.11" height="20.46" fill="#f2b0b2"/>
<rect x="1379.25" y="537.54" width="15.11" height="20.46" fill="#c4c8e1"/>
<rect x="1394.06" y="537.54" width="15.11" height="20.46" fill="#c4c8e1"/>
<rect x="1408.87" y="537.54" width="15.11" height="20.46" fill="#d0d3e7"/>
<rect x="1423.68" y="537.54" width="15.11" height="20.46" fill="#c4c8e1"/>
<rect x="1438.49" y="537.54" width="15.11" height="20.46" fill="#d0d3e7"/>
<rect x="1453.3" y="537.54" width="15.11" height="20.46" fill="#d0d3e7"/>
<rect x="1468.11" y="537.54" width="15.11" height="20.46" fill="#c4c8e1"/>
<rect x="1482.92" y="537.54" width="15.11" height="20.46" fill="#c4c8e1"/>
<rect x="1497.73" y="537.54" width="15.11" height="20.46" fill="#c4c8e1"/>
<rect x="1512.54" y="537.54" width="15.11" height="20.46" fill="#d0d3e7"/>
<rect x="1527.35" y="537.54" width="15.11" height="20.46" fill="#d0d3e7"/>
<rect x="1542.16" y="537.54" width="15.11" height="20.46" fill="#dcdeed"/>
<rect x="1556.97" y="537.54" width="15.11" height="20.46" fill="#fae0e0"/>
<rect x="1571.78" y="537.54" width="15.11" height="20.46" fill="#fceaea"/>
<rect x="1586.59" y="537.54" width="15.11" height="20.46" fill="#fdf5f5"/>
<rect x="1601.4" y="537.54" width="15.11" height="20.46" fill="#ffffff"/>
<rect x="1136.25" y="557.7" width="15.11" height="20.46" fill="#f3f4f9"/>
<rect x="1151.06" y="557.7" width="15.11" height="20.46" fill="#ffffff"/>
<rect x="1165.87" y="557.7" width="15.11" height="20.46" fill="#fceaea"/>
<rect x="1180.68" y="557.7" width="15.11" height="20.46" fill="#dcdeed"/>
<rect x="1195.49" y="557.7" width="15.11" height="20.46" fill="#fae0e0"/>
<rect x="1210.3" y="557.7" width="15.11" height="20.46" fill="#ffffff"/>
<rect x="1225.11" y="557.7" width="15.11" height="20.46" fill="#fae0e0"/>
<rect x="1239.92" y="557.7" width="15.11" height="20.46" fill="#ffffff"/>
<rect x="1254.73" y="557.7" width="15.11" height="20.46" fill="#fceaea"/>
<rect x="1269.54" y="557.7" width="15.11" height="20.46" fill="#fdf5f5"/>
<rect x="1284.35" y="557.7" width="15.11" height="20.46" fill="#f3f4f9"/>
<rect x="1299.16" y="557.7" width="15.11" height="20.46" fill="#e8e9f3"/>
<rect x="1313.97" y="557.7" width="15.11" height="20.46" fill="#6571af"/>
<rect x="1328.78" y="557.7" width="15.11" height="20.46" fill="#6571af"/>
<rect x="1343.59" y="557.7" width="15.11" height="20.46" fill="#5967aa"/>
<rect x="1358.4" y="557.7" width="15.11" height="20.46" fill="#6571af"/>
<rect x="1379.25" y="557.7" width="15.11" height="20.46" fill="#dcdeed"/>
<rect x="1394.06" y="557.7" width="15.11" height="20.46" fill="#dcdeed"/>
<rect x="1408.87" y="557.7" width="15.11" height="20.46" fill="#e8e9f3"/>
<rect x="1423.68" y="557.7" width="15.11" height="20.46" fill="#e8e9f3"/>
<rect x="1438.49" y="557.7" width="15.11" height="20.46" fill="#ffffff"/>
<rect x="1453.3" y="557.7" width="15.11" height="20.46" fill="#ffffff"/>
<rect x="1468.11" y="557.7" width="15.11" height="20.46" fill="#fdf5f5"/>
<rect x="1482.92" y="557.7" width="15.11" height="20.46" fill="#fae0e0"/>
<rect x="1497.73" y="557.7" width="15.11" height="20.46" fill="#fceaea"/>
<rect x="1512.54" y="557.7" width="15.11" height="20.46" fill="#ffffff"/>
<rect x="1527.35" y="557.7" width="15.11" height="20.46" fill="#fdf5f5"/>
<rect x="1542.16" y="557.7" width="15.11" height="20.46" fill="#f3f4f9"/>
<rect x="1556.97" y="557.7" width="15.11" height="20.46" fill="#b8bcdb"/>
<rect x="1571.78" y="557.7" width="15.11" height="20.46" fill="#aaafd3"/>
<rect x="1586.59" y="557.7" width="15.11" height="20.46" fill="#c4c8e1"/>
<rect x="1601.4" y="557.7" width="15.11" height="20.46" fill="#b8bcdb"/>
<rect x="1136.25" y="577.86" width="15.11" height="20.46" fill="#d0d3e7"/>
<rect x="1151.06" y="577.86" width="15.11" height="20.46" fill="#dcdeed"/>
<rect x="1165.87" y="577.86" width="15.11" height="20.46" fill="#d0d3e7"/>
<rect x="1180.68" y="577.86" width="15.11" height="20.46" fill="#c4c8e1"/>
<rect x="1195.49" y="577.86" width="15.11" height="20.46" fill="#e8e9f3"/>
<rect x="1210.3" y="577.86" width="15.11" height="20.46" fill="#e8e9f3"/>
<rect x="1225.11" y="577.86" width="15.11" height="20.46" fill="#ffffff"/>
<rect x="1239.92" y="577.86" width="15.11" height="20.46" fill="#f3f4f9"/>
<rect x="1254.73" y="577.86" width="15.11" height="20.46" fill="#f6cbcb"/>
<rect x="1269.54" y="577.86" width="15.11" height="20.46" fill="#f8d5d5"/>
<rect x="1284.35" y="577.86" width="15.11" height="20.46" fill="#fceaea"/>
<rect x="1299.16" y="577.86" width="15.11" height="20.46" fill="#f6cbcb"/>
<rect x="1313.97" y="577.86" width="15.11" height="20.46" fill="#8088bc"/>
<rect x="1328.78" y="577.86" width="15.11" height="20.46" fill="#9ca2cc"/>
<rect x="1343.59" y="577.86" width="15.11" height="20.46" fill="#aaafd3"/>
<rect x="1358.4" y="577.86" width="15.11" height="20.46" fill="#8e95c4"/>
<rect x="1379.25" y="577.86" width="15.11" height="20.46" fill="#dcdeed"/>
<rect x="1394.06" y="577.86" width="15.11" height="20.46" fill="#b8bcdb"/>
<rect x="1408.87" y="577.86" width="15.11" height="20.46" fill="#d0d3e7"/>
<rect x="1423.68" y="577.86" width="15.11" height="20.46" fill="#e8e9f3"/>
<rect x="1438.49" y="577.86" width="15.11" height="20.46" fill="#dcdeed"/>
<rect x="1453.3" y="577.86" width="15.11" height="20.46" fill="#dcdeed"/>
<rect x="1468.11" y="577.86" width="15.11" height="20.46" fill="#f3f4f9"/>
<rect x="1482.92" y="577.86" width="15.11" height="20.46" fill="#e8e9f3"/>
<rect x="1497.73" y="577.86" width="15.11" height="20.46" fill="#f8d5d5"/>
<rect x="1512.54" y="577.86" width="15.11" height="20.46" fill="#fae0e0"/>
<rect x="1527.35" y="577.86" width="15.11" height="20.46" fill="#f4bebe"/>
<rect x="1542.16" y="577.86" width="15.11" height="20.46" fill="#fae0e0"/>
<rect x="1556.97" y="577.86" width="15.11" height="20.46" fill="#dcdeed"/>
<rect x="1571.78" y="577.86" width="15.11" height="20.46" fill="#e8e9f3"/>
<rect x="1586.59" y="577.86" width="15.11" height="20.46" fill="#fceaea"/>
<rect x="1601.4" y="577.86" width="15.11" height="20.46" fill="#e8e9f3"/>
<rect x="1136.25" y="598.02" width="15.11" height="20.46" fill="#ffffff"/>
<rect x="1151.06" y="598.02" width="15.11" height="20.46" fill="#e8e9f3"/>
<rect x="1165.87" y="598.02" width="15.11" height="20.46" fill="#f3f4f9"/>
<rect x="1180.68" y="598.02" width="15.11" height="20.46" fill="#fceaea"/>
<rect x="1195.49" y="598.02" width="15.11" height="20.46" fill="#b8bcdb"/>
<rect x="1210.3" y="598.02" width="15.11" height="20.46" fill="#aaafd3"/>
<rect x="1225.11" y="598.02" width="15.11" height="20.46" fill="#aaafd3"/>
<rect x="1239.92" y="598.02" width="15.11" height="20.46" fill="#b8bcdb"/>
<rect x="1254.73" y="598.02" width="15.11" height="20.46" fill="#f8d5d5"/>
<rect x="1269.54" y="598.02" width="15.11" height="20.46" fill="#f4bebe"/>
<rect x="1284.35" y="598.02" width="15.11" height="20.46" fill="#f4bebe"/>
<rect x="1299.16" y="598.02" width="15.11" height="20.46" fill="#f0a3a5"/>
<rect x="1313.97" y="598.02" width="15.11" height="20.46" fill="#c4c8e1"/>
<rect x="1328.78" y="598.02" width="15.11" height="20.46" fill="#b8bcdb"/>
<rect x="1343.59" y="598.02" width="15.11" height="20.46" fill="#aaafd3"/>
<rect x="1358.4" y="598.02" width="15.11" height="20.46" fill="#d0d3e7"/>
<rect x="1379.25" y="598.02" width="15.11" height="20.46" fill="#dcdeed"/>
<rect x="1394.06" y="598.02" width="15.11" height="20.46" fill="#ffffff"/>
<rect x="1408.87" y="598.02" width="15.11" height="20.46" fill="#f3f4f9"/>
<rect x="1423.68" y="598.02" width="15.11" height="20.46" fill="#e8e9f3"/>
<rect x="1438.49" y="598.02" width="15.11" height="20.46" fill="#e8e9f3"/>
<rect x="1453.3" y="598.02" width="15.11" height="20.46" fill="#c4c8e1"/>
<rect x="1468.11" y="598.02" width="15.11" height="20.46" fill="#d0d3e7"/>
<rect x="1482.92" y="598.02" width="15.11" height="20.46" fill="#e8e9f3"/>
<rect x="1497.73" y="598.02" width="15.11" height="20.46" fill="#f8d5d5"/>
<rect x="1512.54" y="598.02" width="15.11" height="20.46" fill="#f8d5d5"/>
<rect x="1527.35" y="598.02" width="15.11" height="20.46" fill="#f6cbcb"/>
<rect x="1542.16" y="598.02" width="15.11" height="20.46" fill="#fae0e0"/>
<rect x="1556.97" y="598.02" width="15.11" height="20.46" fill="#fdf5f5"/>
<rect x="1571.78" y="598.02" width="15.11" height="20.46" fill="#ffffff"/>
<rect x="1586.59" y="598.02" width="15.11" height="20.46" fill="#dcdeed"/>
<rect x="1601.4" y="598.02" width="15.11" height="20.46" fill="#e8e9f3"/>
<rect x="1136.25" y="618.18" width="15.11" height="20.46" fill="#f8d5d5"/>
<rect x="1151.06" y="618.18" width="15.11" height="20.46" fill="#f8d5d5"/>
<rect x="1165.87" y="618.18" width="15.11" height="20.46" fill="#e8e9f3"/>
<rect x="1180.68" y="618.18" width="15.11" height="20.46" fill="#ffffff"/>
<rect x="1195.49" y="618.18" width="15.11" height="20.46" fill="#fceaea"/>
<rect x="1210.3" y="618.18" width="15.11" height="20.46" fill="#b8bcdb"/>
<rect x="1225.11" y="618.18" width="15.11" height="20.46" fill="#c4c8e1"/>
<rect x="1239.92" y="618.18" width="15.11" height="20.46" fill="#b8bcdb"/>
<rect x="1254.73" y="618.18" width="15.11" height="20.46" fill="#fae0e0"/>
<rect x="1269.54" y="618.18" width="15.11" height="20.46" fill="#f3f4f9"/>
<rect x="1284.35" y="618.18" width="15.11" height="20.46" fill="#f8d5d5"/>
<rect x="1299.16" y="618.18" width="15.11" height="20.46" fill="#f6cbcb"/>
<rect x="1313.97" y="618.18" width="15.11" height="20.46" fill="#d0d3e7"/>
<rect x="1328.78" y="618.18" width="15.11" height="20.46" fill="#9ca2cc"/>
<rect x="1343.59" y="618.18" width="15.11" height="20.46" fill="#b8bcdb"/>
<rect x="1358.4" y="618.18" width="15.11" height="20.46" fill="#c4c8e1"/>
<rect x="1379.25" y="618.18" width="15.11" height="20.46" fill="#dcdeed"/>
<rect x="1394.06" y="618.18" width="15.11" height="20.46" fill="#dcdeed"/>
<rect x="1408.87" y="618.18" width="15.11" height="20.46" fill="#dcdeed"/>
<rect x="1423.68" y="618.18" width="15.11" height="20.46" fill="#d0d3e7"/>
<rect x="1438.49" y="618.18" width="15.11" height="20.46" fill="#c4c8e1"/>
<rect x="1453.3" y="618.18" width="15.11" height="20.46" fill="#c4c8e1"/>
<rect x="1468.11" y="618.18" width="15.11" height="20.46" fill="#dcdeed"/>
<rect x="1482.92" y="618.18" width="15.11" height="20.46" fill="#e8e9f3"/>
<rect x="1497.73" y="618.18" width="15.11" height="20.46" fill="#fdf5f5"/>
<rect x="1512.54" y="618.18" width="15.11" height="20.46" fill="#fdf5f5"/>
<rect x="1527.35" y="618.18" width="15.11" height="20.46" fill="#ffffff"/>
<rect x="1542.16" y="618.18" width="15.11" height="20.46" fill="#f4bebe"/>
<rect x="1556.97" y="618.18" width="15.11" height="20.46" fill="#dcdeed"/>
<rect x="1571.78" y="618.18" width="15.11" height="20.46" fill="#e8e9f3"/>
<rect x="1586.59" y="618.18" width="15.11" height="20.46" fill="#ffffff"/>
<rect x="1601.4" y="618.18" width="15.11" height="20.46" fill="#9ca2cc"/>
<rect x="1136.25" y="638.34" width="15.11" height="20.46" fill="#fae2e2"/>
<rect x="1151.06" y="638.34" width="15.11" height="20.46" fill="#fcecec"/>
<rect x="1165.87" y="638.34" width="15.11" height="20.46" fill="#fcecec"/>
<rect x="1180.68" y="638.34" width="15.11" height="20.46" fill="#f9d9d9"/>
<rect x="1195.49" y="638.34" width="15.11" height="20.46" fill="#a8aed2"/>
<rect x="1210.3" y="638.34" width="15.11" height="20.46" fill="#9ca2cc"/>
<rect x="1225.11" y="638.34" width="15.11" height="20.46" fill="#a8aed2"/>
<rect x="1239.92" y="638.34" width="15.11" height="20.46" fill="#a8aed2"/>
<rect x="1254.73" y="638.34" width="15.11" height="20.46" fill="#f5c5c5"/>
<rect x="1269.54" y="638.34" width="15.11" height="20.46" fill="#f1acad"/>
<rect x="1284.35" y="638.34" width="15.11" height="20.46" fill="#f5c5c5"/>
<rect x="1299.16" y="638.34" width="15.11" height="20.46" fill="#f5c5c5"/>
<rect x="1313.97" y="638.34" width="15.11" height="20.46" fill="#838bbe"/>
<rect x="1328.78" y="638.34" width="15.11" height="20.46" fill="#9ca2cc"/>
<rect x="1343.59" y="638.34" width="15.11" height="20.46" fill="#a8aed2"/>
<rect x="1358.4" y="638.34" width="15.11" height="20.46" fill="#838bbe"/>
<rect x="1379.25" y="638.34" width="15.11" height="20.46" fill="#ffffff"/>
<rect x="1394.06" y="638.34" width="15.11" height="20.46" fill="#ffffff"/>
<rect x="1408.87" y="638.34" width="15.11" height="20.46" fill="#fdf5f5"/>
<rect x="1423.68" y="638.34" width="15.11" height="20.46" fill="#fae2e2"/>
<rect x="1438.49" y="638.34" width="15.11" height="20.46" fill="#a8aed2"/>
<rect x="1453.3" y="638.34" width="15.11" height="20.46" fill="#a8aed2"/>
<rect x="1468.11" y="638.34" width="15.11" height="20.46" fill="#b5b9d9"/>
<rect x="1482.92" y="638.34" width="15.11" height="20.46" fill="#8f96c5"/>
<rect x="1497.73" y="638.34" width="15.11" height="20.46" fill="#eaebf4"/>
<rect x="1512.54" y="638.34" width="15.11" height="20.46" fill="#ffffff"/>
<rect x="1527.35" y="638.34" width="15.11" height="20.46" fill="#f5f5fa"/>
<rect x="1542.16" y="638.34" width="15.11" height="20.46" fill="#eaebf4"/>
<rect x="1556.97" y="638.34" width="15.11" height="20.46" fill="#d5d8ea"/>
<rect x="1571.78" y="638.34" width="15.11" height="20.46" fill="#cbcee5"/>
<rect x="1586.59" y="638.34" width="15.11" height="20.46" fill="#d5d8ea"/>
<rect x="1601.4" y="638.34" width="15.11" height="20.46" fill="#eaebf4"/>
<rect x="1136.25" y="658.5" width="15.11" height="20.46" fill="#fcecec"/>
<rect x="1151.06" y="658.5" width="15.11" height="20.46" fill="#ffffff"/>
<rect x="1165.87" y="658.5" width="15.11" height="20.46" fill="#f5c5c5"/>
<rect x="1180.68" y="658.5" width="15.11" height="20.46" fill="#f9d9d9"/>
<rect x="1195.49" y="658.5" width="15.11" height="20.46" fill="#b5b9d9"/>
<rect x="1210.3" y="658.5" width="15.11" height="20.46" fill="#c1c4df"/>
<rect x="1225.11" y="658.5" width="15.11" height="20.46" fill="#9ca2cc"/>
<rect x="1239.92" y="658.5" width="15.11" height="20.46" fill="#b5b9d9"/>
<rect x="1254.73" y="658.5" width="15.11" height="20.46" fill="#eaebf4"/>
<rect x="1269.54" y="658.5" width="15.11" height="20.46" fill="#f5f5fa"/>
<rect x="1284.35" y="658.5" width="15.11" height="20.46" fill="#eaebf4"/>
<rect x="1299.16" y="658.5" width="15.11" height="20.46" fill="#eaebf4"/>
<rect x="1313.97" y="658.5" width="15.11" height="20.46" fill="#8f96c5"/>
<rect x="1328.78" y="658.5" width="15.11" height="20.46" fill="#8f96c5"/>
<rect x="1343.59" y="658.5" width="15.11" height="20.46" fill="#9ca2cc"/>
<rect x="1358.4" y="658.5" width="15.11" height="20.46" fill="#8f96c5"/>
<rect x="1379.25" y="658.5" width="15.11" height="20.46" fill="#f3b8b9"/>
<rect x="1394.06" y="658.5" width="15.11" height="20.46" fill="#f3b8b9"/>
<rect x="1408.87" y="658.5" width="15.11" height="20.46" fill="#fae2e2"/>
<rect x="1423.68" y="658.5" width="15.11" height="20.46" fill="#f5c5c5"/>
<rect x="1438.49" y="658.5" width="15.11" height="20.46" fill="#b5b9d9"/>
<rect x="1453.3" y="658.5" width="15.11" height="20.46" fill="#a8aed2"/>
<rect x="1468.11" y="658.5" width="15.11" height="20.46" fill="#b5b9d9"/>
<rect x="1482.92" y="658.5" width="15.11" height="20.46" fill="#cbcee5"/>
<rect x="1497.73" y="658.5" width="15.11" height="20.46" fill="#f5f5fa"/>
<rect x="1512.54" y="658.5" width="15.11" height="20.46" fill="#eaebf4"/>
<rect x="1527.35" y="658.5" width="15.11" height="20.46" fill="#eaebf4"/>
<rect x="1542.16" y="658.5" width="15.11" height="20.46" fill="#e0e2ef"/>
<rect x="1556.97" y="658.5" width="15.11" height="20.46" fill="#cbcee5"/>
<rect x="1571.78" y="658.5" width="15.11" height="20.46" fill="#b5b9d9"/>
<rect x="1586.59" y="658.5" width="15.11" height="20.46" fill="#cbcee5"/>
<rect x="1601.4" y="658.5" width="15.11" height="20.46" fill="#b5b9d9"/>
<rect x="1136.25" y="678.66" width="15.11" height="20.46" fill="#f5f5fa"/>
<rect x="1151.06" y="678.66" width="15.11" height="20.46" fill="#f5c5c5"/>
<rect x="1165.87" y="678.66" width="15.11" height="20.46" fill="#fae2e2"/>
<rect x="1180.68" y="678.66" width="15.11" height="20.46" fill="#f9d9d9"/>
<rect x="1195.49" y="678.66" width="15.11" height="20.46" fill="#c1c4df"/>
<rect x="1210.3" y="678.66" width="15.11" height="20.46" fill="#c1c4df"/>
<rect x="1225.11" y="678.66" width="15.11" height="20.46" fill="#b5b9d9"/>
<rect x="1239.92" y="678.66" width="15.11" height="20.46" fill="#b5b9d9"/>
<rect x="1254.73" y="678.66" width="15.11" height="20.46" fill="#ffffff"/>
<rect x="1269.54" y="678.66" width="15.11" height="20.46" fill="#f5f5fa"/>
<rect x="1284.35" y="678.66" width="15.11" height="20.46" fill="#ffffff"/>
<rect x="1299.16" y="678.66" width="15.11" height="20.46" fill="#eaebf4"/>
<rect x="1313.97" y="678.66" width="15.11" height="20.46" fill="#8f96c5"/>
<rect x="1328.78" y="678.66" width="15.11" height="20.46" fill="#8f96c5"/>
<rect x="1343.59" y="678.66" width="15.11" height="20.46" fill="#9ca2cc"/>
<rect x="1358.4" y="678.66" width="15.11" height="20.46" fill="#8f96c5"/>
<rect x="1379.25" y="678.66" width="15.11" height="20.46" fill="#f9d9d9"/>
<rect x="1394.06" y="678.66" width="15.11" height="20.46" fill="#f9d9d9"/>
<rect x="1408.87" y="678.66" width="15.11" height="20.46" fill="#f7cfcf"/>
<rect x="1423.68" y="678.66" width="15.11" height="20.46" fill="#f9d9d9"/>
<rect x="1438.49" y="678.66" width="15.11" height="20.46" fill="#c1c4df"/>
<rect x="1453.3" y="678.66" width="15.11" height="20.46" fill="#d5d8ea"/>
<rect x="1468.11" y="678.66" width="15.11" height="20.46" fill="#c1c4df"/>
<rect x="1482.92" y="678.66" width="15.11" height="20.46" fill="#a8aed2"/>
<rect x="1497.73" y="678.66" width="15.11" height="20.46" fill="#fcecec"/>
<rect x="1512.54" y="678.66" width="15.11" height="20.46" fill="#ffffff"/>
<rect x="1527.35" y="678.66" width="15.11" height="20.46" fill="#fdf5f5"/>
<rect x="1542.16" y="678.66" width="15.11" height="20.46" fill="#f5f5fa"/>
<rect x="1556.97" y="678.66" width="15.11" height="20.46" fill="#e0e2ef"/>
<rect x="1571.78" y="678.66" width="15.11" height="20.46" fill="#d5d8ea"/>
<rect x="1586.59" y="678.66" width="15.11" height="20.46" fill="#d5d8ea"/>
<rect x="1601.4" y="678.66" width="15.11" height="20.46" fill="#b5b9d9"/>
<rect x="1136.25" y="698.82" width="15.11" height="20.46" fill="#eaebf4"/>
<rect x="1151.06" y="698.82" width="15.11" height="20.46" fill="#c1c4df"/>
<rect x="1165.87" y="698.82" width="15.11" height="20.46" fill="#a8aed2"/>
<rect x="1180.68" y="698.82" width="15.11" height="20.46" fill="#eaebf4"/>
<rect x="1195.49" y="698.82" width="15.11" height="20.46" fill="#d5d8ea"/>
<rect x="1210.3" y="698.82" width="15.11" height="20.46" fill="#c1c4df"/>
<rect x="1225.11" y="698.82" width="15.11" height="20.46" fill="#c1c4df"/>
<rect x="1239.92" y="698.82" width="15.11" height="20.46" fill="#b5b9d9"/>
<rect x="1254.73" y="698.82" width="15.11" height="20.46" fill="#ed9396"/>
<rect x="1269.54" y="698.82" width="15.11" height="20.46" fill="#f1acad"/>
<rect x="1284.35" y="698.82" width="15.11" height="20.46" fill="#f1acad"/>
<rect x="1299.16" y="698.82" width="15.11" height="20.46" fill="#f3b8b9"/>
<rect x="1313.97" y="698.82" width="15.11" height="20.46" fill="#5f6dad"/>
<rect x="1328.78" y="698.82" width="15.11" height="20.46" fill="#767fb7"/>
<rect x="1343.59" y="698.82" width="15.11" height="20.46" fill="#767fb7"/>
<rect x="1358.4" y="698.82" width="15.11" height="20.46" fill="#6a75b2"/>
<rect x="1379.25" y="698.82" width="15.11" height="20.46" fill="#a8aed2"/>
<rect x="1394.06" y="698.82" width="15.11" height="20.46" fill="#cbcee5"/>
<rect x="1408.87" y="698.82" width="15.11" height="20.46" fill="#a8aed2"/>
<rect x="1423.68" y="698.82" width="15.11" height="20.46" fill="#b5b9d9"/>
<rect x="1438.49" y="698.82" width="15.11" height="20.46" fill="#a8aed2"/>
<rect x="1453.3" y="698.82" width="15.11" height="20.46" fill="#c1c4df"/>
<rect x="1468.11" y="698.82" width="15.11" height="20.46" fill="#b5b9d9"/>
<rect x="1482.92" y="698.82" width="15.11" height="20.46" fill="#b5b9d9"/>
<rect x="1497.73" y="698.82" width="15.11" height="20.46" fill="#ef9fa2"/>
<rect x="1512.54" y="698.82" width="15.11" height="20.46" fill="#ef9fa2"/>
<rect x="1527.35" y="698.82" width="15.11" height="20.46" fill="#ef9fa2"/>
<rect x="1542.16" y="698.82" width="15.11" height="20.46" fill="#ef9fa2"/>
<rect x="1556.97" y="698.82" width="15.11" height="20.46" fill="#fdf5f5"/>
<rect x="1571.78" y="698.82" width="15.11" height="20.46" fill="#fcecec"/>
<rect x="1586.59" y="698.82" width="15.11" height="20.46" fill="#f7cfcf"/>
<rect x="1601.4" y="698.82" width="15.11" height="20.46" fill="#d5d8ea"/>
<rect x="1136.25" y="718.98" width="15.11" height="20.46" fill="#e0e2ef"/>
<rect x="1151.06" y="718.98" width="15.11" height="20.46" fill="#cbcee5"/>
<rect x="1165.87" y="718.98" width="15.11" height="20.46" fill="#e0e2ef"/>
<rect x="1180.68" y="718.98" width="15.11" height="20.46" fill="#b5b9d9"/>
<rect x="1195.49" y="718.98" width="15.11" height="20.46" fill="#cbcee5"/>
<rect x="1210.3" y="718.98" width="15.11" height="20.46" fill="#d5d8ea"/>
<rect x="1225.11" y="718.98" width="15.11" height="20.46" fill="#a8aed2"/>
<rect x="1239.92" y="718.98" width="15.11" height="20.46" fill="#eaebf4"/>
<rect x="1254.73" y="718.98" width="15.11" height="20.46" fill="#ef9fa2"/>
<rect x="1269.54" y="718.98" width="15.11" height="20.46" fill="#f3b8b9"/>
<rect x="1284.35" y="718.98" width="15.11" height="20.46" fill="#f7cfcf"/>
<rect x="1299.16" y="718.98" width="15.11" height="20.46" fill="#f1acad"/>
<rect x="1313.97" y="718.98" width="15.11" height="20.46" fill="#767fb7"/>
<rect x="1328.78" y="718.98" width="15.11" height="20.46" fill="#6a75b2"/>
<rect x="1343.59" y="718.98" width="15.11" height="20.46" fill="#767fb7"/>
<rect x="1358.4" y="718.98" width="15.11" height="20.46" fill="#5f6dad"/>
<rect x="1379.25" y="718.98" width="15.11" height="20.46" fill="#d5d8ea"/>
<rect x="1394.06" y="718.98" width="15.11" height="20.46" fill="#c1c4df"/>
<rect x="1408.87" y="718.98" width="15.11" height="20.46" fill="#cbcee5"/>
<rect x="1423.68" y="718.98" width="15.11" height="20.46" fill="#c1c4df"/>
<rect x="1438.49" y="718.98" width="15.11" height="20.46" fill="#c1c4df"/>
<rect x="1453.3" y="718.98" width="15.11" height="20.46" fill="#eaebf4"/>
<rect x="1468.11" y="718.98" width="15.11" height="20.46" fill="#9ca2cc"/>
<rect x="1482.92" y="718.98" width="15.11" height="20.46" fill="#b5b9d9"/>
<rect x="1497.73" y="718.98" width="15.11" height="20.46" fill="#ed9396"/>
<rect x="1512.54" y="718.98" width="15.11" height="20.46" fill="#ed9396"/>
<rect x="1527.35" y="718.98" width="15.11" height="20.46" fill="#f9d9d9"/>
<rect x="1542.16" y="718.98" width="15.11" height="20.46" fill="#f1acad"/>
<rect x="1556.97" y="718.98" width="15.11" height="20.46" fill="#ffffff"/>
<rect x="1571.78" y="718.98" width="15.11" height="20.46" fill="#fae2e2"/>
<rect x="1586.59" y="718.98" width="15.11" height="20.46" fill="#f7cfcf"/>
<rect x="1601.4" y="718.98" width="15.11" height="20.46" fill="#fcecec"/>
<rect x="1136.25" y="739.14" width="15.11" height="20.46" fill="#8f96c5"/>
<rect x="1151.06" y="739.14" width="15.11" height="20.46" fill="#8f96c5"/>
<rect x="1165.87" y="739.14" width="15.11" height="20.46" fill="#8f96c5"/>
<rect x="1180.68" y="739.14" width="15.11" height="20.46" fill="#9ca2cc"/>
<rect x="1195.49" y="739.14" width="15.11" height="20.46" fill="#ffffff"/>
<rect x="1210.3" y="739.14" width="15.11" height="20.46" fill="#e0e2ef"/>
<rect x="1225.11" y="739.14" width="15.11" height="20.46" fill="#d5d8ea"/>
<rect x="1239.92" y="739.14" width="15.11" height="20.46" fill="#fcecec"/>
<rect x="1254.73" y="739.14" width="15.11" height="20.46" fill="#fdf5f5"/>
<rect x="1269.54" y="739.14" width="15.11" height="20.46" fill="#fae2e2"/>
<rect x="1284.35" y="739.14" width="15.11" height="20.46" fill="#f5c5c5"/>
<rect x="1299.16" y="739.14" width="15.11" height="20.46" fill="#f7cfcf"/>
<rect x="1313.97" y="739.14" width="15.11" height="20.46" fill="#a8aed2"/>
<rect x="1328.78" y="739.14" width="15.11" height="20.46" fill="#a8aed2"/>
<rect x="1343.59" y="739.14" width="15.11" height="20.46" fill="#d5d8ea"/>
<rect x="1358.4" y="739.14" width="15.11" height="20.46" fill="#b5b9d9"/>
<rect x="1379.25" y="739.14" width="15.11" height="20.46" fill="#c1c4df"/>
<rect x="1394.06" y="739.14" width="15.11" height="20.46" fill="#8f96c5"/>
<rect x="1408.87" y="739.14" width="15.11" height="20.46" fill="#767fb7"/>
<rect x="1423.68" y="739.14" width="15.11" height="20.46" fill="#a8aed2"/>
<rect x="1438.49" y="739.14" width="15.11" height="20.46" fill="#cbcee5"/>
<rect x="1453.3" y="739.14" width="15.11" height="20.46" fill="#d5d8ea"/>
<rect x="1468.11" y="739.14" width="15.11" height="20.46" fill="#cbcee5"/>
<rect x="1482.92" y="739.14" width="15.11" height="20.46" fill="#cbcee5"/>
<rect x="1497.73" y="739.14" width="15.11" height="20.46" fill="#ffffff"/>
<rect x="1512.54" y="739.14" width="15.11" height="20.46" fill="#fae2e2"/>
<rect x="1527.35" y="739.14" width="15.11" height="20.46" fill="#f5c5c5"/>
<rect x="1542.16" y="739.14" width="15.11" height="20.46" fill="#f7cfcf"/>
<rect x="1556.97" y="739.14" width="15.11" height="20.46" fill="#fcecec"/>
<rect x="1571.78" y="739.14" width="15.11" height="20.46" fill="#ffffff"/>
<rect x="1586.59" y="739.14" width="15.11" height="20.46" fill="#f5c5c5"/>
<rect x="1601.4" y="739.14" width="15.11" height="20.46" fill="#f7cfcf"/>
<rect x="1136.25" y="759.3" width="15.11" height="20.46" fill="#a8aed2"/>
<rect x="1151.06" y="759.3" width="15.11" height="20.46" fill="#cbcee5"/>
<rect x="1165.87" y="759.3" width="15.11" height="20.46" fill="#9ca2cc"/>
<rect x="1180.68" y="759.3" width="15.11" height="20.46" fill="#a8aed2"/>
<rect x="1195.49" y="759.3" width="15.11" height="20.46" fill="#d5d8ea"/>
<rect x="1210.3" y="759.3" width="15.11" height="20.46" fill="#c1c4df"/>
<rect x="1225.11" y="759.3" width="15.11" height="20.46" fill="#f5f5fa"/>
<rect x="1239.92" y="759.3" width="15.11" height="20.46" fill="#e0e2ef"/>
<rect x="1254.73" y="759.3" width="15.11" height="20.46" fill="#f7cfcf"/>
<rect x="1269.54" y="759.3" width="15.11" height="20.46" fill="#f3b8b9"/>
<rect x="1284.35" y="759.3" width="15.11" height="20.46" fill="#f3b8b9"/>
<rect x="1299.16" y="759.3" width="15.11" height="20.46" fill="#f7cfcf"/>
<rect x="1313.97" y="759.3" width="15.11" height="20.46" fill="#b5b9d9"/>
<rect x="1328.78" y="759.3" width="15.11" height="20.46" fill="#c1c4df"/>
<rect x="1343.59" y="759.3" width="15.11" height="20.46" fill="#a8aed2"/>
<rect x="1358.4" y="759.3" width="15.11" height="20.46" fill="#b5b9d9"/>
<rect x="1379.25" y="759.3" width="15.11" height="20.46" fill="#a8aed2"/>
<rect x="1394.06" y="759.3" width="15.11" height="20.46" fill="#b5b9d9"/>
<rect x="1408.87" y="759.3" width="15.11" height="20.46" fill="#a8aed2"/>
<rect x="1423.68" y="759.3" width="15.11" height="20.46" fill="#a8aed2"/>
<rect x="1438.49" y="759.3" width="15.11" height="20.46" fill="#c1c4df"/>
<rect x="1453.3" y="759.3" width="15.11" height="20.46" fill="#d5d8ea"/>
<rect x="1468.11" y="759.3" width="15.11" height="20.46" fill="#d5d8ea"/>
<rect x="1482.92" y="759.3" width="15.11" height="20.46" fill="#e0e2ef"/>
<rect x="1497.73" y="759.3" width="15.11" height="20.46" fill="#fdf5f5"/>
<rect x="1512.54" y="759.3" width="15.11" height="20.46" fill="#fae2e2"/>
<rect x="1527.35" y="759.3" width="15.11" height="20.46" fill="#fae2e2"/>
<rect x="1542.16" y="759.3" width="15.11" height="20.46" fill="#fcecec"/>
<rect x="1556.97" y="759.3" width="15.11" height="20.46" fill="#fcecec"/>
<rect x="1571.78" y="759.3" width="15.11" height="20.46" fill="#eaebf4"/>
<rect x="1586.59" y="759.3" width="15.11" height="20.46" fill="#fcecec"/>
<rect x="1601.4" y="759.3" width="15.11" height="20.46" fill="#fae2e2"/>
<rect x="1136.25" y="779.46" width="15.11" height="20.46" fill="#b5b9d9"/>
<rect x="1151.06" y="779.46" width="15.11" height="20.46" fill="#a8aed2"/>
<rect x="1165.87" y="779.46" width="15.11" height="20.46" fill="#b5b9d9"/>
<rect x="1180.68" y="779.46" width="15.11" height="20.46" fill="#d5d8ea"/>
<rect x="1195.49" y="779.46" width="15.11" height="20.46" fill="#d5d8ea"/>
<rect x="1210.3" y="779.46" width="15.11" height="20.46" fill="#eaebf4"/>
<rect x="1225.11" y="779.46" width="15.11" height="20.46" fill="#d5d8ea"/>
<rect x="1239.92" y="779.46" width="15.11" height="20.46" fill="#fcecec"/>
<rect x="1254.73" y="779.46" width="15.11" height="20.46" fill="#f7cfcf"/>
<rect x="1269.54" y="779.46" width="15.11" height="20.46" fill="#f9d9d9"/>
<rect x="1284.35" y="779.46" width="15.11" height="20.46" fill="#f5c5c5"/>
<rect x="1299.16" y="779.46" width="15.11" height="20.46" fill="#f7cfcf"/>
<rect x="1313.97" y="779.46" width="15.11" height="20.46" fill="#b5b9d9"/>
<rect x="1328.78" y="779.46" width="15.11" height="20.46" fill="#c1c4df"/>
<rect x="1343.59" y="779.46" width="15.11" height="20.46" fill="#b5b9d9"/>
<rect x="1358.4" y="779.46" width="15.11" height="20.46" fill="#b5b9d9"/>
<rect x="1379.25" y="779.46" width="15.11" height="20.46" fill="#b5b9d9"/>
<rect x="1394.06" y="779.46" width="15.11" height="20.46" fill="#b5b9d9"/>
<rect x="1408.87" y="779.46" width="15.11" height="20.46" fill="#b5b9d9"/>
<rect x="1423.68" y="779.46" width="15.11" height="20.46" fill="#c1c4df"/>
<rect x="1438.49" y="779.46" width="15.11" height="20.46" fill="#e0e2ef"/>
<rect x="1453.3" y="779.46" width="15.11" height="20.46" fill="#cbcee5"/>
<rect x="1468.11" y="779.46" width="15.11" height="20.46" fill="#ffffff"/>
<rect x="1482.92" y="779.46" width="15.11" height="20.46" fill="#eaebf4"/>
<rect x="1497.73" y="779.46" width="15.11" height="20.46" fill="#ffffff"/>
<rect x="1512.54" y="779.46" width="15.11" height="20.46" fill="#fcecec"/>
<rect x="1527.35" y="779.46" width="15.11" height="20.46" fill="#f7cfcf"/>
<rect x="1542.16" y="779.46" width="15.11" height="20.46" fill="#f7cfcf"/>
<rect x="1556.97" y="779.46" width="15.11" height="20.46" fill="#fae2e2"/>
<rect x="1571.78" y="779.46" width="15.11" height="20.46" fill="#ffffff"/>
<rect x="1586.59" y="779.46" width="15.11" height="20.46" fill="#fcecec"/>
<rect x="1601.4" y="779.46" width="15.11" height="20.46" fill="#cbcee5"/>
<rect x="1136.25" y="799.62" width="15.11" height="20.46" fill="#b5b9d9"/>
<rect x="1151.06" y="799.62" width="15.11" height="20.46" fill="#d5d8ea"/>
<rect x="1165.87" y="799.62" width="15.11" height="20.46" fill="#e0e2ef"/>
<rect x="1180.68" y="799.62" width="15.11" height="20.46" fill="#eaebf4"/>
<rect x="1195.49" y="799.62" width="15.11" height="20.46" fill="#b5b9d9"/>
<rect x="1210.3" y="799.62" width="15.11" height="20.46" fill="#8f96c5"/>
<rect x="1225.11" y="799.62" width="15.11" height="20.46" fill="#9ca2cc"/>
<rect x="1239.92" y="799.62" width="15.11" height="20.46" fill="#a8aed2"/>
<rect x="1254.73" y="799.62" width="15.11" height="20.46" fill="#f7cfcf"/>
<rect x="1269.54" y="799.62" width="15.11" height="20.46" fill="#f5c5c5"/>
<rect x="1284.35" y="799.62" width="15.11" height="20.46" fill="#f5c5c5"/>
<rect x="1299.16" y="799.62" width="15.11" height="20.46" fill="#ef9fa2"/>
<rect x="1313.97" y="799.62" width="15.11" height="20.46" fill="#c1c4df"/>
<rect x="1328.78" y="799.62" width="15.11" height="20.46" fill="#e0e2ef"/>
<rect x="1343.59" y="799.62" width="15.11" height="20.46" fill="#e0e2ef"/>
<rect x="1358.4" y="799.62" width="15.11" height="20.46" fill="#cbcee5"/>
<rect x="1379.25" y="799.62" width="15.11" height="20.46" fill="#b5b9d9"/>
<rect x="1394.06" y="799.62" width="15.11" height="20.46" fill="#cbcee5"/>
<rect x="1408.87" y="799.62" width="15.11" height="20.46" fill="#cbcee5"/>
<rect x="1423.68" y="799.62" width="15.11" height="20.46" fill="#cbcee5"/>
<rect x="1438.49" y="799.62" width="15.11" height="20.46" fill="#cbcee5"/>
<rect x="1453.3" y="799.62" width="15.11" height="20.46" fill="#8f96c5"/>
<rect x="1468.11" y="799.62" width="15.11" height="20.46" fill="#b5b9d9"/>
<rect x="1482.92" y="799.62" width="15.11" height="20.46" fill="#eaebf4"/>
<rect x="1497.73" y="799.62" width="15.11" height="20.46" fill="#fcecec"/>
<rect x="1512.54" y="799.62" width="15.11" height="20.46" fill="#f7cfcf"/>
<rect x="1527.35" y="799.62" width="15.11" height="20.46" fill="#fae2e2"/>
<rect x="1542.16" y="799.62" width="15.11" height="20.46" fill="#f7cfcf"/>
<rect x="1556.97" y="799.62" width="15.11" height="20.46" fill="#f9d9d9"/>
<rect x="1571.78" y="799.62" width="15.11" height="20.46" fill="#ffffff"/>
<rect x="1586.59" y="799.62" width="15.11" height="20.46" fill="#fdf5f5"/>
<rect x="1601.4" y="799.62" width="15.11" height="20.46" fill="#ffffff"/>
<rect x="1136.25" y="819.78" width="15.11" height="20.46" fill="#b5b9d9"/>
<rect x="1151.06" y="819.78" width="15.11" height="20.46" fill="#c1c4df"/>
<rect x="1165.87" y="819.78" width="15.11" height="20.46" fill="#eaebf4"/>
<rect x="1180.68" y="819.78" width="15.11" height="20.46" fill="#cbcee5"/>
<rect x="1195.49" y="819.78" width="15.11" height="20.46" fill="#c1c4df"/>
<rect x="1210.3" y="819.78" width="15.11" height="20.46" fill="#c1c4df"/>
<rect x="1225.11" y="819.78" width="15.11" height="20.46" fill="#b5b9d9"/>
<rect x="1239.92" y="819.78" width="15.11" height="20.46" fill="#9ca2cc"/>
<rect x="1254.73" y="819.78" width="15.11" height="20.46" fill="#f5c5c5"/>
<rect x="1269.54" y="819.78" width="15.11" height="20.46" fill="#f5c5c5"/>
<rect x="1284.35" y="819.78" width="15.11" height="20.46" fill="#f3b8b9"/>
<rect x="1299.16" y="819.78" width="15.11" height="20.46" fill="#f7cfcf"/>
<rect x="1313.97" y="819.78" width="15.11" height="20.46" fill="#a8aed2"/>
<rect x="1328.78" y="819.78" width="15.11" height="20.46" fill="#b5b9d9"/>
<rect x="1343.59" y="819.78" width="15.11" height="20.46" fill="#c1c4df"/>
<rect x="1358.4" y="819.78" width="15.11" height="20.46" fill="#b5b9d9"/>
<rect x="1379.25" y="819.78" width="15.11" height="20.46" fill="#b5b9d9"/>
<rect x="1394.06" y="819.78" width="15.11" height="20.46" fill="#b5b9d9"/>
<rect x="1408.87" y="819.78" width="15.11" height="20.46" fill="#b5b9d9"/>
<rect x="1423.68" y="819.78" width="15.11" height="20.46" fill="#b5b9d9"/>
<rect x="1438.49" y="819.78" width="15.11" height="20.46" fill="#b5b9d9"/>
<rect x="1453.3" y="819.78" width="15.11" height="20.46" fill="#b5b9d9"/>
<rect x="1468.11" y="819.78" width="15.11" height="20.46" fill="#cbcee5"/>
<rect x="1482.92" y="819.78" width="15.11" height="20.46" fill="#9ca2cc"/>
<rect x="1497.73" y="819.78" width="15.11" height="20.46" fill="#fdf5f5"/>
<rect x="1512.54" y="819.78" width="15.11" height="20.46" fill="#ffffff"/>
<rect x="1527.35" y="819.78" width="15.11" height="20.46" fill="#fcecec"/>
<rect x="1542.16" y="819.78" width="15.11" height="20.46" fill="#f5c5c5"/>
<rect x="1556.97" y="819.78" width="15.11" height="20.46" fill="#ffffff"/>
<rect x="1571.78" y="819.78" width="15.11" height="20.46" fill="#eaebf4"/>
<rect x="1586.59" y="819.78" width="15.11" height="20.46" fill="#fcecec"/>
<rect x="1601.4" y="819.78" width="15.11" height="20.46" fill="#fae2e2"/>
<rect x="1136.25" y="839.94" width="15.11" height="20.46" fill="#a8aed2"/>
<rect x="1151.06" y="839.94" width="15.11" height="20.46" fill="#a8aed2"/>
<rect x="1165.87" y="839.94" width="15.11" height="20.46" fill="#a8aed2"/>
<rect x="1180.68" y="839.94" width="15.11" height="20.46" fill="#a8aed2"/>
<rect x="1195.49" y="839.94" width="15.11" height="20.46" fill="#a8aed2"/>
<rect x="1210.3" y="839.94" width="15.11" height="20.46" fill="#b5b9d9"/>
<rect x="1225.11" y="839.94" width="15.11" height="20.46" fill="#8f96c5"/>
<rect x="1239.92" y="839.94" width="15.11" height="20.46" fill="#a8aed2"/>
<rect x="1254.73" y="839.94" width="15.11" height="20.46" fill="#f5c5c5"/>
<rect x="1269.54" y="839.94" width="15.11" height="20.46" fill="#f5c5c5"/>
<rect x="1284.35" y="839.94" width="15.11" height="20.46" fill="#f3b8b9"/>
<rect x="1299.16" y="839.94" width="15.11" height="20.46" fill="#f3b8b9"/>
<rect x="1313.97" y="839.94" width="15.11" height="20.46" fill="#e0e2ef"/>
<rect x="1328.78" y="839.94" width="15.11" height="20.46" fill="#c1c4df"/>
<rect x="1343.59" y="839.94" width="15.11" height="20.46" fill="#c1c4df"/>
<rect x="1358.4" y="839.94" width="15.11" height="20.46" fill="#c1c4df"/>
<rect x="1379.25" y="839.94" width="15.11" height="20.46" fill="#a8aed2"/>
<rect x="1394.06" y="839.94" width="15.11" height="20.46" fill="#a8aed2"/>
<rect x="1408.87" y="839.94" width="15.11" height="20.46" fill="#b5b9d9"/>
<rect x="1423.68" y="839.94" width="15.11" height="20.46" fill="#b5b9d9"/>
<rect x="1438.49" y="839.94" width="15.11" height="20.46" fill="#d5d8ea"/>
<rect x="1453.3" y="839.94" width="15.11" height="20.46" fill="#a8aed2"/>
<rect x="1468.11" y="839.94" width="15.11" height="20.46" fill="#a8aed2"/>
<rect x="1482.92" y="839.94" width="15.11" height="20.46" fill="#b5b9d9"/>
<rect x="1497.73" y="839.94" width="15.11" height="20.46" fill="#fae2e2"/>
<rect x="1512.54" y="839.94" width="15.11" height="20.46" fill="#f3b8b9"/>
<rect x="1527.35" y="839.94" width="15.11" height="20.46" fill="#fae2e2"/>
<rect x="1542.16" y="839.94" width="15.11" height="20.46" fill="#fae2e2"/>
<rect x="1556.97" y="839.94" width="15.11" height="20.46" fill="#f9d9d9"/>
<rect x="1571.78" y="839.94" width="15.11" height="20.46" fill="#fcecec"/>
<rect x="1586.59" y="839.94" width="15.11" height="20.46" fill="#f9d9d9"/>
<rect x="1601.4" y="839.94" width="15.11" height="20.46" fill="#f9d9d9"/>
<rect x="1136.25" y="860.1" width="15.11" height="20.46" fill="#9ca2cc"/>
<rect x="1151.06" y="860.1" width="15.11" height="20.46" fill="#767fb7"/>
<rect x="1165.87" y="860.1" width="15.11" height="20.46" fill="#838bbe"/>
<rect x="1180.68" y="860.1" width="15.11" height="20.46" fill="#c1c4df"/>
<rect x="1195.49" y="860.1" width="15.11" height="20.46" fill="#b5b9d9"/>
<rect x="1210.3" y="860.1" width="15.11" height="20.46" fill="#9ca2cc"/>
<rect x="1225.11" y="860.1" width="15.11" height="20.46" fill="#b5b9d9"/>
<rect x="1239.92" y="860.1" width="15.11" height="20.46" fill="#c1c4df"/>
<rect x="1254.73" y="860.1" width="15.11" height="20.46" fill="#ef9fa2"/>
<rect x="1269.54" y="860.1" width="15.11" height="20.46" fill="#ed9396"/>
<rect x="1284.35" y="860.1" width="15.11" height="20.46" fill="#fdf5f5"/>
<rect x="1299.16" y="860.1" width="15.11" height="20.46" fill="#f1acad"/>
<rect x="1313.97" y="860.1" width="15.11" height="20.46" fill="#c1c4df"/>
<rect x="1328.78" y="860.1" width="15.11" height="20.46" fill="#f5f5fa"/>
<rect x="1343.59" y="860.1" width="15.11" height="20.46" fill="#d5d8ea"/>
<rect x="1358.4" y="860.1" width="15.11" height="20.46" fill="#cbcee5"/>
<rect x="1379.25" y="860.1" width="15.11" height="20.46" fill="#8f96c5"/>
<rect x="1394.06" y="860.1" width="15.11" height="20.46" fill="#c1c4df"/>
<rect x="1408.87" y="860.1" width="15.11" height="20.46" fill="#9ca2cc"/>
<rect x="1423.68" y="860.1" width="15.11" height="20.46" fill="#838bbe"/>
<rect x="1438.49" y="860.1" width="15.11" height="20.46" fill="#b5b9d9"/>
<rect x="1453.3" y="860.1" width="15.11" height="20.46" fill="#a8aed2"/>
<rect x="1468.11" y="860.1" width="15.11" height="20.46" fill="#b5b9d9"/>
<rect x="1482.92" y="860.1" width="15.11" height="20.46" fill="#c1c4df"/>
<rect x="1497.73" y="860.1" width="15.11" height="20.46" fill="#f9d9d9"/>
<rect x="1512.54" y="860.1" width="15.11" height="20.46" fill="#f1acad"/>
<rect x="1527.35" y="860.1" width="15.11" height="20.46" fill="#f5c5c5"/>
<rect x="1542.16" y="860.1" width="15.11" height="20.46" fill="#f5c5c5"/>
<rect x="1556.97" y="860.1" width="15.11" height="20.46" fill="#f7cfcf"/>
<rect x="1571.78" y="860.1" width="15.11" height="20.46" fill="#f5c5c5"/>
<rect x="1586.59" y="860.1" width="15.11" height="20.46" fill="#f5c5c5"/>
<rect x="1601.4" y="860.1" width="15.11" height="20.46" fill="#eaebf4"/>
<rect x="1136.25" y="880.26" width="15.11" height="20.46" fill="#b5b9d9"/>
<rect x="1151.06" y="880.26" width="15.11" height="20.46" fill="#c1c4df"/>
<rect x="1165.87" y="880.26" width="15.11" height="20.46" fill="#b5b9d9"/>
<rect x="1180.68" y="880.26" width="15.11" height="20.46" fill="#d5d8ea"/>
<rect x="1195.49" y="880.26" width="15.11" height="20.46" fill="#eaebf4"/>
<rect x="1210.3" y="880.26" width="15.11" height="20.46" fill="#ffffff"/>
<rect x="1225.11" y="880.26" width="15.11" height="20.46" fill="#c1c4df"/>
<rect x="1239.92" y="880.26" width="15.11" height="20.46" fill="#cbcee5"/>
<rect x="1254.73" y="880.26" width="15.11" height="20.46" fill="#f1acad"/>
<rect x="1269.54" y="880.26" width="15.11" height="20.46" fill="#fae2e2"/>
<rect x="1284.35" y="880.26" width="15.11" height="20.46" fill="#f5c5c5"/>
<rect x="1299.16" y="880.26" width="15.11" height="20.46" fill="#fae2e2"/>
<rect x="1313.97" y="880.26" width="15.11" height="20.46" fill="#cbcee5"/>
<rect x="1328.78" y="880.26" width="15.11" height="20.46" fill="#d5d8ea"/>
<rect x="1343.59" y="880.26" width="15.11" height="20.46" fill="#c1c4df"/>
<rect x="1358.4" y="880.26" width="15.11" height="20.46" fill="#cbcee5"/>
<rect x="1379.25" y="880.26" width="15.11" height="20.46" fill="#a8aed2"/>
<rect x="1394.06" y="880.26" width="15.11" height="20.46" fill="#d5d8ea"/>
<rect x="1408.87" y="880.26" width="15.11" height="20.46" fill="#b5b9d9"/>
<rect x="1423.68" y="880.26" width="15.11" height="20.46" fill="#a8aed2"/>
<rect x="1438.49" y="880.26" width="15.11" height="20.46" fill="#a8aed2"/>
<rect x="1453.3" y="880.26" width="15.11" height="20.46" fill="#e0e2ef"/>
<rect x="1468.11" y="880.26" width="15.11" height="20.46" fill="#b5b9d9"/>
<rect x="1482.92" y="880.26" width="15.11" height="20.46" fill="#a8aed2"/>
<rect x="1497.73" y="880.26" width="15.11" height="20.46" fill="#f3b8b9"/>
<rect x="1512.54" y="880.26" width="15.11" height="20.46" fill="#f3b8b9"/>
<rect x="1527.35" y="880.26" width="15.11" height="20.46" fill="#f3b8b9"/>
<rect x="1542.16" y="880.26" width="15.11" height="20.46" fill="#fcecec"/>
<rect x="1556.97" y="880.26" width="15.11" height="20.46" fill="#fdf5f5"/>
<rect x="1571.78" y="880.26" width="15.11" height="20.46" fill="#fae2e2"/>
<rect x="1586.59" y="880.26" width="15.11" height="20.46" fill="#fdf5f5"/>
<rect x="1601.4" y="880.26" width="15.11" height="20.46" fill="#fdf5f5"/>
<rect x="1136.25" y="900.42" width="15.11" height="20.46" fill="#e0e2ef"/>
<rect x="1151.06" y="900.42" width="15.11" height="20.46" fill="#d5d8ea"/>
<rect x="1165.87" y="900.42" width="15.11" height="20.46" fill="#ffffff"/>
<rect x="1180.68" y="900.42" width="15.11" height="20.46" fill="#e0e2ef"/>
<rect x="1195.49" y="900.42" width="15.11" height="20.46" fill="#b5b9d9"/>
<rect x="1210.3" y="900.42" width="15.11" height="20.46" fill="#9ca2cc"/>
<rect x="1225.11" y="900.42" width="15.11" height="20.46" fill="#9ca2cc"/>
<rect x="1239.92" y="900.42" width="15.11" height="20.46" fill="#8f96c5"/>
<rect x="1254.73" y="900.42" width="15.11" height="20.46" fill="#f3b8b9"/>
<rect x="1269.54" y="900.42" width="15.11" height="20.46" fill="#ef9fa2"/>
<rect x="1284.35" y="900.42" width="15.11" height="20.46" fill="#ef9fa2"/>
<rect x="1299.16" y="900.42" width="15.11" height="20.46" fill="#ed9396"/>
<rect x="1313.97" y="900.42" width="15.11" height="20.46" fill="#9ca2cc"/>
<rect x="1328.78" y="900.42" width="15.11" height="20.46" fill="#9ca2cc"/>
<rect x="1343.59" y="900.42" width="15.11" height="20.46" fill="#a8aed2"/>
<rect x="1358.4" y="900.42" width="15.11" height="20.46" fill="#b5b9d9"/>
<rect x="1379.25" y="900.42" width="15.11" height="20.46" fill="#e0e2ef"/>
<rect x="1394.06" y="900.42" width="15.11" height="20.46" fill="#ffffff"/>
<rect x="1408.87" y="900.42" width="15.11" height="20.46" fill="#f5f5fa"/>
<rect x="1423.68" y="900.42" width="15.11" height="20.46" fill="#eaebf4"/>
<rect x="1438.49" y="900.42" width="15.11" height="20.46" fill="#9ca2cc"/>
<rect x="1453.3" y="900.42" width="15.11" height="20.46" fill="#9ca2cc"/>
<rect x="1468.11" y="900.42" width="15.11" height="20.46" fill="#9ca2cc"/>
<rect x="1482.92" y="900.42" width="15.11" height="20.46" fill="#9ca2cc"/>
<rect x="1497.73" y="900.42" width="15.11" height="20.46" fill="#f7cfcf"/>
<rect x="1512.54" y="900.42" width="15.11" height="20.46" fill="#f9d9d9"/>
<rect x="1527.35" y="900.42" width="15.11" height="20.46" fill="#f1acad"/>
<rect x="1542.16" y="900.42" width="15.11" height="20.46" fill="#fae2e2"/>
<rect x="1556.97" y="900.42" width="15.11" height="20.46" fill="#ffffff"/>
<rect x="1571.78" y="900.42" width="15.11" height="20.46" fill="#d5d8ea"/>
<rect x="1586.59" y="900.42" width="15.11" height="20.46" fill="#f7cfcf"/>
<rect x="1601.4" y="900.42" width="15.11" height="20.46" fill="#e0e2ef"/>
<rect x="1136.25" y="920.58" width="15.11" height="20.46" fill="#e0e2ef"/>
<rect x="1151.06" y="920.58" width="15.11" height="20.46" fill="#eaebf4"/>
<rect x="1165.87" y="920.58" width="15.11" height="20.46" fill="#ffffff"/>
<rect x="1180.68" y="920.58" width="15.11" height="20.46" fill="#ffffff"/>
<rect x="1195.49" y="920.58" width="15.11" height="20.46" fill="#8f96c5"/>
<rect x="1210.3" y="920.58" width="15.11" height="20.46" fill="#838bbe"/>
<rect x="1225.11" y="920.58" width="15.11" height="20.46" fill="#838bbe"/>
<rect x="1239.92" y="920.58" width="15.11" height="20.46" fill="#838bbe"/>
<rect x="1254.73" y="920.58" width="15.11" height="20.46" fill="#f1acad"/>
<rect x="1269.54" y="920.58" width="15.11" height="20.46" fill="#ed9396"/>
<rect x="1284.35" y="920.58" width="15.11" height="20.46" fill="#f5c5c5"/>
<rect x="1299.16" y="920.58" width="15.11" height="20.46" fill="#eb868a"/>
<rect x="1313.97" y="920.58" width="15.11" height="20.46" fill="#9ca2cc"/>
<rect x="1328.78" y="920.58" width="15.11" height="20.46" fill="#b5b9d9"/>
<rect x="1343.59" y="920.58" width="15.11" height="20.46" fill="#8f96c5"/>
<rect x="1358.4" y="920.58" width="15.11" height="20.46" fill="#a8aed2"/>
<rect x="1379.25" y="920.58" width="15.11" height="20.46" fill="#eaebf4"/>
<rect x="1394.06" y="920.58" width="15.11" height="20.46" fill="#f5f5fa"/>
<rect x="1408.87" y="920.58" width="15.11" height="20.46" fill="#ffffff"/>
<rect x="1423.68" y="920.58" width="15.11" height="20.46" fill="#ffffff"/>
<rect x="1438.49" y="920.58" width="15.11" height="20.46" fill="#838bbe"/>
<rect x="1453.3" y="920.58" width="15.11" height="20.46" fill="#838bbe"/>
<rect x="1468.11" y="920.58" width="15.11" height="20.46" fill="#6a75b2"/>
<rect x="1482.92" y="920.58" width="15.11" height="20.46" fill="#767fb7"/>
<rect x="1497.73" y="920.58" width="15.11" height="20.46" fill="#f3b8b9"/>
<rect x="1512.54" y="920.58" width="15.11" height="20.46" fill="#f5c5c5"/>
<rect x="1527.35" y="920.58" width="15.11" height="20.46" fill="#f3b8b9"/>
<rect x="1542.16" y="920.58" width="15.11" height="20.46" fill="#f1acad"/>
<rect x="1556.97" y="920.58" width="15.11" height="20.46" fill="#f9d9d9"/>
<rect x="1571.78" y="920.58" width="15.11" height="20.46" fill="#e0e2ef"/>
<rect x="1586.59" y="920.58" width="15.11" height="20.46" fill="#f7cfcf"/>
<rect x="1601.4" y="920.58" width="15.11" height="20.46" fill="#eaebf4"/>
<rect x="1136.25" y="940.74" width="15.11" height="20.46" fill="#ffffff"/>
<rect x="1151.06" y="940.74" width="15.11" height="20.46" fill="#e0e2ef"/>
<rect x="1165.87" y="940.74" width="15.11" height="20.46" fill="#c1c4df"/>
<rect x="1180.68" y="940.74" width="15.11" height="20.46" fill="#ffffff"/>
<rect x="1195.49" y="940.74" width="15.11" height="20.46" fill="#b5b9d9"/>
<rect x="1210.3" y="940.74" width="15.11" height="20.46" fill="#767fb7"/>
<rect x="1225.11" y="940.74" width="15.11" height="20.46" fill="#5f6dad"/>
<rect x="1239.92" y="940.74" width="15.11" height="20.46" fill="#6a75b2"/>
<rect x="1254.73" y="940.74" width="15.11" height="20.46" fill="#eb868a"/>
<rect x="1269.54" y="940.74" width="15.11" height="20.46" fill="#ef9fa2"/>
<rect x="1284.35" y="940.74" width="15.11" height="20.46" fill="#eb868a"/>
<rect x="1299.16" y="940.74" width="15.11" height="20.46" fill="#ea7b80"/>
<rect x="1313.97" y="940.74" width="15.11" height="20.46" fill="#b5b9d9"/>
<rect x="1328.78" y="940.74" width="15.11" height="20.46" fill="#b5b9d9"/>
<rect x="1343.59" y="940.74" width="15.11" height="20.46" fill="#c1c4df"/>
<rect x="1358.4" y="940.74" width="15.11" height="20.46" fill="#9ca2cc"/>
<rect x="1379.25" y="940.74" width="15.11" height="20.46" fill="#a8aed2"/>
<rect x="1394.06" y="940.74" width="15.11" height="20.46" fill="#cbcee5"/>
<rect x="1408.87" y="940.74" width="15.11" height="20.46" fill="#b5b9d9"/>
<rect x="1423.68" y="940.74" width="15.11" height="20.46" fill="#cbcee5"/>
<rect x="1438.49" y="940.74" width="15.11" height="20.46" fill="#838bbe"/>
<rect x="1453.3" y="940.74" width="15.11" height="20.46" fill="#838bbe"/>
<rect x="1468.11" y="940.74" width="15.11" height="20.46" fill="#767fb7"/>
<rect x="1482.92" y="940.74" width="15.11" height="20.46" fill="#6a75b2"/>
<rect x="1497.73" y="940.74" width="15.11" height="20.46" fill="#f5c5c5"/>
<rect x="1512.54" y="940.74" width="15.11" height="20.46" fill="#f1acad"/>
<rect x="1527.35" y="940.74" width="15.11" height="20.46" fill="#f3b8b9"/>
<rect x="1542.16" y="940.74" width="15.11" height="20.46" fill="#f3b8b9"/>
<rect x="1556.97" y="940.74" width="15.11" height="20.46" fill="#f5c5c5"/>
<rect x="1571.78" y="940.74" width="15.11" height="20.46" fill="#fcecec"/>
<rect x="1586.59" y="940.74" width="15.11" height="20.46" fill="#f3b8b9"/>
<rect x="1601.4" y="940.74" width="15.11" height="20.46" fill="#eaebf4"/>
<rect x="1136.25" y="960.9" width="15.11" height="20.46" fill="#a8aed2"/>
<rect x="1151.06" y="960.9" width="15.11" height="20.46" fill="#a8aed2"/>
<rect x="1165.87" y="960.9" width="15.11" height="20.46" fill="#c1c4df"/>
<rect x="1180.68" y="960.9" width="15.11" height="20.46" fill="#cbcee5"/>
<rect x="1195.49" y="960.9" width="15.11" height="20.46" fill="#8f96c5"/>
<rect x="1210.3" y="960.9" width="15.11" height="20.46" fill="#8f96c5"/>
<rect x="1225.11" y="960.9" width="15.11" height="20.46" fill="#838bbe"/>
<rect x="1239.92" y="960.9" width="15.11" height="20.46" fill="#8f96c5"/>
<rect x="1254.73" y="960.9" width="15.11" height="20.46" fill="#f1acad"/>
<rect x="1269.54" y="960.9" width="15.11" height="20.46" fill="#ed9396"/>
<rect x="1284.35" y="960.9" width="15.11" height="20.46" fill="#ef9fa2"/>
<rect x="1299.16" y="960.9" width="15.11" height="20.46" fill="#ed9396"/>
<rect x="1313.97" y="960.9" width="15.11" height="20.46" fill="#c1c4df"/>
<rect x="1328.78" y="960.9" width="15.11" height="20.46" fill="#cbcee5"/>
<rect x="1343.59" y="960.9" width="15.11" height="20.46" fill="#cbcee5"/>
<rect x="1358.4" y="960.9" width="15.11" height="20.46" fill="#c1c4df"/>
<rect x="1379.25" y="960.9" width="15.11" height="20.46" fill="#b5b9d9"/>
<rect x="1394.06" y="960.9" width="15.11" height="20.46" fill="#c1c4df"/>
<rect x="1408.87" y="960.9" width="15.11" height="20.46" fill="#c1c4df"/>
<rect x="1423.68" y="960.9" width="15.11" height="20.46" fill="#a8aed2"/>
<rect x="1438.49" y="960.9" width="15.11" height="20.46" fill="#9ca2cc"/>
<rect x="1453.3" y="960.9" width="15.11" height="20.46" fill="#9ca2cc"/>
<rect x="1468.11" y="960.9" width="15.11" height="20.46" fill="#9ca2cc"/>
<rect x="1482.92" y="960.9" width="15.11" height="20.46" fill="#838bbe"/>
<rect x="1497.73" y="960.9" width="15.11" height="20.46" fill="#f3b8b9"/>
<rect x="1512.54" y="960.9" width="15.11" height="20.46" fill="#f3b8b9"/>
<rect x="1527.35" y="960.9" width="15.11" height="20.46" fill="#ef9fa2"/>
<rect x="1542.16" y="960.9" width="15.11" height="20.46" fill="#f3b8b9"/>
<rect x="1556.97" y="960.9" width="15.11" height="20.46" fill="#f7cfcf"/>
<rect x="1571.78" y="960.9" width="15.11" height="20.46" fill="#f9d9d9"/>
<rect x="1586.59" y="960.9" width="15.11" height="20.46" fill="#f9d9d9"/>
<rect x="1601.4" y="960.9" width="15.11" height="20.46" fill="#f9d9d9"/>
<rect x="1136.25" y="981.06" width="15.11" height="20.46" fill="#cbcee5"/>
<rect x="1151.06" y="981.06" width="15.11" height="20.46" fill="#c1c4df"/>
<rect x="1165.87" y="981.06" width="15.11" height="20.46" fill="#b5b9d9"/>
<rect x="1180.68" y="981.06" width="15.11" height="20.46" fill="#c1c4df"/>
<rect x="1195.49" y="981.06" width="15.11" height="20.46" fill="#838bbe"/>
<rect x="1210.3" y="981.06" width="15.11" height="20.46" fill="#6a75b2"/>
<rect x="1225.11" y="981.06" width="15.11" height="20.46" fill="#838bbe"/>
<rect x="1239.92" y="981.06" width="15.11" height="20.46" fill="#838bbe"/>
<rect x="1254.73" y="981.06" width="15.11" height="20.46" fill="#ef9fa2"/>
<rect x="1269.54" y="981.06" width="15.11" height="20.46" fill="#ef9fa2"/>
<rect x="1284.35" y="981.06" width="15.11" height="20.46" fill="#f5c5c5"/>
<rect x="1299.16" y="981.06" width="15.11" height="20.46" fill="#f1acad"/>
<rect x="1313.97" y="981.06" width="15.11" height="20.46" fill="#cbcee5"/>
<rect x="1328.78" y="981.06" width="15.11" height="20.46" fill="#d5d8ea"/>
<rect x="1343.59" y="981.06" width="15.11" height="20.46" fill="#e0e2ef"/>
<rect x="1358.4" y="981.06" width="15.11" height="20.46" fill="#cbcee5"/>
<rect x="1379.25" y="981.06" width="15.11" height="20.46" fill="#c1c4df"/>
<rect x="1394.06" y="981.06" width="15.11" height="20.46" fill="#c1c4df"/>
<rect x="1408.87" y="981.06" width="15.11" height="20.46" fill="#c1c4df"/>
<rect x="1423.68" y="981.06" width="15.11" height="20.46" fill="#d5d8ea"/>
<rect x="1438.49" y="981.06" width="15.11" height="20.46" fill="#8f96c5"/>
<rect x="1453.3" y="981.06" width="15.11" height="20.46" fill="#8f96c5"/>
<rect x="1468.11" y="981.06" width="15.11" height="20.46" fill="#8f96c5"/>
<rect x="1482.92" y="981.06" width="15.11" height="20.46" fill="#838bbe"/>
<rect x="1497.73" y="981.06" width="15.11" height="20.46" fill="#f3b8b9"/>
<rect x="1512.54" y="981.06" width="15.11" height="20.46" fill="#f3b8b9"/>
<rect x="1527.35" y="981.06" width="15.11" height="20.46" fill="#f1acad"/>
<rect x="1542.16" y="981.06" width="15.11" height="20.46" fill="#f5c5c5"/>
<rect x="1556.97" y="981.06" width="15.11" height="20.46" fill="#f3b8b9"/>
<rect x="1571.78" y="981.06" width="15.11" height="20.46" fill="#f5c5c5"/>
<rect x="1586.59" y="981.06" width="15.11" height="20.46" fill="#f3b8b9"/>
<rect x="1601.4" y="981.06" width="15.11" height="20.46" fill="#f7cfcf"/>
<rect x="1136.25" y="1001.22" width="15.11" height="20.46" fill="#a8aed2"/>
<rect x="1151.06" y="1001.22" width="15.11" height="20.46" fill="#9ca2cc"/>
<rect x="1165.87" y="1001.22" width="15.11" height="20.46" fill="#9ca2cc"/>
<rect x="1180.68" y="1001.22" width="15.11" height="20.46" fill="#9ca2cc"/>
<rect x="1195.49" y="1001.22" width="15.11" height="20.46" fill="#a8aed2"/>
<rect x="1210.3" y="1001.22" width="15.11" height="20.46" fill="#a8aed2"/>
<rect x="1225.11" y="1001.22" width="15.11" height="20.46" fill="#b5b9d9"/>
<rect x="1239.92" y="1001.22" width="15.11" height="20.46" fill="#a8aed2"/>
<rect x="1254.73" y="1001.22" width="15.11" height="20.46" fill="#ed9396"/>
<rect x="1269.54" y="1001.22" width="15.11" height="20.46" fill="#ef9fa2"/>
<rect x="1284.35" y="1001.22" width="15.11" height="20.46" fill="#eb868a"/>
<rect x="1299.16" y="1001.22" width="15.11" height="20.46" fill="#f1acad"/>
<rect x="1313.97" y="1001.22" width="15.11" height="20.46" fill="#9ca2cc"/>
<rect x="1328.78" y="1001.22" width="15.11" height="20.46" fill="#9ca2cc"/>
<rect x="1343.59" y="1001.22" width="15.11" height="20.46" fill="#8f96c5"/>
<rect x="1358.4" y="1001.22" width="15.11" height="20.46" fill="#b5b9d9"/>
<rect x="1379.25" y="1001.22" width="15.11" height="20.46" fill="#b5b9d9"/>
<rect x="1394.06" y="1001.22" width="15.11" height="20.46" fill="#9ca2cc"/>
<rect x="1408.87" y="1001.22" width="15.11" height="20.46" fill="#9ca2cc"/>
<rect x="1423.68" y="1001.22" width="15.11" height="20.46" fill="#a8aed2"/>
<rect x="1438.49" y="1001.22" width="15.11" height="20.46" fill="#a8aed2"/>
<rect x="1453.3" y="1001.22" width="15.11" height="20.46" fill="#a8aed2"/>
<rect x="1468.11" y="1001.22" width="15.11" height="20.46" fill="#a8aed2"/>
<rect x="1482.92" y="1001.22" width="15.11" height="20.46" fill="#a8aed2"/>
<rect x="1497.73" y="1001.22" width="15.11" height="20.46" fill="#f5c5c5"/>
<rect x="1512.54" y="1001.22" width="15.11" height="20.46" fill="#f3b8b9"/>
<rect x="1527.35" y="1001.22" width="15.11" height="20.46" fill="#f7cfcf"/>
<rect x="1542.16" y="1001.22" width="15.11" height="20.46" fill="#f3b8b9"/>
<rect x="1556.97" y="1001.22" width="15.11" height="20.46" fill="#fcecec"/>
<rect x="1571.78" y="1001.22" width="15.11" height="20.46" fill="#fdf5f5"/>
<rect x="1586.59" y="1001.22" width="15.11" height="20.46" fill="#f9d9d9"/>
<rect x="1601.4" y="1001.22" width="15.11" height="20.46" fill="#f7cfcf"/>
<rect x="1136.25" y="1021.38" width="15.11" height="20.46" fill="#838bbe"/>
<rect x="1151.06" y="1021.38" width="15.11" height="20.46" fill="#9ca2cc"/>
<rect x="1165.87" y="1021.38" width="15.11" height="20.46" fill="#a8aed2"/>
<rect x="1180.68" y="1021.38" width="15.11" height="20.46" fill="#838bbe"/>
<rect x="1195.49" y="1021.38" width="15.11" height="20.46" fill="#cbcee5"/>
<rect x="1210.3" y="1021.38" width="15.11" height="20.46" fill="#a8aed2"/>
<rect x="1225.11" y="1021.38" width="15.11" height="20.46" fill="#a8aed2"/>
<rect x="1239.92" y="1021.38" width="15.11" height="20.46" fill="#9ca2cc"/>
<rect x="1254.73" y="1021.38" width="15.11" height="20.46" fill="#eb868a"/>
<rect x="1269.54" y="1021.38" width="15.11" height="20.46" fill="#f3b8b9"/>
<rect x="1284.35" y="1021.38" width="15.11" height="20.46" fill="#ea7b80"/>
<rect x="1299.16" y="1021.38" width="15.11" height="20.46" fill="#f1acad"/>
<rect x="1313.97" y="1021.38" width="15.11" height="20.46" fill="#c1c4df"/>
<rect x="1328.78" y="1021.38" width="15.11" height="20.46" fill="#eaebf4"/>
<rect x="1343.59" y="1021.38" width="15.11" height="20.46" fill="#d5d8ea"/>
<rect x="1358.4" y="1021.38" width="15.11" height="20.46" fill="#cbcee5"/>
<rect x="1379.25" y="1021.38" width="15.11" height="20.46" fill="#838bbe"/>
<rect x="1394.06" y="1021.38" width="15.11" height="20.46" fill="#8f96c5"/>
<rect x="1408.87" y="1021.38" width="15.11" height="20.46" fill="#8f96c5"/>
<rect x="1423.68" y="1021.38" width="15.11" height="20.46" fill="#8f96c5"/>
<rect x="1438.49" y="1021.38" width="15.11" height="20.46" fill="#9ca2cc"/>
<rect x="1453.3" y="1021.38" width="15.11" height="20.46" fill="#9ca2cc"/>
<rect x="1468.11" y="1021.38" width="15.11" height="20.46" fill="#838bbe"/>
<rect x="1482.92" y="1021.38" width="15.11" height="20.46" fill="#8f96c5"/>
<rect x="1497.73" y="1021.38" width="15.11" height="20.46" fill="#ea7b80"/>
<rect x="1512.54" y="1021.38" width="15.11" height="20.46" fill="#f3b8b9"/>
<rect x="1527.35" y="1021.38" width="15.11" height="20.46" fill="#ed9396"/>
<rect x="1542.16" y="1021.38" width="15.11" height="20.46" fill="#f5c5c5"/>
<rect x="1556.97" y="1021.38" width="15.11" height="20.46" fill="#fae2e2"/>
<rect x="1571.78" y="1021.38" width="15.11" height="20.46" fill="#fdf5f5"/>
<rect x="1586.59" y="1021.38" width="15.11" height="20.46" fill="#f7cfcf"/>
<rect x="1601.4" y="1021.38" width="15.11" height="20.46" fill="#f9d9d9"/>
<rect x="1136.25" y="1041.54" width="15.11" height="20.46" fill="#838bbe"/>
<rect x="1151.06" y="1041.54" width="15.11" height="20.46" fill="#8f96c5"/>
<rect x="1165.87" y="1041.54" width="15.11" height="20.46" fill="#9ca2cc"/>
<rect x="1180.68" y="1041.54" width="15.11" height="20.46" fill="#838bbe"/>
<rect x="1195.49" y="1041.54" width="15.11" height="20.46" fill="#b5b9d9"/>
<rect x="1210.3" y="1041.54" width="15.11" height="20.46" fill="#9ca2cc"/>
<rect x="1225.11" y="1041.54" width="15.11" height="20.46" fill="#8f96c5"/>
<rect x="1239.92" y="1041.54" width="15.11" height="20.46" fill="#9ca2cc"/>
<rect x="1254.73" y="1041.54" width="15.11" height="20.46" fill="#ef9fa2"/>
<rect x="1269.54" y="1041.54" width="15.11" height="20.46" fill="#ef9fa2"/>
<rect x="1284.35" y="1041.54" width="15.11" height="20.46" fill="#ef9fa2"/>
<rect x="1299.16" y="1041.54" width="15.11" height="20.46" fill="#f3b8b9"/>
<rect x="1313.97" y="1041.54" width="15.11" height="20.46" fill="#cbcee5"/>
<rect x="1328.78" y="1041.54" width="15.11" height="20.46" fill="#d5d8ea"/>
<rect x="1343.59" y="1041.54" width="15.11" height="20.46" fill="#d5d8ea"/>
<rect x="1358.4" y="1041.54" width="15.11" height="20.46" fill="#b5b9d9"/>
<rect x="1379.25" y="1041.54" width="15.11" height="20.46" fill="#767fb7"/>
<rect x="1394.06" y="1041.54" width="15.11" height="20.46" fill="#8f96c5"/>
<rect x="1408.87" y="1041.54" width="15.11" height="20.46" fill="#767fb7"/>
<rect x="1423.68" y="1041.54" width="15.11" height="20.46" fill="#9ca2cc"/>
<rect x="1438.49" y="1041.54" width="15.11" height="20.46" fill="#9ca2cc"/>
<rect x="1453.3" y="1041.54" width="15.11" height="20.46" fill="#b5b9d9"/>
<rect x="1468.11" y="1041.54" width="15.11" height="20.46" fill="#838bbe"/>
<rect x="1482.92" y="1041.54" width="15.11" height="20.46" fill="#8f96c5"/>
<rect x="1497.73" y="1041.54" width="15.11" height="20.46" fill="#f1acad"/>
<rect x="1512.54" y="1041.54" width="15.11" height="20.46" fill="#f3b8b9"/>
<rect x="1527.35" y="1041.54" width="15.11" height="20.46" fill="#f1acad"/>
<rect x="1542.16" y="1041.54" width="15.11" height="20.46" fill="#f9d9d9"/>
<rect x="1556.97" y="1041.54" width="15.11" height="20.46" fill="#f3b8b9"/>
<rect x="1571.78" y="1041.54" width="15.11" height="20.46" fill="#f5c5c5"/>
<rect x="1586.59" y="1041.54" width="15.11" height="20.46" fill="#ef9fa2"/>
<rect x="1601.4" y="1041.54" width="15.11" height="20.46" fill="#f9d9d9"/>
<rect x="1136.25" y="1061.7" width="15.11" height="20.46" fill="#8f96c5"/>
<rect x="1151.06" y="1061.7" width="15.11" height="20.46" fill="#8f96c5"/>
<rect x="1165.87" y="1061.7" width="15.11" height="20.46" fill="#8f96c5"/>
<rect x="1180.68" y="1061.7" width="15.11" height="20.46" fill="#8f96c5"/>
<rect x="1195.49" y="1061.7" width="15.11" height="20.46" fill="#767fb7"/>
<rect x="1210.3" y="1061.7" width="15.11" height="20.46" fill="#6a75b2"/>
<rect x="1225.11" y="1061.7" width="15.11" height="20.46" fill="#6a75b2"/>
<rect x="1239.92" y="1061.7" width="15.11" height="20.46" fill="#6a75b2"/>
<rect x="1254.73" y="1061.7" width="15.11" height="20.46" fill="#ed9396"/>
<rect x="1269.54" y="1061.7" width="15.11" height="20.46" fill="#eb868a"/>
<rect x="1284.35" y="1061.7" width="15.11" height="20.46" fill="#eb868a"/>
<rect x="1299.16" y="1061.7" width="15.11" height="20.46" fill="#ea7b80"/>
<rect x="1313.97" y="1061.7" width="15.11" height="20.46" fill="#e0e2ef"/>
<rect x="1328.78" y="1061.7" width="15.11" height="20.46" fill="#e0e2ef"/>
<rect x="1343.59" y="1061.7" width="15.11" height="20.46" fill="#d5d8ea"/>
<rect x="1358.4" y="1061.7" width="15.11" height="20.46" fill="#e0e2ef"/>
<rect x="1379.25" y="1061.7" width="15.11" height="20.46" fill="#8f96c5"/>
<rect x="1394.06" y="1061.7" width="15.11" height="20.46" fill="#9ca2cc"/>
<rect x="1408.87" y="1061.7" width="15.11" height="20.46" fill="#8f96c5"/>
<rect x="1423.68" y="1061.7" width="15.11" height="20.46" fill="#8f96c5"/>
<rect x="1438.49" y="1061.7" width="15.11" height="20.46" fill="#838bbe"/>
<rect x="1453.3" y="1061.7" width="15.11" height="20.46" fill="#6a75b2"/>
<rect x="1468.11" y="1061.7" width="15.11" height="20.46" fill="#6a75b2"/>
<rect x="1482.92" y="1061.7" width="15.11" height="20.46" fill="#6a75b2"/>
<rect x="1497.73" y="1061.7" width="15.11" height="20.46" fill="#ef9fa2"/>
<rect x="1512.54" y="1061.7" width="15.11" height="20.46" fill="#ef9fa2"/>
<rect x="1527.35" y="1061.7" width="15.11" height="20.46" fill="#eb868a"/>
<rect x="1542.16" y="1061.7" width="15.11" height="20.46" fill="#eb868a"/>
<rect x="1556.97" y="1061.7" width="15.11" height="20.46" fill="#f3b8b9"/>
<rect x="1571.78" y="1061.7" width="15.11" height="20.46" fill="#f3b8b9"/>
<rect x="1586.59" y="1061.7" width="15.11" height="20.46" fill="#f5c5c5"/>
<rect x="1601.4" y="1061.7" width="15.11" height="20.46" fill="#f7cfcf"/>
<rect x="1136.25" y="1081.86" width="15.11" height="20.46" fill="#8f96c5"/>
<rect x="1151.06" y="1081.86" width="15.11" height="20.46" fill="#9ca2cc"/>
<rect x="1165.87" y="1081.86" width="15.11" height="20.46" fill="#b5b9d9"/>
<rect x="1180.68" y="1081.86" width="15.11" height="20.46" fill="#a8aed2"/>
<rect x="1195.49" y="1081.86" width="15.11" height="20.46" fill="#8f96c5"/>
<rect x="1210.3" y="1081.86" width="15.11" height="20.46" fill="#6a75b2"/>
<rect x="1225.11" y="1081.86" width="15.11" height="20.46" fill="#767fb7"/>
<rect x="1239.92" y="1081.86" width="15.11" height="20.46" fill="#8f96c5"/>
<rect x="1254.73" y="1081.86" width="15.11" height="20.46" fill="#ea7b80"/>
<rect x="1269.54" y="1081.86" width="15.11" height="20.46" fill="#ea7277"/>
<rect x="1284.35" y="1081.86" width="15.11" height="20.46" fill="#ea696e"/>
<rect x="1299.16" y="1081.86" width="15.11" height="20.46" fill="#eb868a"/>
<rect x="1313.97" y="1081.86" width="15.11" height="20.46" fill="#cbcee5"/>
<rect x="1328.78" y="1081.86" width="15.11" height="20.46" fill="#d5d8ea"/>
<rect x="1343.59" y="1081.86" width="15.11" height="20.46" fill="#cbcee5"/>
<rect x="1358.4" y="1081.86" width="15.11" height="20.46" fill="#cbcee5"/>
<rect x="1379.25" y="1081.86" width="15.11" height="20.46" fill="#8f96c5"/>
<rect x="1394.06" y="1081.86" width="15.11" height="20.46" fill="#cbcee5"/>
<rect x="1408.87" y="1081.86" width="15.11" height="20.46" fill="#9ca2cc"/>
<rect x="1423.68" y="1081.86" width="15.11" height="20.46" fill="#a8aed2"/>
<rect x="1438.49" y="1081.86" width="15.11" height="20.46" fill="#8f96c5"/>
<rect x="1453.3" y="1081.86" width="15.11" height="20.46" fill="#9ca2cc"/>
<rect x="1468.11" y="1081.86" width="15.11" height="20.46" fill="#838bbe"/>
<rect x="1482.92" y="1081.86" width="15.11" height="20.46" fill="#838bbe"/>
<rect x="1497.73" y="1081.86" width="15.11" height="20.46" fill="#f1acad"/>
<rect x="1512.54" y="1081.86" width="15.11" height="20.46" fill="#f1acad"/>
<rect x="1527.35" y="1081.86" width="15.11" height="20.46" fill="#ef9fa2"/>
<rect x="1542.16" y="1081.86" width="15.11" height="20.46" fill="#ef9fa2"/>
<rect x="1556.97" y="1081.86" width="15.11" height="20.46" fill="#f5c5c5"/>
<rect x="1571.78" y="1081.86" width="15.11" height="20.46" fill="#f7cfcf"/>
<rect x="1586.59" y="1081.86" width="15.11" height="20.46" fill="#f3b8b9"/>
<rect x="1601.4" y="1081.86" width="15.11" height="20.46" fill="#fae2e2"/>
<rect x="1136.25" y="1102.02" width="15.11" height="20.46" fill="#8f96c5"/>
<rect x="1151.06" y="1102.02" width="15.11" height="20.46" fill="#9ca2cc"/>
<rect x="1165.87" y="1102.02" width="15.11" height="20.46" fill="#9ca2cc"/>
<rect x="1180.68" y="1102.02" width="15.11" height="20.46" fill="#a8aed2"/>
<rect x="1195.49" y="1102.02" width="15.11" height="20.46" fill="#a8aed2"/>
<rect x="1210.3" y="1102.02" width="15.11" height="20.46" fill="#9ca2cc"/>
<rect x="1225.11" y="1102.02" width="15.11" height="20.46" fill="#a8aed2"/>
<rect x="1239.92" y="1102.02" width="15.11" height="20.46" fill="#9ca2cc"/>
<rect x="1254.73" y="1102.02" width="15.11" height="20.46" fill="#eb868a"/>
<rect x="1269.54" y="1102.02" width="15.11" height="20.46" fill="#ea7b80"/>
<rect x="1284.35" y="1102.02" width="15.11" height="20.46" fill="#ea7277"/>
<rect x="1299.16" y="1102.02" width="15.11" height="20.46" fill="#eb868a"/>
<rect x="1313.97" y="1102.02" width="15.11" height="20.46" fill="#c1c4df"/>
<rect x="1328.78" y="1102.02" width="15.11" height="20.46" fill="#c1c4df"/>
<rect x="1343.59" y="1102.02" width="15.11" height="20.46" fill="#cbcee5"/>
<rect x="1358.4" y="1102.02" width="15.11" height="20.46" fill="#e0e2ef"/>
<rect x="1379.25" y="1102.02" width="15.11" height="20.46" fill="#8f96c5"/>
<rect x="1394.06" y="1102.02" width="15.11" height="20.46" fill="#838bbe"/>
<rect x="1408.87" y="1102.02" width="15.11" height="20.46" fill="#8f96c5"/>
<rect x="1423.68" y="1102.02" width="15.11" height="20.46" fill="#8f96c5"/>
<rect x="1438.49" y="1102.02" width="15.11" height="20.46" fill="#9ca2cc"/>
<rect x="1453.3" y="1102.02" width="15.11" height="20.46" fill="#9ca2cc"/>
<rect x="1468.11" y="1102.02" width="15.11" height="20.46" fill="#a8aed2"/>
<rect x="1482.92" y="1102.02" width="15.11" height="20.46" fill="#9ca2cc"/>
<rect x="1497.73" y="1102.02" width="15.11" height="20.46" fill="#f3b8b9"/>
<rect x="1512.54" y="1102.02" width="15.11" height="20.46" fill="#f3b8b9"/>
<rect x="1527.35" y="1102.02" width="15.11" height="20.46" fill="#f7cfcf"/>
<rect x="1542.16" y="1102.02" width="15.11" height="20.46" fill="#f1acad"/>
<rect x="1556.97" y="1102.02" width="15.11" height="20.46" fill="#fcecec"/>
<rect x="1571.78" y="1102.02" width="15.11" height="20.46" fill="#fae2e2"/>
<rect x="1586.59" y="1102.02" width="15.11" height="20.46" fill="#f9d9d9"/>
<rect x="1601.4" y="1102.02" width="15.11" height="20.46" fill="#f5c5c5"/>
<rect x="1136.25" y="1122.18" width="15.11" height="20.46" fill="#8f96c5"/>
<rect x="1151.06" y="1122.18" width="15.11" height="20.46" fill="#a8aed2"/>
<rect x="1165.87" y="1122.18" width="15.11" height="20.46" fill="#9ca2cc"/>
<rect x="1180.68" y="1122.18" width="15.11" height="20.46" fill="#9ca2cc"/>
<rect x="1195.49" y="1122.18" width="15.11" height="20.46" fill="#8f96c5"/>
<rect x="1210.3" y="1122.18" width="15.11" height="20.46" fill="#9ca2cc"/>
<rect x="1225.11" y="1122.18" width="15.11" height="20.46" fill="#9ca2cc"/>
<rect x="1239.92" y="1122.18" width="15.11" height="20.46" fill="#8f96c5"/>
<rect x="1254.73" y="1122.18" width="15.11" height="20.46" fill="#eb868a"/>
<rect x="1269.54" y="1122.18" width="15.11" height="20.46" fill="#ea7277"/>
<rect x="1284.35" y="1122.18" width="15.11" height="20.46" fill="#ea7277"/>
<rect x="1299.16" y="1122.18" width="15.11" height="20.46" fill="#eb868a"/>
<rect x="1313.97" y="1122.18" width="15.11" height="20.46" fill="#c1c4df"/>
<rect x="1328.78" y="1122.18" width="15.11" height="20.46" fill="#c1c4df"/>
<rect x="1343.59" y="1122.18" width="15.11" height="20.46" fill="#c1c4df"/>
<rect x="1358.4" y="1122.18" width="15.11" height="20.46" fill="#cbcee5"/>
<rect x="1379.25" y="1122.18" width="15.11" height="20.46" fill="#838bbe"/>
<rect x="1394.06" y="1122.18" width="15.11" height="20.46" fill="#8f96c5"/>
<rect x="1408.87" y="1122.18" width="15.11" height="20.46" fill="#838bbe"/>
<rect x="1423.68" y="1122.18" width="15.11" height="20.46" fill="#8f96c5"/>
<rect x="1438.49" y="1122.18" width="15.11" height="20.46" fill="#8f96c5"/>
<rect x="1453.3" y="1122.18" width="15.11" height="20.46" fill="#8f96c5"/>
<rect x="1468.11" y="1122.18" width="15.11" height="20.46" fill="#8f96c5"/>
<rect x="1482.92" y="1122.18" width="15.11" height="20.46" fill="#8f96c5"/>
<rect x="1497.73" y="1122.18" width="15.11" height="20.46" fill="#f1acad"/>
<rect x="1512.54" y="1122.18" width="15.11" height="20.46" fill="#f1acad"/>
<rect x="1527.35" y="1122.18" width="15.11" height="20.46" fill="#ef9fa2"/>
<rect x="1542.16" y="1122.18" width="15.11" height="20.46" fill="#ef9fa2"/>
<rect x="1556.97" y="1122.18" width="15.11" height="20.46" fill="#f3b8b9"/>
<rect x="1571.78" y="1122.18" width="15.11" height="20.46" fill="#f3b8b9"/>
<rect x="1586.59" y="1122.18" width="15.11" height="20.46" fill="#f5c5c5"/>
<rect x="1601.4" y="1122.18" width="15.11" height="20.46" fill="#f3b8b9"/>
<rect x="1136.25" y="1142.34" width="15.11" height="20.46" fill="#838bbe"/>
<rect x="1151.06" y="1142.34" width="15.11" height="20.46" fill="#8f96c5"/>
<rect x="1165.87" y="1142.34" width="15.11" height="20.46" fill="#838bbe"/>
<rect x="1180.68" y="1142.34" width="15.11" height="20.46" fill="#838bbe"/>
<rect x="1195.49" y="1142.34" width="15.11" height="20.46" fill="#9ca2cc"/>
<rect x="1210.3" y="1142.34" width="15.11" height="20.46" fill="#9ca2cc"/>
<rect x="1225.11" y="1142.34" width="15.11" height="20.46" fill="#9ca2cc"/>
<rect x="1239.92" y="1142.34" width="15.11" height="20.46" fill="#9ca2cc"/>
<rect x="1254.73" y="1142.34" width="15.11" height="20.46" fill="#ea7277"/>
<rect x="1269.54" y="1142.34" width="15.11" height="20.46" fill="#ea696e"/>
<rect x="1284.35" y="1142.34" width="15.11" height="20.46" fill="#ea7277"/>
<rect x="1299.16" y="1142.34" width="15.11" height="20.46" fill="#ea7b80"/>
<rect x="1313.97" y="1142.34" width="15.11" height="20.46" fill="#cbcee5"/>
<rect x="1328.78" y="1142.34" width="15.11" height="20.46" fill="#e0e2ef"/>
<rect x="1343.59" y="1142.34" width="15.11" height="20.46" fill="#d5d8ea"/>
<rect x="1358.4" y="1142.34" width="15.11" height="20.46" fill="#eaebf4"/>
<rect x="1379.25" y="1142.34" width="15.11" height="20.46" fill="#767fb7"/>
<rect x="1394.06" y="1142.34" width="15.11" height="20.46" fill="#8f96c5"/>
<rect x="1408.87" y="1142.34" width="15.11" height="20.46" fill="#838bbe"/>
<rect x="1423.68" y="1142.34" width="15.11" height="20.46" fill="#767fb7"/>
<rect x="1438.49" y="1142.34" width="15.11" height="20.46" fill="#9ca2cc"/>
<rect x="1453.3" y="1142.34" width="15.11" height="20.46" fill="#9ca2cc"/>
<rect x="1468.11" y="1142.34" width="15.11" height="20.46" fill="#9ca2cc"/>
<rect x="1482.92" y="1142.34" width="15.11" height="20.46" fill="#8f96c5"/>
<rect x="1497.73" y="1142.34" width="15.11" height="20.46" fill="#f1acad"/>
<rect x="1512.54" y="1142.34" width="15.11" height="20.46" fill="#f3b8b9"/>
<rect x="1527.35" y="1142.34" width="15.11" height="20.46" fill="#ed9396"/>
<rect x="1542.16" y="1142.34" width="15.11" height="20.46" fill="#ed9396"/>
<rect x="1556.97" y="1142.34" width="15.11" height="20.46" fill="#f5c5c5"/>
<rect x="1571.78" y="1142.34" width="15.11" height="20.46" fill="#fae2e2"/>
<rect x="1586.59" y="1142.34" width="15.11" height="20.46" fill="#f9d9d9"/>
<rect x="1601.4" y="1142.34" width="15.11" height="20.46" fill="#f3b8b9"/>
</g>
<rect x="1373.21" y="153.5" width="6.04" height="1010" fill="#fff"/>
<rect x="1616.21" y="153.5" width="3" height="1010" fill="#fff"/>
<rect x="1134.25" y="1162.5" width="500" height="2" fill="#fff"/>
<text font-size="19" font-style="italic" transform="translate(1624,170.58) scale(0.92,1)">E2f4</text>
<text font-size="19" font-style="italic" transform="translate(1624,190.74) scale(0.92,1)">Myc</text>
<text font-size="19" font-style="italic" transform="translate(1624,210.9) scale(0.92,1)">Hif1a</text>
<text font-size="19" font-style="italic" transform="translate(1624,231.06) scale(0.92,1)">Nfkb1</text>
<text font-size="19" font-style="italic" transform="translate(1624,251.22) scale(0.92,1)">Irf9</text>
<text font-size="19" font-style="italic" transform="translate(1624,271.38) scale(0.92,1)">Stat2</text>
<text font-size="19" font-style="italic" transform="translate(1624,291.54) scale(0.92,1)">Stat1</text>
<text font-size="19" font-style="italic" transform="translate(1624,311.7) scale(0.92,1)">Irf1</text>
<text font-size="19" font-style="italic" transform="translate(1624,331.86) scale(0.92,1)">Spi1</text>
<text font-size="19" font-style="italic" transform="translate(1624,352.02) scale(0.92,1)">Rel</text>
<text font-size="19" font-style="italic" transform="translate(1624,372.18) scale(0.92,1)">Epas1</text>
<text font-size="19" font-style="italic" transform="translate(1624,392.34) scale(0.92,1)">Foxl2</text>
<text font-size="19" font-style="italic" transform="translate(1624,412.5) scale(0.92,1)">Fos</text>
<text font-size="19" font-style="italic" transform="translate(1624,432.66) scale(0.92,1)">Jun</text>
<text font-size="19" font-style="italic" transform="translate(1624,452.82) scale(0.92,1)">Rela</text>
<text font-size="19" font-style="italic" transform="translate(1624,472.98) scale(0.92,1)">Srebf1</text>
<text font-size="19" font-style="italic" transform="translate(1624,493.14) scale(0.92,1)">Srebf2</text>
<text font-size="19" font-style="italic" transform="translate(1624,513.3) scale(0.92,1)">Zfp263</text>
<text font-size="19" font-style="italic" transform="translate(1624,533.46) scale(0.92,1)">Atf6</text>
<text font-size="19" font-style="italic" transform="translate(1624,553.62) scale(0.92,1)">Nr3c1</text>
<text font-size="19" font-style="italic" transform="translate(1624,573.78) scale(0.92,1)">Foxo3</text>
<text font-size="19" font-style="italic" transform="translate(1624,593.94) scale(0.92,1)">Gata3</text>
<text font-size="19" font-style="italic" transform="translate(1624,614.1) scale(0.92,1)">Atf1</text>
<text font-size="19" font-style="italic" transform="translate(1624,634.26) scale(0.92,1)">Sp3</text>
<text font-size="19" font-style="italic" transform="translate(1624,654.42) scale(0.92,1)">Egr1</text>
<text font-size="19" font-style="italic" transform="translate(1624,674.58) scale(0.92,1)">Nfya</text>
<text font-size="19" font-style="italic" transform="translate(1624,694.74) scale(0.92,1)">Tcf7l2</text>
<text font-size="19" font-style="italic" transform="translate(1624,714.9) scale(0.92,1)">Esr1</text>
<text font-size="19" font-style="italic" transform="translate(1624,735.06) scale(0.92,1)">Prdm14</text>
<text font-size="19" font-style="italic" transform="translate(1624,755.22) scale(0.92,1)">Vdr</text>
<text font-size="19" font-style="italic" transform="translate(1624,775.38) scale(0.92,1)">Elk1</text>
<text font-size="19" font-style="italic" transform="translate(1624,795.54) scale(0.92,1)">Klf4</text>
<text font-size="19" font-style="italic" transform="translate(1624,815.7) scale(0.92,1)">Creb1</text>
<text font-size="19" font-style="italic" transform="translate(1624,835.86) scale(0.92,1)">Etv4</text>
<text font-size="19" font-style="italic" transform="translate(1624,856.02) scale(0.92,1)">Trp63</text>
<text font-size="19" font-style="italic" transform="translate(1624,876.18) scale(0.92,1)">Rxra</text>
<text font-size="19" font-style="italic" transform="translate(1624,896.34) scale(0.92,1)">Smad4</text>
<text font-size="19" font-style="italic" transform="translate(1624,916.5) scale(0.92,1)">Erg</text>
<text font-size="19" font-style="italic" transform="translate(1624,936.66) scale(0.92,1)">Ets1</text>
<text font-size="19" font-style="italic" transform="translate(1624,956.82) scale(0.92,1)">Sp1</text>
<text font-size="19" font-style="italic" transform="translate(1624,976.98) scale(0.92,1)">Ets2</text>
<text font-size="19" font-style="italic" transform="translate(1624,997.14) scale(0.92,1)">Pax6</text>
<text font-size="19" font-style="italic" transform="translate(1624,1017.3) scale(0.92,1)">Fosl2</text>
<text font-size="19" font-style="italic" transform="translate(1624,1037.46) scale(0.92,1)">Smad3</text>
<text font-size="19" font-style="italic" transform="translate(1624,1057.62) scale(0.92,1)">Trp53</text>
<text font-size="19" font-style="italic" transform="translate(1624,1077.78) scale(0.92,1)">Nfe2l2</text>
<text font-size="19" font-style="italic" transform="translate(1624,1097.94) scale(0.92,1)">Stat3</text>
<text font-size="19" font-style="italic" transform="translate(1624,1118.1) scale(0.92,1)">Jund</text>
<text font-size="19" font-style="italic" transform="translate(1624,1138.26) scale(0.92,1)">Atf4</text>
<text font-size="19" font-style="italic" transform="translate(1624,1158.42) scale(0.92,1)">Fosl1</text>
<path d="M1134.6 164.58H1103.8V184.74H1134.6M1134.6 204.9H1123.4V225.06H1134.6M1134.6 245.22H1124.2V265.38H1134.6M1134.6 305.7H1125.8V325.86H1134.6M1134.6 285.54H1119.6V315.78H1125.8M1124.2 255.3H1114.4V300.66H1119.6M1134.6 366.18H1125.8V386.34H1134.6M1134.6 346.02H1121.7V376.26H1125.8M1134.6 426.66H1124.2V446.82H1134.6M1134.6 406.5H1119.3V436.74H1124.2M1121.7 361.14H1114.4V421.62H1119.3M1114.4 277.98H1100.9V391.38H1114.4M1123.4 214.98H1098.9V334.68H1100.9M1134.6 466.98H1117.7V487.14H1134.6M1134.6 527.46H1120.1V547.62H1134.6M1134.6 507.3H1115.2V537.54H1120.1M1117.7 477.06H1099.8V522.42H1115.2M1134.6 567.78H1121.7V587.94H1134.6M1134.6 608.1H1124.2V628.26H1134.6M1134.6 668.58H1126.6V688.74H1134.6M1134.6 648.42H1122.2V678.66H1126.6M1124.2 618.18H1119.3V663.54H1122.2M1121.7 577.86H1114.4V640.86H1119.3M1134.6 708.9H1124.2V729.06H1134.6M1134.6 769.38H1126.6V789.54H1134.6M1134.6 749.22H1124.2V779.46H1126.6M1134.6 829.86H1125.5V850.02H1134.6M1134.6 809.7H1123.4V839.94H1125.5M1134.6 870.18H1121.7V890.34H1134.6M1123.4 824.82H1120.1V880.26H1121.7M1124.2 764.34H1118.2V852.54H1120.1M1124.2 718.98H1116V808.44H1118.2M1134.6 910.5H1125.8V930.66H1134.6M1134.6 970.98H1127.1V991.14H1134.6M1134.6 950.82H1122.5V981.06H1127.1M1125.8 920.58H1120.1V965.94H1122.5M1134.6 1031.46H1126.4V1051.62H1134.6M1134.6 1011.3H1123V1041.54H1126.4M1134.6 1071.78H1126.2V1091.94H1134.6M1134.6 1132.26H1126.6V1152.42H1134.6M1134.6 1112.1H1124.4V1142.34H1126.6M1126.2 1081.86H1122.4V1127.22H1124.4M1123 1026.42H1117V1104.54H1122.4M1120.1 943.26H1110.3V1065.48H1117M1116 763.71H1107.9V1004.37H1110.3M1114.4 609.36H1094.9V884.04H1107.9M1099.8 499.74H1084.3V746.7H1094.9M1098.9 274.83H1062.6V623.22H1084.3M1103.8 174.66H1030.1V449.03H1062.6" fill="none" stroke="#000" stroke-width="2.7" stroke-linejoin="miter"/>
<rect x="1722.7" y="124.3" width="13" height="13" fill="#000" stroke="#1a1a1a" stroke-width="2.6"/>
<text x="1758.6" y="138.8" font-size="25.7" textLength="40" lengthAdjust="spacingAndGlyphs">Ctrl</text>
<rect x="1722.7" y="153.6" width="13" height="13" fill="#e5bf6b" stroke="#1a1a1a" stroke-width="2.6"/>
<text x="1758.6" y="166.4" font-size="25.7" textLength="38.5" lengthAdjust="spacingAndGlyphs">GC</text>
<rect x="1722.7" y="182.5" width="13" height="13" fill="#0f6e8c" stroke="#1a1a1a" stroke-width="2.6"/>
<text x="1758.6" y="195.1" font-size="25.7" textLength="49" lengthAdjust="spacingAndGlyphs">LPS</text>
<rect x="1722.7" y="211.6" width="13" height="13" fill="#1d9a74" stroke="#1a1a1a" stroke-width="2.6"/>
<text x="1758.6" y="223.7" font-size="25.7" textLength="120.5" lengthAdjust="spacingAndGlyphs">GC + LPS</text>
<defs><linearGradient id="cb" x1="0" y1="0" x2="0" y2="1">
<stop offset="0.0414" stop-color="#ed2027"/>
<stop offset="0.1569" stop-color="#eb4c52"/>
<stop offset="0.2725" stop-color="#ea8084"/>
<stop offset="0.3881" stop-color="#f6c8c8"/>
<stop offset="0.5037" stop-color="#ffffff"/>
<stop offset="0.6193" stop-color="#bec2de"/>
<stop offset="0.7349" stop-color="#7079b4"/>
<stop offset="0.8505" stop-color="#2b4596"/>
<stop offset="0.9661" stop-color="#2f3e82"/>
</linearGradient></defs>
<rect x="1710" y="973.4" width="37.6" height="188.6" fill="url(#cb)"/>
<line x1="1710" y1="981.2" x2="1719" y2="981.2" stroke="#fff" stroke-width="2.2"/>
<line x1="1738.6" y1="981.2" x2="1747.6" y2="981.2" stroke="#fff" stroke-width="2.2"/>
<text x="1794.5" y="991.7" font-size="24.3" text-anchor="end">10</text>
<line x1="1710" y1="1024.8" x2="1719" y2="1024.8" stroke="#fff" stroke-width="2.2"/>
<line x1="1738.6" y1="1024.8" x2="1747.6" y2="1024.8" stroke="#fff" stroke-width="2.2"/>
<text x="1794.5" y="1035.3" font-size="24.3" text-anchor="end">5</text>
<line x1="1710" y1="1068.4" x2="1719" y2="1068.4" stroke="#fff" stroke-width="2.2"/>
<line x1="1738.6" y1="1068.4" x2="1747.6" y2="1068.4" stroke="#fff" stroke-width="2.2"/>
<text x="1794.5" y="1078.9" font-size="24.3" text-anchor="end">0</text>
<line x1="1710" y1="1112" x2="1719" y2="1112" stroke="#fff" stroke-width="2.2"/>
<line x1="1738.6" y1="1112" x2="1747.6" y2="1112" stroke="#fff" stroke-width="2.2"/>
<text x="1794.5" y="1122.5" font-size="24.3" text-anchor="end">-5</text>
<line x1="1710" y1="1155.6" x2="1719" y2="1155.6" stroke="#fff" stroke-width="2.2"/>
<line x1="1738.6" y1="1155.6" x2="1747.6" y2="1155.6" stroke="#fff" stroke-width="2.2"/>
<text x="1794.5" y="1166.1" font-size="24.3" text-anchor="end">-10</text>
<text x="1712" y="915.3" font-size="23.6" textLength="97" lengthAdjust="spacingAndGlyphs">Relative</text>
<text x="1712" y="948.4" font-size="23.6" textLength="122.4" lengthAdjust="spacingAndGlyphs">TF activity</text>
<text x="0" y="1297" font-size="40" font-weight="bold" fill="#1a1a1a">d</text>
<rect x="243" y="1318" width="118.75" height="347.5" fill="#e0e0e0"/>
<rect x="191.2" y="1530" width="12.6" height="15" fill="#e8763c" stroke="#000" stroke-width="2.3"/>
<rect x="215.7" y="1541" width="12.6" height="4" fill="#a01920" stroke="#000" stroke-width="2.3"/>
<rect x="309.2" y="1468.25" width="12.6" height="76.75" fill="#e8763c" stroke="#000" stroke-width="2.3"/>
<rect x="334.95" y="1505" width="12.6" height="40" fill="#a01920" stroke="#000" stroke-width="2.3"/>
<line x1="315.5" y1="1450" x2="315.5" y2="1468" stroke="#000" stroke-width="2.4"/>
<line x1="309.5" y1="1450" x2="321.5" y2="1450" stroke="#000" stroke-width="2.4"/>
<line x1="129.5" y1="1316.8" x2="129.5" y2="1546.2" stroke="#000" stroke-width="2.4"/>
<line x1="120.5" y1="1545" x2="358.75" y2="1545" stroke="#000" stroke-width="2.6"/>
<line x1="120.5" y1="1318" x2="129.5" y2="1318" stroke="#000" stroke-width="2.4"/>
<text x="115.5" y="1326.3" font-size="23" text-anchor="end">1.5</text>
<line x1="120.5" y1="1393.75" x2="129.5" y2="1393.75" stroke="#000" stroke-width="2.4"/>
<text x="115.5" y="1402.05" font-size="23" text-anchor="end">1.0</text>
<line x1="120.5" y1="1469.5" x2="129.5" y2="1469.5" stroke="#000" stroke-width="2.4"/>
<text x="115.5" y="1477.8" font-size="23" text-anchor="end">0.5</text>
<text x="115.5" y="1553.3" font-size="23" text-anchor="end">0.0</text>
<g fill="#fff" stroke="#000" stroke-width="2.7">
<circle cx="145.75" cy="1544.25" r="5.9"/>
<circle cx="172" cy="1544.25" r="5.9"/>
<circle cx="197.5" cy="1496.25" r="5.9"/>
<circle cx="196.25" cy="1503.75" r="5.9"/>
<circle cx="194.5" cy="1520" r="5.9"/>
<circle cx="200" cy="1524.5" r="5.9"/>
<circle cx="191.25" cy="1526.25" r="5.9"/>
<circle cx="197.5" cy="1530" r="5.9"/>
<circle cx="193.75" cy="1533.75" r="5.9"/>
<circle cx="197.5" cy="1536.25" r="5.9"/>
<circle cx="222" cy="1531.25" r="5.9"/>
<circle cx="218.75" cy="1542.5" r="5.9"/>
<circle cx="223.75" cy="1542.5" r="5.9"/>
<circle cx="261.25" cy="1541.25" r="5.9"/>
<circle cx="263.75" cy="1543.75" r="5.9"/>
<circle cx="266.25" cy="1543.75" r="5.9"/>
<circle cx="286.25" cy="1543" r="5.9"/>
<circle cx="290" cy="1544.25" r="5.9"/>
<circle cx="293" cy="1544.25" r="5.9"/>
<circle cx="315" cy="1400" r="5.9"/>
<circle cx="315" cy="1407.5" r="5.9"/>
<circle cx="315" cy="1427.5" r="5.9"/>
<circle cx="315" cy="1436.25" r="5.9"/>
<circle cx="312.5" cy="1517.5" r="5.9"/>
<circle cx="317.5" cy="1520" r="5.9"/>
<circle cx="310" cy="1525" r="5.9"/>
<circle cx="316.25" cy="1527.5" r="5.9"/>
<circle cx="341.25" cy="1462.5" r="5.9"/>
<circle cx="341.25" cy="1475" r="5.9"/>
<circle cx="340" cy="1501.25" r="5.9"/>
<circle cx="341.25" cy="1506.25" r="5.9"/>
<circle cx="340" cy="1516.25" r="5.9"/>
<circle cx="342.5" cy="1521.25" r="5.9"/>
<circle cx="337.5" cy="1526.25" r="5.9"/>
<circle cx="343.75" cy="1528.75" r="5.9"/>
<circle cx="340" cy="1530" r="5.9"/>
</g>
<text x="179.5" y="1338.75" font-size="20" textLength="75.5" lengthAdjust="spacing"><tspan font-style="italic">P</tspan> = 0.004</text>
<line x1="198.25" y1="1345.75" x2="223.25" y2="1345.75" stroke="#000" stroke-width="2.6"/>
<text x="242" y="1367" font-size="20" textLength="80.5" lengthAdjust="spacing"><tspan font-style="italic">P</tspan> = 0.012</text>
<line x1="224.25" y1="1375" x2="338.25" y2="1375" stroke="#000" stroke-width="2.6"/>
<text x="121.25" y="1580" font-size="24" text-anchor="end">GC</text>
<text x="120.5" y="1607.5" font-size="24" text-anchor="end">LPS</text>
<text x="151.25" y="1581.13" font-size="20.5" text-anchor="middle">-</text>
<text x="151.25" y="1605.63" font-size="20.5" text-anchor="middle">-</text>
<text x="175" y="1581.13" font-size="20.5" text-anchor="middle">+</text>
<text x="175" y="1605.63" font-size="20.5" text-anchor="middle">-</text>
<text x="203" y="1581.13" font-size="20.5" text-anchor="middle">-</text>
<text x="203" y="1605.63" font-size="20.5" text-anchor="middle">+</text>
<text x="225.75" y="1581.13" font-size="20.5" text-anchor="middle">+</text>
<text x="225.75" y="1605.63" font-size="20.5" text-anchor="middle">+</text>
<text x="268.75" y="1581.13" font-size="20.5" text-anchor="middle">-</text>
<text x="268.75" y="1605.63" font-size="20.5" text-anchor="middle">-</text>
<text x="293" y="1581.13" font-size="20.5" text-anchor="middle">+</text>
<text x="293" y="1605.63" font-size="20.5" text-anchor="middle">-</text>
<text x="320.75" y="1581.13" font-size="20.5" text-anchor="middle">-</text>
<text x="320.75" y="1605.63" font-size="20.5" text-anchor="middle">+</text>
<text x="343.75" y="1581.13" font-size="20.5" text-anchor="middle">+</text>
<text x="343.75" y="1605.63" font-size="20.5" text-anchor="middle">+</text>
<text x="166.25" y="1645" font-size="23.6" textLength="40" lengthAdjust="spacingAndGlyphs">Veh</text>
<text x="260.75" y="1645" font-size="23.6" textLength="88.75" lengthAdjust="spacingAndGlyphs">ERG344</text>
<text font-size="23.5" text-anchor="middle" textLength="136" lengthAdjust="spacingAndGlyphs" transform="translate(68.3,1438) rotate(-90)">IL-1β (ng/ml)</text>
<rect x="608" y="1325" width="121.5" height="347.5" fill="#e0e0e0"/>
<rect x="559.45" y="1446.25" width="13.6" height="101.25" fill="#e8763c" stroke="#000" stroke-width="2.3"/>
<rect x="585.2" y="1490" width="13.6" height="57.5" fill="#a01920" stroke="#000" stroke-width="2.3"/>
<rect x="679.95" y="1440" width="13.6" height="107.5" fill="#e8763c" stroke="#000" stroke-width="2.3"/>
<rect x="705.7" y="1467.5" width="13.6" height="80" fill="#a01920" stroke="#000" stroke-width="2.3"/>
<line x1="498.25" y1="1324.3" x2="498.25" y2="1548.7" stroke="#000" stroke-width="2.4"/>
<line x1="489.25" y1="1547.5" x2="730.5" y2="1547.5" stroke="#000" stroke-width="2.6"/>
<line x1="489.25" y1="1325.5" x2="498.25" y2="1325.5" stroke="#000" stroke-width="2.4"/>
<text x="481.75" y="1333.8" font-size="23" text-anchor="end">5</text>
<line x1="489.25" y1="1370.5" x2="498.25" y2="1370.5" stroke="#000" stroke-width="2.4"/>
<text x="481.75" y="1378.8" font-size="23" text-anchor="end">4</text>
<line x1="489.25" y1="1414.5" x2="498.25" y2="1414.5" stroke="#000" stroke-width="2.4"/>
<text x="481.75" y="1422.8" font-size="23" text-anchor="end">3</text>
<line x1="489.25" y1="1458.75" x2="498.25" y2="1458.75" stroke="#000" stroke-width="2.4"/>
<text x="481.75" y="1467.05" font-size="23" text-anchor="end">2</text>
<line x1="489.25" y1="1503.25" x2="498.25" y2="1503.25" stroke="#000" stroke-width="2.4"/>
<text x="481.75" y="1511.55" font-size="23" text-anchor="end">1</text>
<text x="481.75" y="1555.8" font-size="23" text-anchor="end">0</text>
<g fill="#fff" stroke="#000" stroke-width="2.7">
<circle cx="512.5" cy="1540" r="5.9"/>
<circle cx="517.5" cy="1544.5" r="5.9"/>
<circle cx="513.75" cy="1547.5" r="5.9"/>
<circle cx="537.5" cy="1543.75" r="5.9"/>
<circle cx="543.75" cy="1544.5" r="5.9"/>
<circle cx="541.25" cy="1547" r="5.9"/>
<circle cx="566.25" cy="1358.75" r="5.9"/>
<circle cx="566.25" cy="1392.5" r="5.9"/>
<circle cx="566.25" cy="1433.75" r="5.9"/>
<circle cx="567" cy="1441.25" r="5.9"/>
<circle cx="562.5" cy="1452" r="5.9"/>
<circle cx="568.75" cy="1451.25" r="5.9"/>
<circle cx="566.25" cy="1462" r="5.9"/>
<circle cx="566.25" cy="1470" r="5.9"/>
<circle cx="566.25" cy="1490" r="5.9"/>
<circle cx="565.5" cy="1496.25" r="5.9"/>
<circle cx="592.5" cy="1467" r="5.9"/>
<circle cx="592.5" cy="1473.75" r="5.9"/>
<circle cx="592" cy="1486.25" r="5.9"/>
<circle cx="591.25" cy="1493.75" r="5.9"/>
<circle cx="587.5" cy="1497" r="5.9"/>
<circle cx="596.25" cy="1497.5" r="5.9"/>
<circle cx="592" cy="1512.5" r="5.9"/>
<circle cx="632.5" cy="1541.25" r="5.9"/>
<circle cx="637" cy="1545" r="5.9"/>
<circle cx="635" cy="1547.5" r="5.9"/>
<circle cx="658.75" cy="1542" r="5.9"/>
<circle cx="662.5" cy="1545" r="5.9"/>
<circle cx="660" cy="1547.5" r="5.9"/>
<circle cx="686.25" cy="1383.75" r="5.9"/>
<circle cx="689.25" cy="1402.5" r="5.9"/>
<circle cx="683.25" cy="1406.25" r="5.9"/>
<circle cx="688.75" cy="1421.25" r="5.9"/>
<circle cx="683.25" cy="1427" r="5.9"/>
<circle cx="686.25" cy="1435" r="5.9"/>
<circle cx="689.25" cy="1441.25" r="5.9"/>
<circle cx="682.5" cy="1447.5" r="5.9"/>
<circle cx="686.75" cy="1452" r="5.9"/>
<circle cx="688.75" cy="1464.5" r="5.9"/>
<circle cx="682.5" cy="1466.25" r="5.9"/>
<circle cx="686.75" cy="1507.5" r="5.9"/>
<circle cx="712.5" cy="1425.5" r="5.9"/>
<circle cx="715" cy="1450" r="5.9"/>
<circle cx="712.5" cy="1453.75" r="5.9"/>
<circle cx="708" cy="1460" r="5.9"/>
<circle cx="715" cy="1467.5" r="5.9"/>
<circle cx="710" cy="1470" r="5.9"/>
<circle cx="712.5" cy="1477.5" r="5.9"/>
<circle cx="711.25" cy="1490" r="5.9"/>
<circle cx="711.75" cy="1495" r="5.9"/>
</g>
<text x="532" y="1321.25" font-size="20" textLength="87.5" lengthAdjust="spacing"><tspan font-style="italic">P</tspan> = 0.0001</text>
<line x1="561.25" y1="1330" x2="586.75" y2="1330" stroke="#000" stroke-width="2.6"/>
<text x="663.25" y="1322.5" font-size="20" textLength="77.25" lengthAdjust="spacing"><tspan font-style="italic">P</tspan> = 0.016</text>
<line x1="688" y1="1330.75" x2="713.75" y2="1330.75" stroke="#000" stroke-width="2.6"/>
<text x="612" y="1359.5" font-size="20" textLength="81.75" lengthAdjust="spacing"><tspan font-style="italic">P</tspan> = 0.014</text>
<line x1="588.25" y1="1368.25" x2="713.75" y2="1368.25" stroke="#000" stroke-width="2.6"/>
<text x="489.5" y="1584.5" font-size="24" text-anchor="end">GC</text>
<text x="488.5" y="1610.5" font-size="24" text-anchor="end">LPS</text>
<text x="518.75" y="1584.38" font-size="20.5" text-anchor="middle">-</text>
<text x="518.75" y="1609.38" font-size="20.5" text-anchor="middle">-</text>
<text x="543" y="1584.38" font-size="20.5" text-anchor="middle">+</text>
<text x="543" y="1609.38" font-size="20.5" text-anchor="middle">-</text>
<text x="570.5" y="1584.38" font-size="20.5" text-anchor="middle">-</text>
<text x="570.5" y="1609.38" font-size="20.5" text-anchor="middle">+</text>
<text x="593.75" y="1584.38" font-size="20.5" text-anchor="middle">+</text>
<text x="593.75" y="1609.38" font-size="20.5" text-anchor="middle">+</text>
<text x="637" y="1584.38" font-size="20.5" text-anchor="middle">-</text>
<text x="637" y="1609.38" font-size="20.5" text-anchor="middle">-</text>
<text x="660.75" y="1584.38" font-size="20.5" text-anchor="middle">+</text>
<text x="660.75" y="1609.38" font-size="20.5" text-anchor="middle">-</text>
<text x="688.75" y="1584.38" font-size="20.5" text-anchor="middle">-</text>
<text x="688.75" y="1609.38" font-size="20.5" text-anchor="middle">+</text>
<text x="711.25" y="1584.38" font-size="20.5" text-anchor="middle">+</text>
<text x="711.25" y="1609.38" font-size="20.5" text-anchor="middle">+</text>
<text x="533.75" y="1645" font-size="23.6" textLength="40.5" lengthAdjust="spacingAndGlyphs">Veh</text>
<text x="629.25" y="1645" font-size="23.6" textLength="89.5" lengthAdjust="spacingAndGlyphs">ERG344</text>
<text font-size="23.5" text-anchor="middle" textLength="121" lengthAdjust="spacingAndGlyphs" transform="translate(446,1438) rotate(-90)">IL-6 (ng/ml)</text>
<rect x="987" y="1324.6" width="119.7" height="347.4" fill="#e0e0e0"/>
<rect x="937.4" y="1447.5" width="13.6" height="99.8" fill="#e8763c" stroke="#000" stroke-width="2.3"/>
<rect x="963.5" y="1498" width="13.6" height="49.3" fill="#a01920" stroke="#000" stroke-width="2.3"/>
<rect x="1056.3" y="1463.6" width="13.6" height="83.7" fill="#e8763c" stroke="#000" stroke-width="2.3"/>
<rect x="1082.1" y="1489.4" width="13.6" height="57.9" fill="#a01920" stroke="#000" stroke-width="2.3"/>
<line x1="1063.1" y1="1450" x2="1063.1" y2="1463" stroke="#000" stroke-width="2.4"/>
<line x1="1057.1" y1="1450" x2="1069.1" y2="1450" stroke="#000" stroke-width="2.4"/>
<line x1="877.2" y1="1322.4" x2="877.2" y2="1548.5" stroke="#000" stroke-width="2.4"/>
<line x1="868.2" y1="1547.3" x2="1106.7" y2="1547.3" stroke="#000" stroke-width="2.6"/>
<line x1="868.2" y1="1323.6" x2="877.2" y2="1323.6" stroke="#000" stroke-width="2.4"/>
<text x="863.2" y="1331.9" font-size="23" text-anchor="end">15</text>
<line x1="868.2" y1="1398.6" x2="877.2" y2="1398.6" stroke="#000" stroke-width="2.4"/>
<text x="863.2" y="1406.9" font-size="23" text-anchor="end">10</text>
<line x1="868.2" y1="1473.3" x2="877.2" y2="1473.3" stroke="#000" stroke-width="2.4"/>
<text x="863.2" y="1481.6" font-size="23" text-anchor="end">5</text>
<text x="863.2" y="1555.6" font-size="23" text-anchor="end">0</text>
<g fill="#fff" stroke="#000" stroke-width="2.7">
<circle cx="890.62" cy="1547.32" r="5.9"/>
<circle cx="894.64" cy="1547.32" r="5.9"/>
<circle cx="915.74" cy="1544.64" r="5.9"/>
<circle cx="920.77" cy="1547.99" r="5.9"/>
<circle cx="944.21" cy="1413.35" r="5.9"/>
<circle cx="944.21" cy="1419.04" r="5.9"/>
<circle cx="944.21" cy="1433.11" r="5.9"/>
<circle cx="943.54" cy="1446.84" r="5.9"/>
<circle cx="940.86" cy="1455.89" r="5.9"/>
<circle cx="947.56" cy="1457.56" r="5.9"/>
<circle cx="944.21" cy="1462.58" r="5.9"/>
<circle cx="943.54" cy="1470.96" r="5.9"/>
<circle cx="944.88" cy="1474.98" r="5.9"/>
<circle cx="970.34" cy="1480.34" r="5.9"/>
<circle cx="971.68" cy="1495.07" r="5.9"/>
<circle cx="965.98" cy="1501.1" r="5.9"/>
<circle cx="974.36" cy="1499.43" r="5.9"/>
<circle cx="970.34" cy="1504.45" r="5.9"/>
<circle cx="971.01" cy="1510.48" r="5.9"/>
<circle cx="968.33" cy="1516.17" r="5.9"/>
<circle cx="1009.52" cy="1547.32" r="5.9"/>
<circle cx="1013.88" cy="1547.32" r="5.9"/>
<circle cx="1016.22" cy="1547.32" r="5.9"/>
<circle cx="1034.64" cy="1547.32" r="5.9"/>
<circle cx="1038.66" cy="1547.32" r="5.9"/>
<circle cx="1063.11" cy="1359.76" r="5.9"/>
<circle cx="1063.11" cy="1415.69" r="5.9"/>
<circle cx="1060.43" cy="1455.89" r="5.9"/>
<circle cx="1066.46" cy="1461.58" r="5.9"/>
<circle cx="1062.44" cy="1470.96" r="5.9"/>
<circle cx="1063.11" cy="1482.68" r="5.9"/>
<circle cx="1059.76" cy="1493.73" r="5.9"/>
<circle cx="1064.79" cy="1492.73" r="5.9"/>
<circle cx="1088.9" cy="1480.34" r="5.9"/>
<circle cx="1086.56" cy="1488.37" r="5.9"/>
<circle cx="1091.58" cy="1491.05" r="5.9"/>
<circle cx="1084.88" cy="1493.73" r="5.9"/>
<circle cx="1092.25" cy="1497.08" r="5.9"/>
<circle cx="1088.9" cy="1499.43" r="5.9"/>
</g>
<text x="911.4" y="1306.2" font-size="20" textLength="85.4" lengthAdjust="spacing"><tspan font-style="italic">P</tspan> = 0.0001</text>
<line x1="939.2" y1="1314.2" x2="965" y2="1314.2" stroke="#000" stroke-width="2.6"/>
<text x="1043" y="1303.5" font-size="20" textLength="78" lengthAdjust="spacing"><tspan font-style="italic">P</tspan> = 0.002</text>
<line x1="1068.1" y1="1311.9" x2="1093.9" y2="1311.9" stroke="#000" stroke-width="2.6"/>
<text x="990.1" y="1337.7" font-size="20" textLength="76.4" lengthAdjust="spacing"><tspan font-style="italic">P</tspan> = 0.043</text>
<line x1="962.6" y1="1347" x2="1090.9" y2="1347" stroke="#000" stroke-width="2.6"/>
<text x="866.5" y="1580.5" font-size="24" text-anchor="end">GC</text>
<text x="865.5" y="1607.6" font-size="24" text-anchor="end">LPS</text>
<text x="895.6" y="1581.18" font-size="20.5" text-anchor="middle">-</text>
<text x="895.6" y="1605.58" font-size="20.5" text-anchor="middle">-</text>
<text x="920.1" y="1581.18" font-size="20.5" text-anchor="middle">+</text>
<text x="920.1" y="1605.58" font-size="20.5" text-anchor="middle">-</text>
<text x="948.2" y="1581.18" font-size="20.5" text-anchor="middle">-</text>
<text x="948.2" y="1605.58" font-size="20.5" text-anchor="middle">+</text>
<text x="970.3" y="1581.18" font-size="20.5" text-anchor="middle">+</text>
<text x="970.3" y="1605.58" font-size="20.5" text-anchor="middle">+</text>
<text x="1013.9" y="1581.18" font-size="20.5" text-anchor="middle">-</text>
<text x="1013.9" y="1605.58" font-size="20.5" text-anchor="middle">-</text>
<text x="1038" y="1581.18" font-size="20.5" text-anchor="middle">+</text>
<text x="1038" y="1605.58" font-size="20.5" text-anchor="middle">-</text>
<text x="1065.5" y="1581.18" font-size="20.5" text-anchor="middle">-</text>
<text x="1065.5" y="1605.58" font-size="20.5" text-anchor="middle">+</text>
<text x="1088.9" y="1581.18" font-size="20.5" text-anchor="middle">+</text>
<text x="1088.9" y="1605.58" font-size="20.5" text-anchor="middle">+</text>
<text x="916.7" y="1642.4" font-size="23.6" textLength="37.6" lengthAdjust="spacingAndGlyphs">Veh</text>
<text x="1007.8" y="1642.4" font-size="23.6" textLength="90.5" lengthAdjust="spacingAndGlyphs">ERG344</text>
<text font-size="23.5" text-anchor="middle" textLength="125.5" lengthAdjust="spacingAndGlyphs" transform="translate(819.6,1438) rotate(-90)">TNF (ng/ml)</text>
<rect x="1130.6" y="1333.8" width="13.2" height="13.2" fill="#000" stroke="#1a1a1a" stroke-width="2.4"/>
<text x="1164.6" y="1347" font-size="24" textLength="38" lengthAdjust="spacingAndGlyphs">Ctrl</text>
<rect x="1130.6" y="1362.8" width="13.2" height="13.2" fill="#fff" stroke="#1a1a1a" stroke-width="2.4"/>
<text x="1164.6" y="1374.8" font-size="24" textLength="36" lengthAdjust="spacingAndGlyphs">GC</text>
<rect x="1130.6" y="1391.2" width="13.2" height="13.2" fill="#c8152a" stroke="#1a1a1a" stroke-width="2.4"/>
<text x="1164.6" y="1403" font-size="24" textLength="45.5" lengthAdjust="spacingAndGlyphs">LPS</text>
<rect x="1130.6" y="1419" width="13.2" height="13.2" fill="#e8763c" stroke="#1a1a1a" stroke-width="2.4"/>
<text x="1164.6" y="1430.8" font-size="24" textLength="111" lengthAdjust="spacingAndGlyphs">GC + LPS</text>
<text x="1" y="1767" font-size="40" font-weight="bold" fill="#1a1a1a">e</text>
<rect x="243" y="1783.25" width="122" height="306.75" fill="#e0e0e0"/>
<rect x="191.6" y="1900" width="14.3" height="103.75" fill="#e8763c" stroke="#000" stroke-width="2.3"/>
<rect x="217.35" y="1978.75" width="14.3" height="25" fill="#a01920" stroke="#000" stroke-width="2.3"/>
<rect x="311.6" y="1885.5" width="14.3" height="118.25" fill="#e8763c" stroke="#000" stroke-width="2.3"/>
<rect x="337.85" y="1946.25" width="14.3" height="57.5" fill="#a01920" stroke="#000" stroke-width="2.3"/>
<line x1="318.75" y1="1870.75" x2="318.75" y2="1886" stroke="#000" stroke-width="2.4"/>
<line x1="312.75" y1="1870.75" x2="324.75" y2="1870.75" stroke="#000" stroke-width="2.4"/>
<line x1="130" y1="1782.55" x2="130" y2="2004.95" stroke="#000" stroke-width="2.4"/>
<line x1="121" y1="2003.75" x2="363.75" y2="2003.75" stroke="#000" stroke-width="2.6"/>
<line x1="121" y1="1783.75" x2="130" y2="1783.75" stroke="#000" stroke-width="2.4"/>
<text x="116" y="1792.05" font-size="23" text-anchor="end">2.0</text>
<line x1="121" y1="1838.75" x2="130" y2="1838.75" stroke="#000" stroke-width="2.4"/>
<text x="116" y="1847.05" font-size="23" text-anchor="end">1.5</text>
<line x1="121" y1="1893.75" x2="130" y2="1893.75" stroke="#000" stroke-width="2.4"/>
<text x="116" y="1902.05" font-size="23" text-anchor="end">1.0</text>
<line x1="121" y1="1948.75" x2="130" y2="1948.75" stroke="#000" stroke-width="2.4"/>
<text x="116" y="1957.05" font-size="23" text-anchor="end">0.5</text>
<text x="116" y="2012.05" font-size="23" text-anchor="end">0.0</text>
<g fill="#fff" stroke="#000" stroke-width="2.7">
<circle cx="143.75" cy="2003.75" r="5.9"/>
<circle cx="150" cy="2003.75" r="5.9"/>
<circle cx="170" cy="2003.75" r="5.9"/>
<circle cx="175" cy="2003.75" r="5.9"/>
<circle cx="196.25" cy="1889.5" r="5.9"/>
<circle cx="201.25" cy="1892.5" r="5.9"/>
<circle cx="193.75" cy="1897.5" r="5.9"/>
<circle cx="196.25" cy="1907" r="5.9"/>
<circle cx="202" cy="1906.25" r="5.9"/>
<circle cx="222.5" cy="1968.75" r="5.9"/>
<circle cx="226.25" cy="1972.5" r="5.9"/>
<circle cx="221.25" cy="1977.5" r="5.9"/>
<circle cx="225" cy="1978" r="5.9"/>
<circle cx="264.5" cy="2003.75" r="5.9"/>
<circle cx="269.5" cy="2003.75" r="5.9"/>
<circle cx="290" cy="2003.75" r="5.9"/>
<circle cx="296.25" cy="2003.75" r="5.9"/>
<circle cx="298.75" cy="2003.75" r="5.9"/>
<circle cx="318.75" cy="1817.5" r="5.9"/>
<circle cx="318.75" cy="1886.25" r="5.9"/>
<circle cx="317.5" cy="1896.25" r="5.9"/>
<circle cx="321.25" cy="1902" r="5.9"/>
<circle cx="315" cy="1903.75" r="5.9"/>
<circle cx="346.25" cy="1939.5" r="5.9"/>
<circle cx="343.75" cy="1942.5" r="5.9"/>
<circle cx="348" cy="1944.5" r="5.9"/>
<circle cx="345" cy="1947.5" r="5.9"/>
</g>
<text x="154.5" y="1752" font-size="20" textLength="91.25" lengthAdjust="spacing"><tspan font-style="italic">P</tspan> = 0.0001</text>
<line x1="193" y1="1760" x2="219.5" y2="1760" stroke="#000" stroke-width="2.6"/>
<text x="285" y="1753.25" font-size="20" textLength="81.25" lengthAdjust="spacing"><tspan font-style="italic">P</tspan> = 0.001</text>
<line x1="320.75" y1="1760.75" x2="347" y2="1760.75" stroke="#000" stroke-width="2.6"/>
<text x="241.25" y="1796.25" font-size="20" textLength="80" lengthAdjust="spacing"><tspan font-style="italic">P</tspan> = 0.002</text>
<line x1="217" y1="1804.5" x2="349.5" y2="1804.5" stroke="#000" stroke-width="2.6"/>
<text x="147.5" y="2034.25" font-size="23.36" textLength="24.58" lengthAdjust="spacingAndGlyphs">sg</text>
<text x="173.08" y="2034.25" font-size="23.36" font-style="italic" textLength="45.67" lengthAdjust="spacingAndGlyphs">Ren</text>
<text x="260.75" y="2034.25" font-size="23.15" textLength="24.84" lengthAdjust="spacingAndGlyphs">sg</text>
<text x="286.59" y="2034.25" font-size="23.15" font-style="italic" textLength="67.91" lengthAdjust="spacingAndGlyphs">Acod1</text>
<text font-size="23.5" text-anchor="middle" textLength="133" lengthAdjust="spacingAndGlyphs" transform="translate(68.3,1897) rotate(-90)">IL-1β (ng/ml)</text>
<rect x="607.5" y="1781.25" width="117.5" height="307" fill="#e0e0e0"/>
<rect x="555.7" y="1872" width="13.6" height="131.25" fill="#e8763c" stroke="#000" stroke-width="2.3"/>
<rect x="580.7" y="1996" width="13.6" height="7.25" fill="#a01920" stroke="#000" stroke-width="2.3"/>
<rect x="674.45" y="1850" width="13.6" height="153.25" fill="#e8763c" stroke="#000" stroke-width="2.3"/>
<rect x="699.95" y="1973.75" width="13.6" height="29.5" fill="#a01920" stroke="#000" stroke-width="2.3"/>
<line x1="562.5" y1="1855" x2="562.5" y2="1872" stroke="#000" stroke-width="2.4"/>
<line x1="556.5" y1="1855" x2="568.5" y2="1855" stroke="#000" stroke-width="2.4"/>
<line x1="681.25" y1="1830" x2="681.25" y2="1850" stroke="#000" stroke-width="2.4"/>
<line x1="675.25" y1="1830" x2="687.25" y2="1830" stroke="#000" stroke-width="2.4"/>
<line x1="496.25" y1="1782.55" x2="496.25" y2="2004.45" stroke="#000" stroke-width="2.4"/>
<line x1="487.25" y1="2003.25" x2="724.5" y2="2003.25" stroke="#000" stroke-width="2.6"/>
<line x1="487.25" y1="1783.75" x2="496.25" y2="1783.75" stroke="#000" stroke-width="2.4"/>
<text x="479.75" y="1792.05" font-size="23" text-anchor="end">8</text>
<line x1="487.25" y1="1838.75" x2="496.25" y2="1838.75" stroke="#000" stroke-width="2.4"/>
<text x="479.75" y="1847.05" font-size="23" text-anchor="end">6</text>
<line x1="487.25" y1="1893.25" x2="496.25" y2="1893.25" stroke="#000" stroke-width="2.4"/>
<text x="479.75" y="1901.55" font-size="23" text-anchor="end">4</text>
<line x1="487.25" y1="1948.25" x2="496.25" y2="1948.25" stroke="#000" stroke-width="2.4"/>
<text x="479.75" y="1956.55" font-size="23" text-anchor="end">2</text>
<text x="479.75" y="2011.55" font-size="23" text-anchor="end">0</text>
<g fill="#fff" stroke="#000" stroke-width="2.7">
<circle cx="510" cy="2001.25" r="5.9"/>
<circle cx="513.75" cy="2000" r="5.9"/>
<circle cx="536.25" cy="2001.25" r="5.9"/>
<circle cx="538.75" cy="2000" r="5.9"/>
<circle cx="565.5" cy="1808.75" r="5.9"/>
<circle cx="559.5" cy="1814.5" r="5.9"/>
<circle cx="562.5" cy="1850" r="5.9"/>
<circle cx="562.5" cy="1902.5" r="5.9"/>
<circle cx="562.5" cy="1918.75" r="5.9"/>
<circle cx="562.5" cy="1932.5" r="5.9"/>
<circle cx="586.25" cy="1991.25" r="5.9"/>
<circle cx="588.75" cy="1996.25" r="5.9"/>
<circle cx="626.25" cy="2001.25" r="5.9"/>
<circle cx="631.25" cy="2002.5" r="5.9"/>
<circle cx="627.5" cy="2003" r="5.9"/>
<circle cx="652.5" cy="2001.25" r="5.9"/>
<circle cx="656.25" cy="2001.25" r="5.9"/>
<circle cx="653" cy="2003" r="5.9"/>
<circle cx="680.75" cy="1810" r="5.9"/>
<circle cx="680.75" cy="1823.25" r="5.9"/>
<circle cx="683.75" cy="1837" r="5.9"/>
<circle cx="677.5" cy="1845" r="5.9"/>
<circle cx="683.75" cy="1850" r="5.9"/>
<circle cx="680.75" cy="1903.75" r="5.9"/>
<circle cx="706.25" cy="1955" r="5.9"/>
<circle cx="704.5" cy="1962" r="5.9"/>
<circle cx="708.75" cy="1967.5" r="5.9"/>
<circle cx="703" cy="1969.5" r="5.9"/>
<circle cx="710" cy="1971.25" r="5.9"/>
</g>
<text x="522" y="1750" font-size="20" textLength="90.5" lengthAdjust="spacing"><tspan font-style="italic">P</tspan> = 0.0001</text>
<line x1="557" y1="1760.75" x2="583" y2="1760.75" stroke="#000" stroke-width="2.6"/>
<text x="660.75" y="1750.75" font-size="20" textLength="76.75" lengthAdjust="spacing"><tspan font-style="italic">P</tspan> = 0.001</text>
<line x1="682.5" y1="1761.25" x2="708" y2="1761.25" stroke="#000" stroke-width="2.6"/>
<text x="601.25" y="1779.5" font-size="20" textLength="82.5" lengthAdjust="spacing"><tspan font-style="italic">P</tspan> = 0.036</text>
<line x1="580.5" y1="1788.25" x2="713.75" y2="1788.25" stroke="#000" stroke-width="2.6"/>
<text x="515.75" y="2034.25" font-size="23.11" textLength="24.32" lengthAdjust="spacingAndGlyphs">sg</text>
<text x="541.07" y="2034.25" font-size="23.11" font-style="italic" textLength="45.18" lengthAdjust="spacingAndGlyphs">Ren</text>
<text x="622" y="2034.25" font-size="23.27" textLength="24.98" lengthAdjust="spacingAndGlyphs">sg</text>
<text x="647.98" y="2034.25" font-size="23.27" font-style="italic" textLength="68.27" lengthAdjust="spacingAndGlyphs">Acod1</text>
<text font-size="23.5" text-anchor="middle" textLength="119" lengthAdjust="spacingAndGlyphs" transform="translate(446,1898) rotate(-90)">IL-6 (ng/ml)</text>
<rect x="987" y="1783.7" width="117.3" height="306.5" fill="#e0e0e0"/>
<rect x="935.7" y="1859" width="13.6" height="143.4" fill="#e8763c" stroke="#000" stroke-width="2.3"/>
<rect x="960.9" y="1979.7" width="13.6" height="22.7" fill="#a01920" stroke="#000" stroke-width="2.3"/>
<rect x="1054.6" y="1839" width="13.6" height="163.4" fill="#e8763c" stroke="#000" stroke-width="2.3"/>
<rect x="1080.4" y="1941.8" width="13.6" height="60.6" fill="#a01920" stroke="#000" stroke-width="2.3"/>
<line x1="942.5" y1="1846.7" x2="942.5" y2="1859" stroke="#000" stroke-width="2.4"/>
<line x1="936.5" y1="1846.7" x2="948.5" y2="1846.7" stroke="#000" stroke-width="2.4"/>
<line x1="874.9" y1="1781.5" x2="874.9" y2="2003.6" stroke="#000" stroke-width="2.4"/>
<line x1="865.9" y1="2002.4" x2="1105" y2="2002.4" stroke="#000" stroke-width="2.6"/>
<line x1="865.9" y1="1782.7" x2="874.9" y2="1782.7" stroke="#000" stroke-width="2.4"/>
<text x="860.9" y="1791" font-size="23" text-anchor="end">15</text>
<line x1="865.9" y1="1856.4" x2="874.9" y2="1856.4" stroke="#000" stroke-width="2.4"/>
<text x="860.9" y="1864.7" font-size="23" text-anchor="end">10</text>
<line x1="865.9" y1="1929.4" x2="874.9" y2="1929.4" stroke="#000" stroke-width="2.4"/>
<text x="860.9" y="1937.7" font-size="23" text-anchor="end">5</text>
<text x="860.9" y="2010.7" font-size="23" text-anchor="end">0</text>
<g fill="#fff" stroke="#000" stroke-width="2.7">
<circle cx="888.28" cy="1999.09" r="5.9"/>
<circle cx="893.3" cy="1999.09" r="5.9"/>
<circle cx="915.74" cy="1990.72" r="5.9"/>
<circle cx="917.42" cy="1998.09" r="5.9"/>
<circle cx="942.54" cy="1818.9" r="5.9"/>
<circle cx="941.87" cy="1832.97" r="5.9"/>
<circle cx="945.89" cy="1861.77" r="5.9"/>
<circle cx="939.19" cy="1866.8" r="5.9"/>
<circle cx="944.21" cy="1880.19" r="5.9"/>
<circle cx="939.86" cy="1888.23" r="5.9"/>
<circle cx="970.34" cy="1960.24" r="5.9"/>
<circle cx="964.98" cy="1962.92" r="5.9"/>
<circle cx="967.66" cy="1969.62" r="5.9"/>
<circle cx="971.01" cy="1977.32" r="5.9"/>
<circle cx="964.31" cy="1985.36" r="5.9"/>
<circle cx="1007.18" cy="2001.44" r="5.9"/>
<circle cx="1011.87" cy="2000.77" r="5.9"/>
<circle cx="1032.97" cy="2001.44" r="5.9"/>
<circle cx="1037.99" cy="2000.43" r="5.9"/>
<circle cx="1061.44" cy="1818.9" r="5.9"/>
<circle cx="1065.46" cy="1824.93" r="5.9"/>
<circle cx="1057.08" cy="1828.28" r="5.9"/>
<circle cx="1062.44" cy="1844.69" r="5.9"/>
<circle cx="1057.42" cy="1847.37" r="5.9"/>
<circle cx="1062.44" cy="1865.79" r="5.9"/>
<circle cx="1087.23" cy="1901.96" r="5.9"/>
<circle cx="1087.23" cy="1927.08" r="5.9"/>
<circle cx="1087.23" cy="1936.13" r="5.9"/>
<circle cx="1089.91" cy="1961.25" r="5.9"/>
<circle cx="1083.88" cy="1964.59" r="5.9"/>
</g>
<text x="902.3" y="1748.6" font-size="20" textLength="87.1" lengthAdjust="spacing"><tspan font-style="italic">P</tspan> = 0.0001</text>
<line x1="936.8" y1="1759.6" x2="962.6" y2="1759.6" stroke="#000" stroke-width="2.6"/>
<text x="1031.3" y="1745.2" font-size="20" textLength="87.1" lengthAdjust="spacing"><tspan font-style="italic">P</tspan> = 0.0001</text>
<line x1="1063.1" y1="1757" x2="1088.2" y2="1757" stroke="#000" stroke-width="2.6"/>
<text x="988.4" y="1792.1" font-size="20" textLength="77.4" lengthAdjust="spacing"><tspan font-style="italic">P</tspan> = 0.025</text>
<line x1="961" y1="1800.5" x2="1091" y2="1800.5" stroke="#000" stroke-width="2.6"/>
<text x="895" y="2034" font-size="23.84" textLength="25.08" lengthAdjust="spacingAndGlyphs">sg</text>
<text x="921.08" y="2034" font-size="23.84" font-style="italic" textLength="46.62" lengthAdjust="spacingAndGlyphs">Ren</text>
<text x="1002.8" y="2034" font-size="23.16" textLength="24.86" lengthAdjust="spacingAndGlyphs">sg</text>
<text x="1028.66" y="2034" font-size="23.16" font-style="italic" textLength="67.94" lengthAdjust="spacingAndGlyphs">Acod1</text>
<text font-size="23.5" text-anchor="middle" textLength="124" lengthAdjust="spacingAndGlyphs" transform="translate(819.6,1897.6) rotate(-90)">TNF (ng/ml)</text>
<rect x="1130.6" y="1783.9" width="13.2" height="13.2" fill="#000" stroke="#1a1a1a" stroke-width="2.4"/>
<text x="1164.6" y="1797" font-size="24" textLength="38" lengthAdjust="spacingAndGlyphs">Ctrl</text>
<rect x="1130.6" y="1812.4" width="13.2" height="13.2" fill="#fff" stroke="#1a1a1a" stroke-width="2.4"/>
<text x="1164.6" y="1825" font-size="24" textLength="36" lengthAdjust="spacingAndGlyphs">GC</text>
<rect x="1130.6" y="1840.9" width="13.2" height="13.2" fill="#c8152a" stroke="#1a1a1a" stroke-width="2.4"/>
<text x="1164.6" y="1853" font-size="24" textLength="45.5" lengthAdjust="spacingAndGlyphs">LPS</text>
<rect x="1130.6" y="1868.7" width="13.2" height="13.2" fill="#e8763c" stroke="#1a1a1a" stroke-width="2.4"/>
<text x="1164.6" y="1880.9" font-size="24" textLength="111" lengthAdjust="spacingAndGlyphs">GC + LPS</text>
<text x="1" y="2186.25" font-size="40" font-weight="bold" fill="#1a1a1a">h</text>
<rect x="243" y="2202" width="123.25" height="314" fill="#e0e0e0"/>
<rect x="190.35" y="2275.75" width="14.3" height="165" fill="#0b6a8a" stroke="#000" stroke-width="2.3"/>
<rect x="217.1" y="2382.5" width="14.3" height="58.25" fill="#1d9b6c" stroke="#000" stroke-width="2.3"/>
<rect x="313.35" y="2273.75" width="14.3" height="167" fill="#0b6a8a" stroke="#000" stroke-width="2.3"/>
<rect x="339.85" y="2311.25" width="14.3" height="129.5" fill="#1d9b6c" stroke="#000" stroke-width="2.3"/>
<line x1="320.5" y1="2265" x2="320.5" y2="2274" stroke="#000" stroke-width="2.4"/>
<line x1="314.5" y1="2265" x2="326.5" y2="2265" stroke="#000" stroke-width="2.4"/>
<line x1="347" y1="2302" x2="347" y2="2312" stroke="#000" stroke-width="2.4"/>
<line x1="341" y1="2302" x2="353" y2="2302" stroke="#000" stroke-width="2.4"/>
<line x1="224.25" y1="2372" x2="224.25" y2="2383" stroke="#000" stroke-width="2.4"/>
<line x1="218.25" y1="2372" x2="230.25" y2="2372" stroke="#000" stroke-width="2.4"/>
<line x1="128.25" y1="2201.8" x2="128.25" y2="2441.95" stroke="#000" stroke-width="2.4"/>
<line x1="119.25" y1="2440.75" x2="366.25" y2="2440.75" stroke="#000" stroke-width="2.6"/>
<line x1="119.25" y1="2203" x2="128.25" y2="2203" stroke="#000" stroke-width="2.4"/>
<text x="111.75" y="2211.3" font-size="23" text-anchor="end">2.5</text>
<line x1="119.25" y1="2250.5" x2="128.25" y2="2250.5" stroke="#000" stroke-width="2.4"/>
<text x="111.75" y="2258.8" font-size="23" text-anchor="end">2.0</text>
<line x1="119.25" y1="2298" x2="128.25" y2="2298" stroke="#000" stroke-width="2.4"/>
<text x="111.75" y="2306.3" font-size="23" text-anchor="end">1.5</text>
<line x1="119.25" y1="2345.75" x2="128.25" y2="2345.75" stroke="#000" stroke-width="2.4"/>
<text x="111.75" y="2354.05" font-size="23" text-anchor="end">1.0</text>
<line x1="119.25" y1="2393.25" x2="128.25" y2="2393.25" stroke="#000" stroke-width="2.4"/>
<text x="111.75" y="2401.55" font-size="23" text-anchor="end">0.5</text>
<text x="111.75" y="2449.05" font-size="23" text-anchor="end">0.0</text>
<g fill="#fff" stroke="#000" stroke-width="2.7">
<circle cx="142.5" cy="2437.5" r="5.9"/>
<circle cx="147.5" cy="2437.5" r="5.9"/>
<circle cx="168.75" cy="2437.5" r="5.9"/>
<circle cx="173.75" cy="2437.5" r="5.9"/>
<circle cx="197" cy="2257" r="5.9"/>
<circle cx="194.5" cy="2261.25" r="5.9"/>
<circle cx="200" cy="2263.75" r="5.9"/>
<circle cx="193.75" cy="2266.25" r="5.9"/>
<circle cx="197.5" cy="2293.75" r="5.9"/>
<circle cx="197.5" cy="2309.5" r="5.9"/>
<circle cx="223.25" cy="2363.75" r="5.9"/>
<circle cx="227.5" cy="2368.25" r="5.9"/>
<circle cx="220.5" cy="2373.25" r="5.9"/>
<circle cx="226.25" cy="2387.5" r="5.9"/>
<circle cx="226.25" cy="2396.25" r="5.9"/>
<circle cx="221.25" cy="2400.75" r="5.9"/>
<circle cx="265" cy="2437.5" r="5.9"/>
<circle cx="270" cy="2437.5" r="5.9"/>
<circle cx="291.25" cy="2437.5" r="5.9"/>
<circle cx="296.25" cy="2437.5" r="5.9"/>
<circle cx="320.5" cy="2237" r="5.9"/>
<circle cx="316.25" cy="2250.5" r="5.9"/>
<circle cx="323.25" cy="2259.5" r="5.9"/>
<circle cx="316.25" cy="2282.5" r="5.9"/>
<circle cx="323.25" cy="2293.25" r="5.9"/>
<circle cx="320.5" cy="2315.5" r="5.9"/>
<circle cx="347" cy="2282.5" r="5.9"/>
<circle cx="347" cy="2287.5" r="5.9"/>
<circle cx="347" cy="2315" r="5.9"/>
<circle cx="351.25" cy="2323.25" r="5.9"/>
<circle cx="346.25" cy="2323.75" r="5.9"/>
<circle cx="343.75" cy="2332" r="5.9"/>
</g>
<text x="162" y="2177" font-size="20" textLength="84.25" lengthAdjust="spacing"><tspan font-style="italic">P</tspan> = 0.0001</text>
<line x1="192" y1="2185" x2="218.75" y2="2185" stroke="#000" stroke-width="2.6"/>
<text x="299.25" y="2177.5" font-size="20" textLength="75.25" lengthAdjust="spacing"><tspan font-style="italic">P</tspan> = 0.028</text>
<line x1="322.5" y1="2186.25" x2="348.75" y2="2186.25" stroke="#000" stroke-width="2.6"/>
<text x="250" y="2214.25" font-size="20" textLength="84.5" lengthAdjust="spacing"><tspan font-style="italic">P</tspan> = 0.0001</text>
<line x1="223.25" y1="2224.25" x2="352.5" y2="2224.25" stroke="#000" stroke-width="2.6"/>
<text x="133.25" y="2477.5" font-size="21.81" font-style="italic" textLength="66.75" lengthAdjust="spacingAndGlyphs">Nfe2l2</text>
<text x="202" y="2464.5" font-size="21" textLength="31.75" lengthAdjust="spacingAndGlyphs">+/+</text>
<text x="264.5" y="2477.5" font-size="21.57" font-style="italic" textLength="66" lengthAdjust="spacingAndGlyphs">Nfe2l2</text>
<text x="332.5" y="2464.5" font-size="21" textLength="21.25" lengthAdjust="spacingAndGlyphs">-/-</text>
<text font-size="23.5" text-anchor="middle" textLength="139" lengthAdjust="spacingAndGlyphs" transform="translate(66,2327) rotate(-90)">IL-1β (ng/ml)</text>
<rect x="607.5" y="2202" width="122.5" height="314" fill="#e0e0e0"/>
<rect x="557.35" y="2335.75" width="14.3" height="106.25" fill="#0b6a8a" stroke="#000" stroke-width="2.3"/>
<rect x="583.35" y="2377.5" width="14.3" height="64.5" fill="#1d9b6c" stroke="#000" stroke-width="2.3"/>
<rect x="679.1" y="2306.75" width="14.3" height="135.25" fill="#0b6a8a" stroke="#000" stroke-width="2.3"/>
<rect x="704.6" y="2331.25" width="14.3" height="110.75" fill="#1d9b6c" stroke="#000" stroke-width="2.3"/>
<line x1="590.5" y1="2369.25" x2="590.5" y2="2378" stroke="#000" stroke-width="2.4"/>
<line x1="584.5" y1="2369.25" x2="596.5" y2="2369.25" stroke="#000" stroke-width="2.4"/>
<line x1="496.75" y1="2203.3" x2="496.75" y2="2443.2" stroke="#000" stroke-width="2.4"/>
<line x1="487.75" y1="2442" x2="730" y2="2442" stroke="#000" stroke-width="2.6"/>
<line x1="487.75" y1="2204.5" x2="496.75" y2="2204.5" stroke="#000" stroke-width="2.4"/>
<text x="481.75" y="2212.8" font-size="23" text-anchor="end">8</text>
<line x1="487.75" y1="2263.75" x2="496.75" y2="2263.75" stroke="#000" stroke-width="2.4"/>
<text x="481.75" y="2272.05" font-size="23" text-anchor="end">6</text>
<line x1="487.75" y1="2323" x2="496.75" y2="2323" stroke="#000" stroke-width="2.4"/>
<text x="481.75" y="2331.3" font-size="23" text-anchor="end">4</text>
<line x1="487.75" y1="2382.5" x2="496.75" y2="2382.5" stroke="#000" stroke-width="2.4"/>
<text x="481.75" y="2390.8" font-size="23" text-anchor="end">2</text>
<text x="481.75" y="2450.3" font-size="23" text-anchor="end">0</text>
<g fill="#fff" stroke="#000" stroke-width="2.7">
<circle cx="512" cy="2442" r="5.9"/>
<circle cx="514.5" cy="2442" r="5.9"/>
<circle cx="538" cy="2442" r="5.9"/>
<circle cx="540.5" cy="2442" r="5.9"/>
<circle cx="564.5" cy="2309.5" r="5.9"/>
<circle cx="564.5" cy="2323" r="5.9"/>
<circle cx="564.5" cy="2334.25" r="5.9"/>
<circle cx="563.75" cy="2342.5" r="5.9"/>
<circle cx="560" cy="2348.25" r="5.9"/>
<circle cx="567" cy="2348" r="5.9"/>
<circle cx="590.5" cy="2341.75" r="5.9"/>
<circle cx="589.5" cy="2380" r="5.9"/>
<circle cx="591.25" cy="2382" r="5.9"/>
<circle cx="590.5" cy="2395" r="5.9"/>
<circle cx="632.5" cy="2442" r="5.9"/>
<circle cx="635" cy="2442" r="5.9"/>
<circle cx="658.75" cy="2442" r="5.9"/>
<circle cx="661.25" cy="2442" r="5.9"/>
<circle cx="688" cy="2276.25" r="5.9"/>
<circle cx="682.5" cy="2283" r="5.9"/>
<circle cx="688.75" cy="2289.5" r="5.9"/>
<circle cx="682.5" cy="2298.75" r="5.9"/>
<circle cx="687.5" cy="2339.5" r="5.9"/>
<circle cx="682.5" cy="2346.25" r="5.9"/>
<circle cx="708.75" cy="2321.25" r="5.9"/>
<circle cx="714.5" cy="2323.25" r="5.9"/>
<circle cx="710" cy="2331.25" r="5.9"/>
<circle cx="714.5" cy="2337.5" r="5.9"/>
<circle cx="708.25" cy="2340" r="5.9"/>
</g>
<text x="533.25" y="2217" font-size="20" textLength="82.25" lengthAdjust="spacing"><tspan font-style="italic">P</tspan> = 0.0001</text>
<line x1="562.5" y1="2225" x2="588.75" y2="2225" stroke="#000" stroke-width="2.6"/>
<text x="610" y="2247" font-size="20" textLength="83" lengthAdjust="spacing"><tspan font-style="italic">P</tspan> = 0.0001</text>
<line x1="590.5" y1="2256.25" x2="713.75" y2="2256.25" stroke="#000" stroke-width="2.6"/>
<text x="500" y="2477.5" font-size="21.9" font-style="italic" textLength="67" lengthAdjust="spacingAndGlyphs">Nfe2l2</text>
<text x="569" y="2464.5" font-size="21" textLength="32.25" lengthAdjust="spacingAndGlyphs">+/+</text>
<text x="625" y="2477.5" font-size="21.65" font-style="italic" textLength="66.25" lengthAdjust="spacingAndGlyphs">Nfe2l2</text>
<text x="693.25" y="2464.5" font-size="21" textLength="21.25" lengthAdjust="spacingAndGlyphs">-/-</text>
<text font-size="23.5" text-anchor="middle" textLength="129" lengthAdjust="spacingAndGlyphs" transform="translate(446,2326) rotate(-90)">IL-6 (ng/ml)</text>
<rect x="981" y="2208.8" width="122.3" height="307.2" fill="#e0e0e0"/>
<rect x="933.4" y="2327.7" width="13.6" height="113.9" fill="#0b6a8a" stroke="#000" stroke-width="2.3"/>
<rect x="958.2" y="2374.6" width="13.6" height="67" fill="#1d9b6c" stroke="#000" stroke-width="2.3"/>
<rect x="1051.3" y="2301.6" width="13.6" height="140" fill="#0b6a8a" stroke="#000" stroke-width="2.3"/>
<rect x="1076.4" y="2335" width="13.6" height="106.6" fill="#1d9b6c" stroke="#000" stroke-width="2.3"/>
<line x1="940.2" y1="2317.7" x2="940.2" y2="2328" stroke="#000" stroke-width="2.4"/>
<line x1="934.2" y1="2317.7" x2="946.2" y2="2317.7" stroke="#000" stroke-width="2.4"/>
<line x1="873.9" y1="2208.6" x2="873.9" y2="2442.8" stroke="#000" stroke-width="2.4"/>
<line x1="864.9" y1="2441.6" x2="1101.6" y2="2441.6" stroke="#000" stroke-width="2.6"/>
<line x1="864.9" y1="2209.8" x2="873.9" y2="2209.8" stroke="#000" stroke-width="2.4"/>
<text x="859.9" y="2218.1" font-size="23" text-anchor="end">4</text>
<line x1="864.9" y1="2267.4" x2="873.9" y2="2267.4" stroke="#000" stroke-width="2.4"/>
<text x="859.9" y="2275.7" font-size="23" text-anchor="end">3</text>
<line x1="864.9" y1="2325.4" x2="873.9" y2="2325.4" stroke="#000" stroke-width="2.4"/>
<text x="859.9" y="2333.7" font-size="23" text-anchor="end">2</text>
<line x1="864.9" y1="2383.6" x2="873.9" y2="2383.6" stroke="#000" stroke-width="2.4"/>
<text x="859.9" y="2391.9" font-size="23" text-anchor="end">1</text>
<text x="859.9" y="2449.9" font-size="23" text-anchor="end">0</text>
<g fill="#fff" stroke="#000" stroke-width="2.7">
<circle cx="888.61" cy="2441.58" r="5.9"/>
<circle cx="891.29" cy="2441.58" r="5.9"/>
<circle cx="913.73" cy="2441.58" r="5.9"/>
<circle cx="916.41" cy="2441.58" r="5.9"/>
<circle cx="942.54" cy="2299.24" r="5.9"/>
<circle cx="936.84" cy="2304.93" r="5.9"/>
<circle cx="943.21" cy="2325.36" r="5.9"/>
<circle cx="935.84" cy="2331.05" r="5.9"/>
<circle cx="942.54" cy="2342.11" r="5.9"/>
<circle cx="937.51" cy="2353.83" r="5.9"/>
<circle cx="966.99" cy="2365.22" r="5.9"/>
<circle cx="962.63" cy="2369.57" r="5.9"/>
<circle cx="968.33" cy="2379.62" r="5.9"/>
<circle cx="961.96" cy="2383.97" r="5.9"/>
<circle cx="964.98" cy="2400.72" r="5.9"/>
<circle cx="1005.84" cy="2441.58" r="5.9"/>
<circle cx="1008.52" cy="2441.58" r="5.9"/>
<circle cx="1031.63" cy="2441.58" r="5.9"/>
<circle cx="1034.31" cy="2441.58" r="5.9"/>
<circle cx="1058.09" cy="2278.47" r="5.9"/>
<circle cx="1058.09" cy="2291.87" r="5.9"/>
<circle cx="1054.07" cy="2306.94" r="5.9"/>
<circle cx="1060.43" cy="2306.94" r="5.9"/>
<circle cx="1058.09" cy="2318.66" r="5.9"/>
<circle cx="1058.09" cy="2331.05" r="5.9"/>
<circle cx="1083.21" cy="2321.01" r="5.9"/>
<circle cx="1084.88" cy="2331.05" r="5.9"/>
<circle cx="1080.53" cy="2339.43" r="5.9"/>
<circle cx="1086.56" cy="2341.1" r="5.9"/>
<circle cx="1081.53" cy="2343.45" r="5.9"/>
</g>
<text x="905.7" y="2212.2" font-size="20" textLength="83.7" lengthAdjust="spacing"><tspan font-style="italic">P</tspan> = 0.0001</text>
<line x1="934.8" y1="2220.5" x2="961" y2="2220.5" stroke="#000" stroke-width="2.6"/>
<text x="1034" y="2213.2" font-size="20" textLength="74.3" lengthAdjust="spacing"><tspan font-style="italic">P</tspan> = 0.002</text>
<line x1="1057.1" y1="2221.5" x2="1082.2" y2="2221.5" stroke="#000" stroke-width="2.6"/>
<text x="981" y="2250.7" font-size="20" textLength="83.8" lengthAdjust="spacing"><tspan font-style="italic">P</tspan> = 0.0001</text>
<line x1="959.3" y1="2260.7" x2="1088.2" y2="2260.7" stroke="#000" stroke-width="2.6"/>
<text x="874.9" y="2477.4" font-size="22.09" font-style="italic" textLength="67.6" lengthAdjust="spacingAndGlyphs">Nfe2l2</text>
<text x="944.5" y="2464.4" font-size="21" textLength="31.5" lengthAdjust="spacingAndGlyphs">+/+</text>
<text x="1001.8" y="2477.4" font-size="22.22" font-style="italic" textLength="68" lengthAdjust="spacingAndGlyphs">Nfe2l2</text>
<text x="1071.8" y="2464.4" font-size="21" textLength="21.5" lengthAdjust="spacingAndGlyphs">-/-</text>
<text font-size="23.5" text-anchor="middle" textLength="129" lengthAdjust="spacingAndGlyphs" transform="translate(819.6,2327) rotate(-90)">TNF (ng/ml)</text>
<rect x="1134.6" y="2215.7" width="13.4" height="13.4" fill="#000" stroke="#1a1a1a" stroke-width="2.4"/>
<text x="1171.3" y="2230.6" font-size="25.8" textLength="41" lengthAdjust="spacingAndGlyphs">Ctrl</text>
<rect x="1134.6" y="2245.8" width="13.4" height="13.4" fill="#e5bf6b" stroke="#1a1a1a" stroke-width="2.4"/>
<text x="1171.3" y="2260" font-size="25.8" textLength="39" lengthAdjust="spacingAndGlyphs">GC</text>
<rect x="1134.6" y="2276.8" width="13.4" height="13.4" fill="#0b6a8a" stroke="#1a1a1a" stroke-width="2.4"/>
<text x="1171.3" y="2290.9" font-size="25.8" textLength="49.5" lengthAdjust="spacingAndGlyphs">LPS</text>
<rect x="1134.6" y="2307.1" width="13.4" height="13.4" fill="#1d9b6c" stroke="#1a1a1a" stroke-width="2.4"/>
<text x="1171.3" y="2320.3" font-size="25.8" textLength="120.6" lengthAdjust="spacingAndGlyphs">GC + LPS</text>
<defs><filter id="bl1" filterUnits="userSpaceOnUse" x="1400" y="1380" width="500" height="700"><feGaussianBlur stdDeviation="2.8"/></filter><filter id="bl2" filterUnits="userSpaceOnUse" x="1400" y="1380" width="500" height="700"><feGaussianBlur stdDeviation="2.4"/></filter><filter id="bl3" filterUnits="userSpaceOnUse" x="1400" y="1380" width="500" height="700"><feGaussianBlur stdDeviation="5"/></filter><linearGradient id="gf" x1="0" y1="0" x2="1" y2="0"><stop offset="0" stop-color="#828280"/><stop offset="0.6" stop-color="#868684"/><stop offset="1" stop-color="#8e8e8c"/></linearGradient><linearGradient id="gf2" x1="0" y1="0" x2="1" y2="0"><stop offset="0" stop-color="#929290"/><stop offset="1" stop-color="#989896"/></linearGradient></defs>
<text x="1366" y="1296.3" font-size="40" font-weight="bold" fill="#1a1a1a">f</text>
<svg x="1462.2" y="1418.4" width="347.7" height="55.3" viewBox="1462.2 1418.4 347.7 55.3" overflow="hidden">
<rect x="1457.2" y="1413.4" width="357.7" height="65.3" fill="url(#gf)"/>
<g filter="url(#bl1)" fill="none" stroke-linecap="round">
<rect x="1488" y="1434" width="58" height="18" rx="4" fill="#555" opacity="0.5"/>
<path d="M1490 1457Q1515 1461 1541 1456" stroke="#1a1c1e" stroke-width="17" opacity="0.97"/>
<rect x="1656" y="1418" width="12" height="28" rx="4" fill="#555" opacity="0.4"/>
<rect x="1700" y="1418" width="14" height="26" rx="4" fill="#555" opacity="0.45"/>
<rect x="1664" y="1428" width="42" height="14" rx="4" fill="#666" opacity="0.3"/>
<path d="M1663 1448Q1686 1451 1707 1444" stroke="#1a1c1e" stroke-width="12" opacity="0.97"/>
</g></svg>
<svg x="1462.2" y="1479.3" width="348.5" height="54.8" viewBox="1462.2 1479.3 348.5 54.8" overflow="hidden">
<rect x="1457.2" y="1474.3" width="358.5" height="64.8" fill="url(#gf2)"/>
<g filter="url(#bl1)" fill="none" stroke-linecap="round">
<path d="M1486 1506Q1513 1510 1542 1505" stroke="#2c2c2c" stroke-width="18" opacity="0.93"/>
<path d="M1578 1506Q1605 1509 1632 1504" stroke="#2c2c2c" stroke-width="18" opacity="0.93"/>
<path d="M1659 1503Q1690 1508 1717 1498" stroke="#2c2c2c" stroke-width="18" opacity="0.93"/>
<path d="M1742 1500Q1772 1504 1798 1491" stroke="#2c2c2c" stroke-width="18" opacity="0.93"/>
</g></svg>
<text font-size="24" transform="translate(1383,1409.2) scale(0.83,1)">(kDa)</text>
<text font-size="24" text-anchor="end" transform="translate(1436.5,1456.4) scale(0.83,1)">~100</text>
<line x1="1440" y1="1448.8" x2="1457.5" y2="1448.8" stroke="#000" stroke-width="2.4"/>
<text font-size="24" text-anchor="end" transform="translate(1436.5,1493.7) scale(0.83,1)">~55</text>
<line x1="1440" y1="1485.2" x2="1457.5" y2="1485.2" stroke="#000" stroke-width="2.4"/>
<text x="1831" y="1455.4" font-size="28.5" textLength="69" lengthAdjust="spacingAndGlyphs">NRF2</text>
<text x="1830.4" y="1515.9" font-size="28.5" textLength="74" lengthAdjust="spacingAndGlyphs">ACTB</text>
<g transform="translate(1503.5,1399.3) rotate(-45.7)"><text x="0" y="0" font-size="26" font-style="italic" textLength="75.5" lengthAdjust="spacingAndGlyphs">Nfe2l2</text><text x="76.5" y="-10.5" font-size="16" font-style="italic" textLength="24" lengthAdjust="spacingAndGlyphs">+/+</text></g>
<g transform="translate(1590.6,1399.3) rotate(-45.7)"><text x="0" y="0" font-size="26" font-style="italic" textLength="75.5" lengthAdjust="spacingAndGlyphs">Nfe2l2</text><text x="76.5" y="-10.5" font-size="16" font-style="italic" textLength="16" lengthAdjust="spacingAndGlyphs">-/-</text></g>
<g transform="translate(1677,1399.3) rotate(-45.7)"><text x="0" y="0" font-size="26" font-style="italic" textLength="75.5" lengthAdjust="spacingAndGlyphs">Nfe2l2</text><text x="76.5" y="-10.5" font-size="16" font-style="italic" textLength="24" lengthAdjust="spacingAndGlyphs">+/+</text></g>
<g transform="translate(1764.2,1399.3) rotate(-45.7)"><text x="0" y="0" font-size="26" font-style="italic" textLength="75.5" lengthAdjust="spacingAndGlyphs">Nfe2l2</text><text x="76.5" y="-10.5" font-size="16" font-style="italic" textLength="16" lengthAdjust="spacingAndGlyphs">-/-</text></g>
<text x="1366" y="1764.4" font-size="40" font-weight="bold" fill="#1a1a1a">g</text>
<svg x="1462.2" y="1870.2" width="348.6" height="50.5" viewBox="1462.2 1870.2 348.6 50.5" overflow="hidden">
<rect x="1457.2" y="1865.2" width="358.6" height="60.5" fill="#b9beb9"/>
<g filter="url(#bl1)" fill="none" stroke-linecap="round">
<rect x="1474" y="1864" width="68" height="28" rx="4" fill="#3c403a" opacity="0.62"/>
<rect x="1474" y="1900" width="68" height="24" rx="4" fill="#4a4e48" opacity="0.38"/>
<rect x="1566" y="1864" width="58" height="28" rx="4" fill="#3c403a" opacity="0.62"/>
<rect x="1566" y="1900" width="58" height="24" rx="4" fill="#4a4e48" opacity="0.38"/>
<rect x="1649" y="1864" width="58" height="28" rx="4" fill="#3c403a" opacity="0.62"/>
<rect x="1649" y="1900" width="58" height="24" rx="4" fill="#4a4e48" opacity="0.38"/>
<rect x="1726" y="1864" width="71" height="28" rx="4" fill="#3c403a" opacity="0.62"/>
<rect x="1726" y="1900" width="71" height="24" rx="4" fill="#4a4e48" opacity="0.38"/>
<path d="M1481 1894.5Q1508 1897 1535 1894.5" stroke="#15170f" stroke-width="18.5" opacity="0.97"/>
<path d="M1573 1894.5Q1595 1897 1617 1894.5" stroke="#15170f" stroke-width="18.5" opacity="0.97"/>
<path d="M1656 1894.5Q1678 1897 1700 1894.5" stroke="#15170f" stroke-width="18.5" opacity="0.97"/>
<path d="M1733 1894.5Q1761.5 1897 1790 1894.5" stroke="#15170f" stroke-width="25" opacity="0.97"/>
</g></svg>
<svg x="1462.2" y="1932.3" width="348.6" height="50.4" viewBox="1462.2 1932.3 348.6 50.4" overflow="hidden">
<rect x="1457.2" y="1927.3" width="358.6" height="60.4" fill="#bfc4bf"/>
<g filter="url(#bl2)" fill="none" stroke-linecap="round">
<path d="M1486 1954Q1512.5 1960 1539 1954" stroke="#15150e" stroke-width="23" opacity="0.98"/>
<path d="M1572 1954Q1596 1960 1620 1954" stroke="#15150e" stroke-width="23" opacity="0.98"/>
<path d="M1650.6 1954Q1677.3 1960 1704 1954" stroke="#15150e" stroke-width="23" opacity="0.98"/>
<path d="M1733.6 1954Q1759.8 1960 1786 1954" stroke="#15150e" stroke-width="23" opacity="0.98"/>
</g></svg>
<text font-size="24" transform="translate(1383,1860.1) scale(0.83,1)">(kDa)</text>
<text font-size="24" text-anchor="end" transform="translate(1436.5,1908) scale(0.83,1)">~100</text>
<line x1="1440" y1="1900.4" x2="1457.5" y2="1900.4" stroke="#000" stroke-width="2.4"/>
<text font-size="24" text-anchor="end" transform="translate(1436.5,1942.7) scale(0.83,1)">~55</text>
<line x1="1440" y1="1934.4" x2="1457.5" y2="1934.4" stroke="#000" stroke-width="2.4"/>
<text x="1831" y="1902" font-size="28.5" textLength="69" lengthAdjust="spacingAndGlyphs">NRF2</text>
<text x="1830.4" y="1964.1" font-size="28.5" textLength="74" lengthAdjust="spacingAndGlyphs">ACTB</text>
<text font-size="25.5" textLength="38.5" lengthAdjust="spacingAndGlyphs" transform="translate(1505.4,1850.5) rotate(-45)">Ctrl</text>
<text font-size="25.5" textLength="37.5" lengthAdjust="spacingAndGlyphs" transform="translate(1591.5,1849.5) rotate(-45)">GC</text>
<text font-size="25.5" textLength="46.5" lengthAdjust="spacingAndGlyphs" transform="translate(1679.5,1851) rotate(-45)">LPS</text>
<text font-size="25.5" textLength="105" lengthAdjust="spacingAndGlyphs" transform="translate(1766,1849.5) rotate(-45)">GC+LPS</text>
</svg>
</body></html>
